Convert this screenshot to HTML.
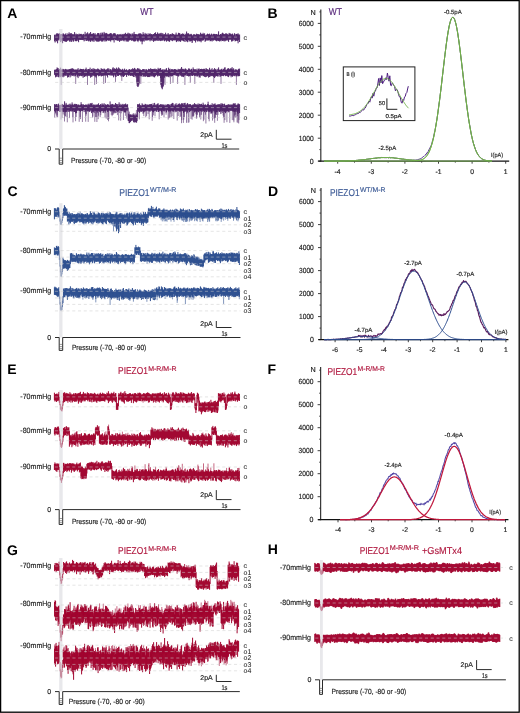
<!DOCTYPE html>
<html><head><meta charset="utf-8"><title>Figure</title>
<style>
html,body{margin:0;padding:0;background:#fff;}
body{width:520px;height:713px;overflow:hidden;}
svg{display:block;font-family:"Liberation Sans", sans-serif;will-change:transform;text-rendering:geometricPrecision;}
</style></head>
<body>
<svg width="520" height="713" viewBox="0 0 520 713">
<rect width="520" height="713" fill="#fff"/>
<rect x="0.6" y="0.6" width="518.6" height="711.6" fill="none" stroke="#000" stroke-width="1.3"/>
<text x="7.3" y="17.8" font-size="14" fill="#000" font-weight="bold">A</text>
<text x="267.6" y="18" font-size="14" fill="#000" font-weight="bold">B</text>
<text x="7.6" y="195.6" font-size="14" fill="#000" font-weight="bold">C</text>
<text x="268" y="195.5" font-size="14" fill="#000" font-weight="bold">D</text>
<text x="7.3" y="374.2" font-size="14" fill="#000" font-weight="bold">E</text>
<text x="267.6" y="374.4" font-size="14" fill="#000" font-weight="bold">F</text>
<text x="7.1" y="554.5" font-size="14" fill="#000" font-weight="bold">G</text>
<text x="267.8" y="554.4" font-size="14" fill="#000" font-weight="bold">H</text>
<text x="140.2" y="15" font-size="10.0" fill="#5a2a7c" stroke="#5a2a7c" stroke-width="0.16" textLength="13.4" lengthAdjust="spacingAndGlyphs">WT</text>
<text x="328.8" y="15.3" font-size="10.0" fill="#5a2a7c" stroke="#5a2a7c" stroke-width="0.16" textLength="13.2" lengthAdjust="spacingAndGlyphs">WT</text>
<text x="119.2" y="195.8" font-size="10.0" fill="#3d5b96" stroke="#3d5b96" stroke-width="0.16" textLength="30.4" lengthAdjust="spacingAndGlyphs">PIEZO1</text>
<text x="150" y="192.2" font-size="6.8" fill="#3d5b96" stroke="#3d5b96" stroke-width="0.16" textLength="26.4" lengthAdjust="spacingAndGlyphs">WT/M-R</text>
<text x="330" y="195.6" font-size="10.0" fill="#3d5b96" stroke="#3d5b96" stroke-width="0.16" textLength="29.5" lengthAdjust="spacingAndGlyphs">PIEZO1</text>
<text x="359.9" y="192" font-size="6.8" fill="#3d5b96" stroke="#3d5b96" stroke-width="0.16" textLength="25.5" lengthAdjust="spacingAndGlyphs">WT/M-R</text>
<text x="118.1" y="374.3" font-size="10.0" fill="#b0183f" stroke="#b0183f" stroke-width="0.16" textLength="29.7" lengthAdjust="spacingAndGlyphs">PIEZO1</text>
<text x="148.2" y="370.7" font-size="6.8" fill="#b0183f" stroke="#b0183f" stroke-width="0.16" textLength="28.4" lengthAdjust="spacingAndGlyphs">M-R/M-R</text>
<text x="327.5" y="375" font-size="10.0" fill="#b0183f" stroke="#b0183f" stroke-width="0.16" textLength="29.7" lengthAdjust="spacingAndGlyphs">PIEZO1</text>
<text x="357.6" y="371.4" font-size="6.8" fill="#b0183f" stroke="#b0183f" stroke-width="0.16" textLength="27.4" lengthAdjust="spacingAndGlyphs">M-R/M-R</text>
<text x="118.1" y="554.2" font-size="10.0" fill="#b0183f" stroke="#b0183f" stroke-width="0.16" textLength="29.7" lengthAdjust="spacingAndGlyphs">PIEZO1</text>
<text x="148.2" y="550.6" font-size="6.8" fill="#b0183f" stroke="#b0183f" stroke-width="0.16" textLength="28.4" lengthAdjust="spacingAndGlyphs">M-R/M-R</text>
<text x="359.7" y="553.9" font-size="10.0" fill="#b0183f" stroke="#b0183f" stroke-width="0.16" textLength="29.6" lengthAdjust="spacingAndGlyphs">PIEZO1</text>
<text x="389.7" y="550.3" font-size="6.8" fill="#b0183f" stroke="#b0183f" stroke-width="0.16" textLength="29.3" lengthAdjust="spacingAndGlyphs">M-R/M-R</text>
<text x="422" y="553.9" font-size="10.0" fill="#b0183f" stroke="#b0183f" stroke-width="0.16" textLength="40.0" lengthAdjust="spacingAndGlyphs">+GsMTx4</text>
<text x="51.3" y="38.8" font-size="7.6" fill="#222" stroke="#222" stroke-width="0.16" text-anchor="end" textLength="31.0" lengthAdjust="spacingAndGlyphs">-70mmHg</text>
<text x="51.3" y="74.6" font-size="7.6" fill="#222" stroke="#222" stroke-width="0.16" text-anchor="end" textLength="31.0" lengthAdjust="spacingAndGlyphs">-80mmHg</text>
<text x="51.3" y="109.6" font-size="7.6" fill="#222" stroke="#222" stroke-width="0.16" text-anchor="end" textLength="31.0" lengthAdjust="spacingAndGlyphs">-90mmHg</text>
<path d="M54.6 35V41.2M55.1 34.3V42.5M55.6 35.5V40.1M56.1 35.3V41.5M56.6 33.4V41M57.1 34.3V40.1M57.6 33.3V43.3M58.1 34.3V40.3M58.6 33.9V39.7M59.1 33.4V40.6M59.6 33.4V39M60.1 34.3V40M60.6 34.4V42.1M61.1 34.3V40.2M61.6 34V40.7M62.1 35.5V39.8M62.6 34.3V43.2M63.1 33.1V39.7M63.6 34.1V41M64.1 34.4V41M64.6 34.6V41.4M65.1 35V41.1M65.6 33.5V41.7M66.1 34.9V41.6M66.6 35V41.8M67.1 33.3V40.3M67.6 34.7V40.8M68.1 35.3V40.2M68.6 33.8V40.4M69.1 32.3V39.5M69.6 34.2V41.5M70.1 33.4V41.8M70.6 33.4V40.5M71.1 34.7V39.9M71.6 33.2V41.9M72.1 34.9V39M72.6 34.2V40.3M73.1 34.2V41.4M73.6 34.5V41.6M74.1 34.9V39.7M74.6 32.1V39.1M75.1 34V41M75.6 35.4V41.2M76.1 33.6V41.1M76.6 34.7V41.2M77.1 34.1V40.7M77.6 34.3V39.6M78.1 35.3V40.9M78.6 34.5V42.2M79.1 33.6V39.7M79.6 34.4V39.6M80.1 34.6V40M80.6 34V39.7M81.1 33.8V40M81.6 34.2V39.8M82.1 35.6V40M82.6 34.4V39.9M83.1 35.2V40.1M83.6 33.9V39.7M84.1 34.3V41.4M84.6 35.3V39.1M85.1 31.8V40.8M85.6 34.3V39.4M86.1 34.7V39M86.6 33.4V41M87.1 34.7V39.7M87.6 32.3V40.5M88.1 33.9V40.6M88.6 34.6V41.4M89.1 33.4V40.1M89.6 33.5V40.6M90.1 34.4V41.5M90.6 32V41.8M91.1 34.4V40.3M91.6 34.1V40.1M92.1 33.7V41M92.6 33.8V40.2M93.1 34.5V41.6M93.6 33.1V39.9M94.1 33.8V41.7M94.6 34.7V39.2M95.1 33.2V40.2M95.6 35V40.4M96.1 34.2V41.2M96.6 35.4V41.5M97.1 35V40.1M97.6 33.2V41.7M98.1 33V40.9M98.6 33.1V41.6M99.1 34.3V41.5M99.6 35.2V40.8M100.1 33.1V41.1M100.6 34.8V40.4M101.1 32.6V39.9M101.6 34.7V41.6M102.1 34.4V40.7M102.6 32.6V41.6M103.1 33.7V40.4M103.6 35.3V40.2M104.1 31.9V40.3M104.6 33.3V39.5M105.1 34.5V41.6M105.6 33.4V39.9M106.1 32.9V41M106.6 33.3V41.3M107.1 33.6V39.8M107.6 34.3V40.2M108.1 34.5V40.4M108.6 34.4V40.7M109.1 33.9V39.7M109.6 33.8V40.7M110.1 33.7V39.3M110.6 33.2V40.9M111.1 33V39.7M111.6 34.2V40.2M112.1 34.2V40.1M112.6 35.3V39.8M113.1 33.8V40.4M113.6 33.5V40M114.1 33.1V42.5M114.6 33.5V39M115.1 33.3V39.8M115.6 34.3V40.2M116.1 34.9V40M116.6 35.5V40.4M117.1 34.5V39.6M117.6 34.2V40.2M118.1 35V40.9M118.6 34.6V40.4M119.1 34.3V38.8M119.6 34.8V41.9M120.1 34.2V40.5M120.6 34.8V40.7M121.1 33.9V39.8M121.6 35.1V40.8M122.1 35.2V38.4M122.6 34.3V40.3M123.1 33.9V40.5M123.6 34.9V40.5M124.1 33.9V41.4M124.6 33.8V39.9M125.1 35V40.3M125.6 32.8V39.6M126.1 34.2V41.5M126.6 34.1V40.5M127.1 34.4V41.6M127.6 33.6V40.8M128.1 32.7V41.9M128.6 34.4V40.6M129.1 33.4V40.5M129.6 33.7V40.1M130.1 33.7V40.2M130.6 34.3V39.9M131.1 34.4V39.3M131.6 35.6V40.7M132.1 33.4V40.7M132.6 34.4V40.1M133.1 33.5V40.3M133.6 34.6V41.1M134.1 31.9V41.7M134.6 34.1V41M135.1 34.4V41.5M135.6 34.1V41M136.1 34.7V39.5M136.6 34.3V39.5M137.1 34.2V41.1M137.6 35.2V41.3M138.1 34.3V40.3M138.6 34V40.5M139.1 33V40.7M139.6 33.9V39.5M140.1 34V40.2M140.6 33.3V41.5M141.1 33.8V39.4M141.6 34.7V41.4M142.1 34.3V44.3M142.6 34.9V41.6M143.1 32.2V39.1M143.6 34.1V40.8M144.1 34.6V41.7M144.6 34.6V39.3M145.1 32.9V40.6M145.6 34.2V39.9M146.1 35.1V40.6M146.6 33.7V39.9M147.1 34.9V40.7M147.6 34.8V40.1M148.1 33.3V38.8M148.6 35V40.1M149.1 34.3V40.4M149.6 33.9V39.5M150.1 33.2V41.3M150.6 34.3V39.7M151.1 34.3V40.3M151.6 34.1V39.9M152.1 35.1V41M152.6 34.5V38.9M153.1 34.2V39.8M153.6 34V41.9M154.1 34.7V40.9M154.6 33.1V40.3M155.1 33.4V41.1M155.6 32.3V40.4M156.1 34.2V40.2M156.6 34V40.3M157.1 34.2V40.8M157.6 32.4V39.8M158.1 33.5V41M158.6 33.9V39.7M159.1 34.4V40.8M159.6 33.4V40.3M160.1 34.8V39.4M160.6 33.3V41.1M161.1 32.8V39.8M161.6 34.5V40.6M162.1 33V40.9M162.6 34.5V40.2M163.1 33.6V39.6M163.6 34.7V39.7M164.1 34.4V41M164.6 34.2V41.3M165.1 35V39.7M165.6 32.7V40.3M166.1 34.6V40.7M166.6 34.5V41.7M167.1 35.5V40M167.6 34.4V40.8M168.1 33V40.4M168.6 34.5V41M169.1 34.6V41.7M169.6 34.8V41.7M170.1 34.2V39.8M170.6 34.2V40.2M171.1 34.2V40.3M171.6 34.8V40.5M172.1 33.5V39.2M172.6 33.4V41.2M173.1 35.9V40.1M173.6 34V40M174.1 34.4V40.7M174.6 34.9V40M175.1 34.9V39.6M175.6 34.5V40.1M176.1 32.6V41.3M176.6 34.6V42.1M177.1 35V40.9M177.6 34.9V40.6M178.1 33.8V41.4M178.6 32.8V40.3M179.1 33V41.5M179.6 33.4V40.9M180.1 33.7V40.9M180.6 35V41.9M181.1 34.6V40.5M181.6 33.9V40.2M182.1 35.2V40.3M182.6 33.4V40.4M183.1 34.1V40.8M183.6 33.8V41.1M184.1 35V41.5M184.6 35V39.1M185.1 33.7V41.9M185.6 34.7V40M186.1 34.2V40.3M186.6 31.5V41.4M187.1 34.7V40.7M187.6 33.4V42.2M188.1 33.6V40.2M188.6 33.3V40M189.1 34.1V41.6M189.6 35V40.5M190.1 34.4V41.1M190.6 34.4V41.4M191.1 33.8V40.9M191.6 34.3V40.8M192.1 35V43M192.6 36.1V40.1M193.1 34.8V40.4M193.6 34.5V40.2M194.1 34V40.4M194.6 34.6V40.8M195.1 35V40.4M195.6 34.9V42.5M196.1 34.4V40.4M196.6 33.7V40.3M197.1 35.8V40M197.6 34.1V41.5M198.1 34.3V40.6M198.6 34.4V40.6M199.1 34.4V41.5M199.6 34.7V41.1M200.1 35.3V40.1M200.6 32.7V41.3M201.1 33.7V42.3M201.6 34.4V40.4M202.1 34V40.7M202.6 34.2V40.4M203.1 32.8V39.7M203.6 34.1V40.4M204.1 34.7V39.4M204.6 33.3V38.8M205.1 35.2V41.9M205.6 35.6V40.9M206.1 34.7V40.8M206.6 35.1V39.7M207.1 34.1V39.8M207.6 33.6V40.4M208.1 34V40.7M208.6 34.4V40M209.1 34.6V40.2M209.6 33.6V39.9M210.1 35.1V41.3M210.6 34.6V41M211.1 35.5V39.8M211.6 33.6V40.6M212.1 34.4V41.5M212.6 35.4V40.3M213.1 34.4V40M213.6 33.8V40.7M214.1 34.2V39.5M214.6 33.9V39.9M215.1 35.6V40.3M215.6 34.2V40.2M216.1 34.1V41M216.6 34.1V41.3M217.1 34.8V40.2M217.6 34.9V40.5M218.1 33.9V41.1M218.6 31.3V40.9M219.1 34.9V40.4M219.6 35.1V41.5M220.1 34.6V40.5M220.6 34V40.6M221.1 34.2V41.3M221.6 34.6V39.8M222.1 33.2V40.1M222.6 32.7V41M223.1 33.8V41M223.6 33.6V40.2M224.1 35.2V41.4M224.6 34V40.4M225.1 35.3V41.3M225.6 33.6V40.6M226.1 33.2V40.2M226.6 33.9V40.5M227.1 33.8V39.5M227.6 34.4V39.9M228.1 34.5V41M228.6 34.9V41.9M229.1 32.9V39.8M229.6 33.5V39.4M230.1 34.5V39.9M230.6 33.5V39.4M231.1 34.2V39.4M231.6 34.7V41.5M232.1 33.9V41.4M232.6 33.6V40.6M233.1 34.9V40.9M233.6 35.5V39.3M234.1 34.5V39.9M234.6 33.2V39.7M235.1 34.2V41.4M235.6 35.7V41M236.1 34.1V40.6M236.6 34V40.6M237.1 33.8V40.4M237.6 34.5V41.1M238.1 33.3V43.3M238.6 34.5V40M239.1 35.7V38.9M239.6 34.5V42" fill="none" stroke="#4f2468" stroke-width="1.0"/>
<path d="M80.1 37.1V40M92.1 37.1V41.4M104 37.1V41.5M110.7 37.1V42.1M117.5 37.1V40.8M138.2 37.1V42.2M192.4 37.1V42.3M61 37.1V42.1" fill="none" stroke="#4f2468" stroke-width="0.75" stroke-opacity="0.8"/>
<path d="M54.6 69.7V74.8M55.1 70.6V75.2M55.6 69.5V77.4M56.1 70.2V76.6M56.6 69.1V76.3M57.1 67.4V77M57.6 68.3V75.4M58.1 68V74.9M58.6 69.7V77.1M59.1 69.6V77.4M59.6 68.9V75.9M60.1 69.9V76.6M60.6 67.6V77.2M61.1 69.8V75.8M61.6 69.7V76.4M62.1 68.9V75.7M62.6 69.6V76.8M63.1 68.9V77.3M63.6 69.4V75.7M64.1 69.3V76.6M64.6 70.3V75.1M65.1 69.3V75.9M65.6 68.9V75.3M66.1 69.6V75.9M66.6 69.5V74.6M67.1 69.6V75.6M67.6 70.1V77.6M68.1 69.1V76.9M68.6 69.9V77.1M69.1 69.5V75M69.6 69.1V75.4M70.1 69V77.4M70.6 69.1V74.6M71.1 68.5V76.3M71.6 68.9V75M72.1 68.4V75.2M72.6 68.4V75.9M73.1 69.9V75.1M73.6 68.8V75.6M74.1 69.8V76.4M74.6 69.8V74.6M75.1 69.4V76.1M75.6 70V75.8M76.1 69.3V74.9M76.6 69.9V74.4M77.1 69.8V76.7M77.6 69.4V76.5M78.1 68.1V78.1M78.6 70.3V75.5M79.1 69.7V75.4M79.6 69.9V76.3M80.1 68.8V76M80.6 68.9V75.2M81.1 69V75.8M81.6 69V76.1M82.1 69.3V76.2M82.6 69.2V75.5M83.1 70.5V77.8M83.6 68.9V75.3M84.1 70.3V76.7M84.6 70.2V76.9M85.1 69V76.1M85.6 69.2V76.2M86.1 67.6V75.7M86.6 69.8V75.5M87.1 69.1V76.6M87.6 70.4V75.5M88.1 69.3V75.2M88.6 69V75.8M89.1 69.2V75.5M89.6 69.4V75.6M90.1 67.6V76.2M90.6 70.3V77.7M91.1 70.1V74.3M91.6 68.9V76.8M92.1 69V76.5M92.6 69.9V75M93.1 68.1V76M93.6 69.7V75.4M94.1 69.2V74.5M94.6 68.7V75.9M95.1 71V76.7M95.6 69.4V76.3M96.1 69V77.7M96.6 69.7V75.9M97.1 70.2V75.4M97.6 68.5V75M98.1 69.9V74.9M98.6 68.8V76.3M99.1 70V75.4M99.6 69.6V75.8M100.1 70V75.4M100.6 70.3V75.3M101.1 68.2V76.3M101.6 68.8V76.3M102.1 69.9V75.8M102.6 69.1V75.7M103.1 68.8V76M103.6 70.1V75.1M104.1 68.7V75.3M104.6 68.8V75.6M105.1 70.1V75M105.6 69.8V75.3M106.1 69.5V75.4M106.6 69.4V75.2M107.1 70.1V75.9M107.6 68.6V77.5M108.1 68.2V75M108.6 69.6V75M109.1 68.7V74.4M109.6 70.7V75M110.1 69.7V75.8M110.6 69.2V74.7M111.1 69.4V74.9M111.6 70.4V75.6M112.1 70.3V75.1M112.6 68.3V75.4M113.1 67.2V75.8M113.6 69.2V77.3M114.1 68.1V75.2M114.6 68.7V74.5M115.1 69.1V76.1M115.6 68.8V76.6M116.1 69.5V76.9M116.6 67.6V74.3M117.1 70V75.3M117.6 68.7V75.9M118.1 69.9V75.3M118.6 67.4V76M119.1 69.5V75M119.6 68.4V74.9M120.1 70.7V74.6M120.6 69.2V75.5M121.1 69.8V76.4M121.6 69.8V74.9M122.1 70.4V76.7M122.6 68.8V75.5M123.1 70V76.2M123.6 70.5V77M124.1 69.3V75.6M124.6 68.6V75.8M125.1 70.8V74.9M125.6 70V74.7M126.1 69.7V74.8M126.6 69.3V76.9M127.1 70.2V74.8M127.6 70.7V74.7M128.1 70.2V75.1M128.6 70.1V75.7M129.1 69V75.6M129.6 69.3V74.9M130.1 69.8V74.9M130.6 69.8V75.9M131.1 69.8V75.8M131.6 69.2V75.5M132.1 70.4V74.8M132.6 68.3V76.2M133.1 69.8V74.8M133.6 68.8V76.9M134.1 69.2V77M134.6 67.9V74.9M135.1 68.7V75.2M135.6 69.6V76.3M136.1 69.7V77.6M136.6 69.9V75.5M137.1 68.9V75.3M137.6 68.1V74.5M138.1 70.5V74.8M138.6 68.6V76.1M139.1 68.6V75.8M139.6 69.7V74.8M140.1 69.5V75.6M140.6 69.7V75.8M141.1 70V76.5M141.6 70.1V76M142.1 70.2V75.3M142.6 69.3V74.8M143.1 69V77M143.6 69.3V76M144.1 69.1V74.9M144.6 70.4V76.4M145.1 69.3V76.8M145.6 70.6V76.5M146.1 69.5V74.1M146.6 69.3V76.2M147.1 70.2V76.3M147.6 70.5V77.1M148.1 69.8V76.6M148.6 68.8V77M149.1 69.4V77.1M149.6 69.2V76.7M150.1 70.3V76.8M150.6 68.3V75.7M151.1 70.2V75.1M151.6 68.9V76.4M152.1 69.5V74.4M152.6 69V76.4M153.1 70V75.1M153.6 69.1V76.5M154.1 68.8V77.2M154.6 69.3V77.3M155.1 68.6V75.7M155.6 69.5V76.2M156.1 69.7V75.1M156.6 69.2V74.9M157.1 70.7V75.4M157.6 69.6V76.4M158.1 67.8V76.2M158.6 69V75.1M159.1 70.2V75.8M159.6 68.8V75.8M160.1 68.3V75.2M160.6 68.1V78M161.1 70V75.2M161.6 69.9V75.4M162.1 69.6V77.9M162.6 69.7V75.8M163.1 69.4V76M163.6 70.6V75.7M164.1 69.4V74.7M164.6 70.1V77.7M165.1 69.5V75.7M165.6 70.1V75.7M166.1 68.7V75.9M166.6 68.2V75.9M167.1 70.1V76.7M167.6 70.7V76.2M168.1 70.2V75M168.6 67.7V76.9M169.1 69.9V77.3M169.6 69.1V75.6M170.1 68.7V75.8M170.6 70.6V75.8M171.1 70V76.3M171.6 69.2V76.3M172.1 69.2V74.7M172.6 69.4V76.1M173.1 70.3V75.3M173.6 69.5V75M174.1 69.7V74.8M174.6 69V75.2M175.1 69.6V75.2M175.6 69.2V74.7M176.1 70V76M176.6 69.7V75.5M177.1 69.9V75.6M177.6 70.5V75.7M178.1 68.8V76.1M178.6 69.5V76.6M179.1 69.6V75.8M179.6 69.3V74.2M180.1 69.2V75.2M180.6 69.3V75.7M181.1 68.3V74.8M181.6 67V76.5M182.1 70.8V76.5M182.6 68.9V76.6M183.1 68.8V76M183.6 69.4V77.1M184.1 69.5V76.1M184.6 69.6V75.1M185.1 68.6V74.7M185.6 68.6V75.2M186.1 69V75.7M186.6 70.4V74.1M187.1 70.1V76M187.6 69.9V75.8M188.1 69.7V75.7M188.6 68.4V76.5M189.1 69.5V75.9M189.6 68.6V76.2M190.1 70.3V76.1M190.6 69.9V74.4M191.1 69.1V75.3M191.6 68.8V75.6M192.1 69.5V75.7M192.6 71.2V76M193.1 67.4V75.5M193.6 68.9V75.1M194.1 69.5V74.8M194.6 69.5V75.9M195.1 69.1V75.8M195.6 69.7V75.5M196.1 69.4V76.2M196.6 70.4V75.3M197.1 68.6V76.6M197.6 70.5V76.2M198.1 70.1V75.2M198.6 68.8V75.6M199.1 68.5V77.4M199.6 70.1V76.8M200.1 69.1V77.7M200.6 69V75.5M201.1 69.3V74.9M201.6 68.8V75.8M202.1 69.9V74.7M202.6 69.1V75.4M203.1 69.5V76.2M203.6 68.8V76.1M204.1 69.5V76.1M204.6 68.8V76.9M205.1 70.5V74.5M205.6 69.6V77.2M206.1 68V75.4M206.6 69.1V76.8M207.1 70.3V76.1M207.6 69.1V75.8M208.1 70.4V76.2M208.6 69.6V77.6M209.1 70V75.4M209.6 67.8V77M210.1 70.2V75.1M210.6 70V76.4M211.1 69V75.1M211.6 70.3V76.1M212.1 68.2V75.2M212.6 70.2V76.2M213.1 69.9V75.1M213.6 69.5V76.9M214.1 69.8V75.9M214.6 68.1V78M215.1 69.5V74.8M215.6 69.2V76.7M216.1 69.9V75.9M216.6 70.7V76M217.1 68.8V76.2M217.6 70.5V76.5M218.1 69.1V76.1M218.6 67.4V74.3M219.1 70.8V76.7M219.6 69.8V75.2M220.1 69.5V74.5M220.6 69.8V76.7M221.1 69.8V75.6M221.6 68.8V75.9M222.1 69.8V75.3M222.6 70.2V75.9M223.1 68.7V75.5M223.6 69.1V76.2M224.1 69.7V75.2M224.6 67.6V75M225.1 67.3V75.5M225.6 69.9V76.2M226.1 70.8V76M226.6 70V75.6M227.1 69V75.4M227.6 68.8V76.4M228.1 68.2V76.4M228.6 68.3V77.1M229.1 69.1V75.5M229.6 69.5V75.3M230.1 68.7V75.3M230.6 68.4V75.5M231.1 69.5V77.3M231.6 68.4V75.9M232.1 67.1V76M232.6 69.3V76.8M233.1 70.1V76M233.6 68.3V75.5M234.1 69.5V74.6M234.6 70.5V76.2M235.1 70.7V75.2M235.6 69.3V75.5M236.1 69.8V76.4M236.6 69.6V75.8M237.1 69.9V76.3M237.6 70.7V75.1M238.1 69.7V76.2M238.6 68.8V76.1M239.1 69.9V76.2M239.6 68.6V75.9M136.8 72.4V83.3M137.2 72.4V85.9M137.8 72.4V86.9M138.2 72.4V86.6M138.8 72.4V85.3M139.2 72.4V83.5M160.8 72.4V84.8M161.3 72.4V86.8M161.8 72.4V88.2M162.3 72.4V89.3M162.8 72.4V87.2M163.3 72.4V86.3M163.8 72.4V83.4" fill="none" stroke="#4f2468" stroke-width="1.0"/>
<path d="M124 72.4V75.3M153.6 72.4V76.4M166.1 72.4V77.1M166.7 72.4V76.1M204.2 72.4V74.9M238.5 72.4V75.2M61.2 72.4V84.9M75.7 72.4V83.9M87.5 72.4V84.9M94.7 72.4V84.9M96.5 72.4V83.9M103.7 72.4V83.9M105.5 72.4V82.9M115.5 72.4V81.9M121.8 72.4V80.9M140.8 72.4V83.9M165 72.4V84.9M170.4 72.4V83.9M173 72.4V82.9M177.6 72.4V83.9M184.9 72.4V84.9M190.3 72.4V82.9M194.8 72.4V83.9M213.8 72.4V82.9M221 72.4V83.9M236.4 72.4V84.9" fill="none" stroke="#4f2468" stroke-width="0.75" stroke-opacity="0.8"/>
<path d="M54.6 104.2V111.3M55.1 104V111M55.6 105.1V112.7M56.1 105.8V110.3M56.6 104V110.4M57.1 104.2V110.3M57.6 106.2V110.9M58.1 105.3V111.1M58.6 103.6V110.8M59.1 105.3V110.2M59.6 105.3V112M60.1 104.9V111.4M60.6 104.9V111.9M61.1 104.7V110.2M61.6 105V110.1M62.1 103.9V111.5M62.6 104.3V110.3M63.1 104.7V112M63.6 105V111.6M64.1 105.2V112.1M64.6 101.3V110.7M65.1 104.3V111.7M65.6 105.4V112.3M66.1 102.9V110.7M66.6 104.5V111.9M67.1 105.1V110.6M67.6 104.9V110.1M68.1 104.8V111.9M68.6 105.1V110.4M69.1 103.9V111.9M69.6 105.5V110.7M70.1 103.6V111.3M70.6 104.7V111.2M71.1 105.8V109.4M71.6 104.5V111.5M72.1 102.4V109.8M72.6 104.3V111.1M73.1 105.3V111.5M73.6 105.1V110.2M74.1 103.9V112M74.6 104.3V111.9M75.1 103.8V111.4M75.6 104.6V113.4M76.1 104V110.2M76.6 104.1V113.1M77.1 104.7V111M77.6 105.3V110.5M78.1 104.5V109.6M78.6 104.7V110.5M79.1 105.6V110.9M79.6 105.3V111M80.1 104.7V110.1M80.6 104.8V111.8M81.1 102.2V110.7M81.6 104.2V110.9M82.1 104.1V109.7M82.6 105.3V111M83.1 104.7V110.2M83.6 104.4V110.1M84.1 105.2V112.1M84.6 105V110M85.1 105V110.2M85.6 104.5V111.5M86.1 105.1V114.2M86.6 104.7V110.3M87.1 104.7V111.1M87.6 105.4V111.4M88.1 103.8V110.8M88.6 104.9V110.9M89.1 103.6V111.9M89.6 104.8V111.6M90.1 105.2V111.5M90.6 103.3V110.5M91.1 103.4V110M91.6 103.7V113.1M92.1 102.9V110.5M92.6 105.2V111.7M93.1 105.5V111.6M93.6 104.5V111.7M94.1 104.8V112.9M94.6 105.1V110.7M95.1 104.4V111.1M95.6 105.3V110.9M96.1 105.3V109.9M96.6 104.7V110.9M97.1 104.5V112M97.6 104.6V110.9M98.1 104.9V110.8M98.6 103.3V110.9M99.1 105.1V110.6M99.6 105.1V111.7M100.1 105.1V112.1M100.6 104.1V112.6M101.1 104.4V111.1M101.6 105.5V111.2M102.1 103.3V111M102.6 104.6V110.9M103.1 104.8V112.9M103.6 104.6V111.6M104.1 103.2V111.1M104.6 105.6V111M105.1 104.2V111.6M105.6 104.7V111.1M106.1 104.6V109.2M106.6 105.1V110.1M107.1 105V111M107.6 104.2V111.9M108.1 104.3V111.7M108.6 104.9V110.4M109.1 105.1V110.7M109.6 105.7V110.1M110.1 101.4V111M110.6 104.6V111.4M111.1 104.7V111.2M111.6 104.5V110.8M112.1 103.9V111.4M112.6 104.1V110.8M113.1 105.6V109.8M113.6 104.5V111.1M114.1 106.5V112.1M114.6 104.7V110.5M115.1 104.7V113.2M115.6 103V110M116.1 105.4V112.8M116.6 104V110.9M117.1 106V110.7M117.6 104.4V111.9M118.1 104V110.6M118.6 106.1V111.4M119.1 102.3V109.9M119.6 104.8V110M120.1 103.8V110.8M120.6 105.5V109.7M121.1 104.8V111M121.6 105.1V110.8M122.1 103.9V110.9M122.6 105.3V110.6M123.1 103.9V111.6M123.6 105.1V110.4M124.1 104.7V110.1M124.6 104.3V112M125.1 104.5V112.5M125.6 103.5V112.2M126.1 105.3V110.1M126.6 104.5V110.3M127.1 105.1V111.2M127.6 104.2V109.6M128.1 107.6V120.7M128.6 113.7V121M129.1 115.8V123.1M129.6 114.5V123.1M130.1 114.7V121.3M130.6 115.1V122.1M131.1 114.8V120.4M131.6 115.4V120.8M132.1 114.3V120.8M132.6 115.6V119.4M133.1 114.6V120.2M133.6 114.7V122.3M134.1 114.7V121.4M134.6 115.5V122.5M135.1 113.5V119.4M135.6 115.5V122.2M136.1 115.6V122.3M136.6 114.5V122.7M137.1 115.8V121.1M137.6 104.3V117.6M138.1 104.1V110.9M138.6 104.8V111.8M139.1 104.3V111.3M139.6 103.5V112.9M140.1 105.6V110.6M140.6 105.2V111.5M141.1 105.4V112M141.6 105.7V111.5M142.1 103.3V110.5M142.6 104.5V111.3M143.1 105.8V113.7M143.6 104.8V111.7M144.1 104.9V111.1M144.6 105V111.7M145.1 103.8V110.5M145.6 104.3V111.3M146.1 104.4V111M146.6 105.4V110M147.1 104.5V110.7M147.6 104.8V110.3M148.1 104.9V111.1M148.6 104.7V110.2M149.1 104.9V111.4M149.6 104.4V110.9M150.1 104V111.8M150.6 104.4V110.5M151.1 104.3V110.8M151.6 103.9V110.2M152.1 105.3V111.1M152.6 105.4V111.6M153.1 103.3V111.3M153.6 105V112.3M154.1 105.5V111.1M154.6 102.9V110.7M155.1 105.4V110.9M155.6 105.2V110.1M156.1 104.2V111.1M156.6 105.3V111.8M157.1 104.6V110M157.6 103.8V110.3M158.1 103.2V111.9M158.6 105.5V112M159.1 104.7V111.2M159.6 105V110.5M160.1 105.2V111.1M160.6 104.1V110.3M161.1 105.2V111.3M161.6 104.3V111.9M162.1 105.5V109.8M162.6 104.4V110.5M163.1 105.1V110.3M163.6 104.5V110.9M164.1 105.5V111.6M164.6 105.4V110.7M165.1 104.4V110.9M165.6 105.9V109.7M166.1 105.1V112.6M166.6 105.3V112.1M167.1 104.2V109.8M167.6 104.5V110.2M168.1 104.1V110.8M168.6 104.4V111.6M169.1 105.5V110.2M169.6 104.7V111M170.1 104.6V111.8M170.6 105.9V111.1M171.1 104V110.9M171.6 103.6V110.1M172.1 104.3V110.7M172.6 102.9V111M173.1 103.3V112M173.6 105.5V111.1M174.1 105.8V110.6M174.6 105.5V110.1M175.1 104V112.3M175.6 104.9V111.3M176.1 103.2V110M176.6 105.4V111.7M177.1 105.1V109.7M177.6 105.1V110.7M178.1 103.7V110.9M178.6 104.2V110.6M179.1 104.7V110.9M179.6 103.4V111.6M180.1 104.7V111.6M180.6 104.4V111.2M181.1 104.9V111.1M181.6 103.3V110.7M182.1 103.4V110M182.6 104.1V111.2M183.1 103V109.5M183.6 104.7V113M184.1 105.7V111.8M184.6 103.1V111.5M185.1 102.8V110.3M185.6 104.8V111.5M186.1 105.7V111.6M186.6 104.6V110.7M187.1 103.7V109.3M187.6 103.1V112.6M188.1 105.3V110.8M188.6 104.3V109.8M189.1 106.1V110M189.6 104.2V112.1M190.1 104.4V110.2M190.6 104.2V111.2M191.1 105.5V110.6M191.6 105.3V109.9M192.1 105.4V110.7M192.6 104.7V110.2M193.1 104.7V110.4M193.6 104.5V109.6M194.1 104.6V111.2M194.6 103.1V112.5M195.1 105.2V111.1M195.6 104.1V111.6M196.1 105V111.2M196.6 104.4V112.4M197.1 104.8V114.8M197.6 104.6V111.3M198.1 103.4V111.4M198.6 104.7V112.3M199.1 105.9V110.8M199.6 103.8V110.8M200.1 104.2V109.9M200.6 104.5V111M201.1 104.5V111.7M201.6 103.8V110.7M202.1 105V111.9M202.6 104.9V110.7M203.1 102.7V110.5M203.6 104.5V111M204.1 105V111.1M204.6 105V112.2M205.1 104.3V111.2M205.6 104.6V110.6M206.1 105.3V110.2M206.6 105.5V112.1M207.1 104.9V111M207.6 104.1V110M208.1 101.7V111.8M208.6 104.3V111.2M209.1 105.1V111.9M209.6 105.1V111.4M210.1 105.6V112.1M210.6 104.7V110.9M211.1 105V110.9M211.6 105.1V113.3M212.1 103.2V111.8M212.6 105.5V110.4M213.1 104.2V109.5M213.6 104.9V110.9M214.1 103.8V112.4M214.6 104.3V110.8M215.1 103.4V109.9M215.6 105V114.5M216.1 104.8V111.5M216.6 104.9V112.2M217.1 104.9V112.1M217.6 104.5V109.9M218.1 104.5V111.7M218.6 104.5V110.4M219.1 104.2V111.1M219.6 104.6V112M220.1 104.1V111M220.6 105.1V110.9M221.1 103.1V112.2M221.6 104.9V110.6M222.1 104V110.5M222.6 103.5V111.2M223.1 104V110.6M223.6 105.8V110.4M224.1 104.3V111.7M224.6 103.7V111.7M225.1 105.3V110.7M225.6 105.5V113.2M226.1 105.1V111.9M226.6 104.9V111.2M227.1 105.5V110.6M227.6 104.6V111M228.1 105.5V111.7M228.6 104.2V111.4M229.1 105.3V111.8M229.6 104.8V110.3M230.1 104.3V110.6M230.6 105.3V110.8M231.1 104.8V110M231.6 104.6V110.8M232.1 104.9V110.8M232.6 104.7V110.9M233.1 103.7V112.1M233.6 103.4V111.1M234.1 104.7V110M234.6 103.7V111.9M235.1 103.1V110.5M235.6 104.7V111.3M236.1 105V112M236.6 105.4V110.2M237.1 104.5V110.7M237.6 104.7V112.7M238.1 103.3V114M238.6 104.2V111.4M239.1 103.9V110.1M239.6 104.4V113" fill="none" stroke="#4f2468" stroke-width="1.0"/>
<path d="M129.4 117.6V111.6M130.6 117.6V114M133.3 117.6V113M136.4 117.6V109.9M54.7 107.6V117.6M55.8 107.6V114.3M56.7 107.6V116.7M57.1 107.6V115.2M57.6 107.6V117.1M62.1 107.6V118M63.1 107.6V114.4M64.3 107.6V115.5M64.5 107.6V121.5M65.5 107.6V116M66 107.6V117.1M67.3 107.6V122.3M69.5 107.6V118.1M72.8 107.6V117.4M73 107.6V122.4M75.6 107.6V121.2M76.2 107.6V117M79.2 107.6V121.8M80.1 107.6V118M80.5 107.6V119.1M82.4 107.6V122M85.7 107.6V121.7M86 107.6V115.8M88.2 107.6V121.9M92.6 107.6V117.6M92.9 107.6V116.5M94.8 107.6V121.8M95.5 107.6V117.1M96.1 107.6V113.6M96.7 107.6V117.3M96.9 107.6V122M97.6 107.6V113M98.2 107.6V119.2M98.6 107.6V115.7M100.2 107.6V117.2M100.8 107.6V115.2M103.9 107.6V113.2M105 107.6V117.5M105.4 107.6V113M106.2 107.6V118.7M107.6 107.6V119.9M108.5 107.6V121.3M108.9 107.6V119M111.3 107.6V114.9M112.1 107.6V116.2M112.6 107.6V114.9M113.3 107.6V114.6M113.8 107.6V113M114.1 107.6V113.4M117.4 107.6V115.1M118.7 107.6V120.4M119.3 107.6V113M120.7 107.6V120.7M121.2 107.6V113.3M123.4 107.6V120M124.7 107.6V112.7M125.4 107.6V115.8M126.7 107.6V118.5M139.3 107.6V119.4M143.8 107.6V116.1M144 107.6V112.6M145.8 107.6V117.3M146.6 107.6V115.9M148.1 107.6V114.1M149.2 107.6V119.3M152.2 107.6V120.8M152.5 107.6V116.9M153.6 107.6V115.3M155 107.6V116.3M159.2 107.6V119.3M161.3 107.6V113.7M161.6 107.6V115.7M162.3 107.6V115.2M162.6 107.6V114.6M164 107.6V117.4M166.1 107.6V114.7M168.2 107.6V119.6M169.1 107.6V118.2M169.8 107.6V117.5M170.2 107.6V113.7M171.1 107.6V117.1M172.1 107.6V116.3M173.8 107.6V119M177.2 107.6V120.6M178.2 107.6V116M180.1 107.6V117M180.9 107.6V116.3M181.5 107.6V123.2M181.8 107.6V120.1M183.4 107.6V122.9M183.8 107.6V119.7M184.5 107.6V116.9M186.5 107.6V122.8M186.8 107.6V113.9M188.2 107.6V122.8M189 107.6V122.4M191 107.6V118.9M192.1 107.6V119.7M192.4 107.6V116.6M193 107.6V116.1M193.6 107.6V116.7M193.8 107.6V115.6M195.9 107.6V114.3M196.4 107.6V118.6M196.8 107.6V118.3M199.5 107.6V117.4M199.9 107.6V115.3M200.8 107.6V119.5M201.5 107.6V114.8M203.4 107.6V121.2M204 107.6V119.7M205.4 107.6V114.7M205.9 107.6V123.5M208.6 107.6V119.1M209.2 107.6V121.3M210.3 107.6V113.4M211.1 107.6V114.1M212.1 107.6V113.1M212.5 107.6V120.6M214 107.6V118.6M214.7 107.6V122.8M215 107.6V118M215.3 107.6V117.5M216.5 107.6V115M217.4 107.6V120.8M218 107.6V114.9M220.7 107.6V114.1M221.1 107.6V113.8M222.5 107.6V113M223.1 107.6V115.5M223.6 107.6V117.6M224.1 107.6V122.8M224.9 107.6V120.1M225.6 107.6V112.7M226.9 107.6V122.2M228.2 107.6V112.6M229.8 107.6V122.9M232.3 107.6V120.1M233.7 107.6V120.4M233.9 107.6V122.3M234.5 107.6V115.6M234.9 107.6V117.9M235.6 107.6V114.7M235.9 107.6V117.6M237.1 107.6V122.4M237.4 107.6V116.1M237.9 107.6V122.8M238.7 107.6V123.5M239 107.6V120.1M61 107.6V119.6" fill="none" stroke="#4f2468" stroke-width="0.75" stroke-opacity="0.8"/>
<rect x="59.2" y="29" width="3.3" height="120" fill="rgba(218,218,222,0.62)"/>
<line x1="55.1" y1="37.1" x2="240.5" y2="37.1" stroke="rgba(205,205,205,0.58)" stroke-width="0.9" stroke-dasharray="3.1 2.67"/>
<text x="243.6" y="39.5" font-size="7.0" fill="#222" stroke="#222" stroke-width="0.05">c</text>
<line x1="55.1" y1="72.4" x2="240.5" y2="72.4" stroke="rgba(205,205,205,0.58)" stroke-width="0.9" stroke-dasharray="3.1 2.67"/>
<text x="243.6" y="74.8" font-size="7.0" fill="#222" stroke="#222" stroke-width="0.05">c</text>
<line x1="55.1" y1="82.4" x2="240.5" y2="82.4" stroke="rgba(205,205,205,0.58)" stroke-width="0.9" stroke-dasharray="3.1 2.67"/>
<text x="243.6" y="84.8" font-size="7.0" fill="#222" stroke="#222" stroke-width="0.05">o</text>
<line x1="55.1" y1="107.6" x2="240.5" y2="107.6" stroke="rgba(205,205,205,0.58)" stroke-width="0.9" stroke-dasharray="3.1 2.67"/>
<text x="243.6" y="110" font-size="7.0" fill="#222" stroke="#222" stroke-width="0.05">c</text>
<line x1="55.1" y1="117.6" x2="240.5" y2="117.6" stroke="rgba(205,205,205,0.58)" stroke-width="0.9" stroke-dasharray="3.1 2.67"/>
<text x="243.6" y="120" font-size="7.0" fill="#222" stroke="#222" stroke-width="0.05">o</text>
<path d="M216.3 129.8V139.2H231.5" fill="none" stroke="#2a2a2a" stroke-width="1"/>
<text x="212.7" y="136.9" font-size="7" fill="#222" stroke="#222" stroke-width="0.16" text-anchor="end" textLength="12.4" lengthAdjust="spacingAndGlyphs">2pA</text>
<text x="221.4" y="147.7" font-size="7" fill="#222" stroke="#222" stroke-width="0.16" textLength="6.0" lengthAdjust="spacingAndGlyphs">1s</text>
<path d="M55 149H59.2V164.2H62.7V149H239.2" fill="none" stroke="#2a2a2a" stroke-width="1"/>
<line x1="59.2" y1="158.2" x2="62.7" y2="158.2" stroke="#555" stroke-width="0.6"/>
<line x1="59.2" y1="160.4" x2="62.7" y2="160.4" stroke="#555" stroke-width="0.6"/>
<line x1="59.2" y1="162.4" x2="62.7" y2="162.4" stroke="#555" stroke-width="0.6"/>
<text x="51.2" y="151.4" font-size="7" fill="#222" stroke="#222" stroke-width="0.16" text-anchor="end">0</text>
<text x="71" y="163.4" font-size="7.4" fill="#222" stroke="#222" stroke-width="0.16" textLength="75.3" lengthAdjust="spacingAndGlyphs">Pressure (-70, -80 or -90)</text>
<text x="51.3" y="213.7" font-size="7.6" fill="#222" stroke="#222" stroke-width="0.16" text-anchor="end" textLength="31.0" lengthAdjust="spacingAndGlyphs">-70mmHg</text>
<text x="51.3" y="252.6" font-size="7.6" fill="#222" stroke="#222" stroke-width="0.16" text-anchor="end" textLength="31.0" lengthAdjust="spacingAndGlyphs">-80mmHg</text>
<text x="51.3" y="292.8" font-size="7.6" fill="#222" stroke="#222" stroke-width="0.16" text-anchor="end" textLength="31.0" lengthAdjust="spacingAndGlyphs">-90mmHg</text>
<path d="M54.4 208.1V219.3M54.9 209.4V216.4M55.4 208.4V216.8M55.9 208.4V215.8M56.4 210.1V216.9M56.9 209.5V213.7M57.4 207.9V215.1M57.9 207.1V217.3M58.4 207.6V215.9M58.9 208.2V217.4M59.4 211.7V216.7M59.9 215.2V221.6M60.4 218.6V224.2M60.9 220.5V225M61.4 221V224.8M61.9 219.5V223M62.4 216.9V220.8M62.9 213V218M63.4 208.9V214.5M63.9 208.1V215.9M64.4 205.2V215.7M64.9 206.7V214.9M65.4 207.1V215.2M65.9 208.2V215.9M66.4 208.8V215.5M66.9 208.6V215.6M67.4 211.7V221.6M67.9 214.1V221.2M68.4 213.9V220.9M68.9 214.5V224.5M69.4 214.8V221.7M69.9 214.5V222.6M70.4 213.5V223.4M70.9 213.6V221.9M71.4 215.3V221.4M71.9 213.1V221.9M72.4 214.8V221.7M72.9 214.3V221.5M73.4 214.5V220.6M73.9 214.2V223.3M74.4 214.1V223.9M74.9 214.2V221.6M75.4 215.1V222.9M75.9 214.3V222.3M76.4 213.9V222.7M76.9 214.5V222.1M77.4 213.9V221.3M77.9 212.7V221.7M78.4 215.8V221M78.9 214.1V221M79.4 214.6V221.7M79.9 214V222.6M80.4 214.9V221.6M80.9 215.9V222M81.4 213.4V222.1M81.9 213.4V221.1M82.4 213.6V222.5M82.9 215.2V223.5M83.4 214.1V223M83.9 215.4V224.4M84.4 214.4V221.3M84.9 214.7V223.1M85.4 213.9V220.7M85.9 214.7V223.8M86.4 215.4V222.7M86.9 213.4V221.6M87.4 213.1V222M87.9 214.4V221.2M88.4 215.1V223.6M88.9 214.6V221.4M89.4 214.9V221.4M89.9 213.8V223M90.4 211V222M90.9 214.1V222.1M91.4 213V223.6M91.9 214.8V220.2M92.4 215.1V221.9M92.9 214.9V224.4M93.4 215.2V222.6M93.9 212.6V222.4M94.4 213.1V221.4M94.9 214.1V222.2M95.4 214.5V220.2M95.9 215.6V220.9M96.4 214.8V223.1M96.9 214.6V222.3M97.4 215.5V222.2M97.9 214.3V223.5M98.4 214.4V221.9M98.9 213V223.4M99.4 213.5V222.7M99.9 213.6V220.7M100.4 215.4V221.6M100.9 215.3V222.6M101.4 212.8V223.2M101.9 213.7V221.9M102.4 215.4V223.9M102.9 212.7V223.6M103.4 214.3V222M103.9 213.1V222.1M104.4 214V221.2M104.9 215.7V222.2M105.4 214.5V223.4M105.9 213.1V221.5M106.4 213.8V224.2M106.9 214.7V220.6M107.4 213.6V220.5M107.9 214.3V220.4M108.4 214.8V222.1M108.9 214.9V222M109.4 215.1V223.3M109.9 213.7V222M110.4 212.4V222.6M110.9 214.7V222.5M111.4 213.8V223.5M111.9 214.1V221.7M112.4 213.9V222M112.9 214.9V221.6M113.4 214.1V221.4M113.9 214.7V221.6M114.4 215.7V222.5M114.9 214V221M115.4 213.6V222.9M115.9 214.7V221M116.4 214.4V220.9M116.9 211.8V220.8M117.4 214.6V222.3M117.9 215.1V221.2M118.4 214.4V220.7M118.9 214.5V222.6M119.4 213.6V222M119.9 215.1V220.7M120.4 213.3V220.8M120.9 215.3V222.7M121.4 214.8V222M121.9 213.2V221.6M122.4 214.6V223.3M122.9 214.7V223.3M123.4 214.7V221.3M123.9 214.9V223.9M124.4 215.6V223.4M124.9 214.9V222.2M125.4 216.2V222.2M125.9 214.9V222.7M126.4 213.8V221.8M126.9 213.2V225.6M127.4 213.7V224.9M127.9 213.2V224.1M128.4 216.4V222.6M128.9 213.9V221.6M129.4 212.4V222.4M129.9 214.1V221.8M130.4 215.5V221.3M130.9 213.5V222M131.4 212.5V222.9M131.9 215V222.7M132.4 215V224.1M132.9 214.4V222.5M133.4 214.7V225.4M133.9 215V220.7M134.4 213.8V221.1M134.9 215.5V222.8M135.4 214.6V224.9M135.9 214.9V220.8M136.4 214.7V222.1M136.9 215.5V222.9M137.4 213.8V223M137.9 213.4V221.6M138.4 214.1V221.4M138.9 215V222.3M139.4 213.8V223.1M139.9 215.2V222.7M140.4 215.3V221M140.9 212.6V223M141.4 214.3V225.1M141.9 215.6V223.5M142.4 214.5V222.8M142.9 214.9V223.3M143.4 211.9V225.9M143.9 214V222.1M144.4 214.2V221.9M144.9 214.2V223M145.4 211.9V221.6M145.9 214.1V223.3M146.4 214.2V223.4M146.9 214.8V221.6M147.4 213.9V222.7M147.9 211.6V222.3M148.4 208.5V218M148.9 207.9V215.7M149.4 209.6V214.6M149.9 208.8V215.1M150.4 208.7V216.1M150.9 208.6V216.6M151.4 205.9V216.8M151.9 209V214.5M152.4 209.2V215.1M152.9 206.9V214.8M153.4 209.1V216.3M153.9 209.5V217.6M154.4 209.6V216.6M154.9 208.9V215.4M155.4 208.4V216.5M155.9 209.2V216.4M156.4 206.7V215.9M156.9 209.1V215.7M157.4 209.9V216.7M157.9 209.8V214.9M158.4 209.3V215.6M158.9 208.1V214.7M159.4 208.8V217.8M159.9 208.7V216M160.4 210.9V217.2M160.9 209.9V215.9M161.4 210.4V216.6M161.9 210.3V217.1M162.4 209.7V218.5M162.9 209.9V218.2M163.4 209.5V217.8M163.9 208.4V217.3M164.4 210.6V218.9M164.9 209.5V218M165.4 211.1V218.1M165.9 210.6V216.2M166.4 210.3V216M166.9 209.5V216.7M167.4 211.1V216.8M167.9 210.3V216.9M168.4 210.6V216.6M168.9 210.9V216.2M169.4 211.1V216.6M169.9 210V216.4M170.4 209.5V217.3M170.9 211V217.4M171.4 211.1V218.4M171.9 210.1V216.9M172.4 209.6V216.9M172.9 210.2V217.8M173.4 211.4V220M173.9 210.2V215.8M174.4 209.5V216.6M174.9 212.3V216M175.4 211.3V217.1M175.9 208.7V215.7M176.4 209.3V217.1M176.9 210.9V218.8M177.4 209.6V217.8M177.9 210.4V217.2M178.4 211.2V216.1M178.9 210.5V217.8M179.4 210.9V218.4M179.9 211.3V217.3M180.4 208.5V216.7M180.9 210.5V217.9M181.4 209.3V218.3M181.9 209.9V216.1M182.4 210.2V216M182.9 209.4V217.6M183.4 208.5V217.8M183.9 210.8V218.5M184.4 211.2V215.1M184.9 210.4V217.6M185.4 210.7V218.4M185.9 209.7V217.7M186.4 210.3V217.2M186.9 210.2V218.5M187.4 210.9V218M187.9 209.4V218.1M188.4 211.1V216.8M188.9 210.9V217.1M189.4 209.1V216.5M189.9 211.1V218.3M190.4 210.4V218.4M190.9 210.6V218.5M191.4 209.9V218.1M191.9 211.6V217.6M192.4 210.2V217.7M192.9 211.2V218.8M193.4 210.8V216.4M193.9 210V218.5M194.4 210.8V218.1M194.9 210.5V217.2M195.4 209V216.4M195.9 211.2V216.8M196.4 210.3V215.1M196.9 209.5V217.8M197.4 209.4V218.1M197.9 210.5V216.7M198.4 210.1V217.8M198.9 210.2V217.5M199.4 210.3V217.7M199.9 210.5V218.3M200.4 211V216.9M200.9 211.2V217.4M201.4 208.7V218.4M201.9 210.7V218.7M202.4 209.7V219M202.9 211.1V217.7M203.4 210.2V218M203.9 210.3V218.6M204.4 210V217.9M204.9 211.2V216.6M205.4 210.6V218M205.9 212V216.5M206.4 210.9V218.4M206.9 209.9V216.9M207.4 210.1V217.2M207.9 208.9V218.1M208.4 210.8V218.1M208.9 210.6V216.4M209.4 208.9V217.3M209.9 210.3V217.7M210.4 210.3V216.7M210.9 210.5V217.6M211.4 211.1V216.8M211.9 208.9V215.6M212.4 209.7V216.9M212.9 211V218M213.4 210.9V216.6M213.9 211.2V216.6M214.4 210.5V216.8M214.9 210.1V217M215.4 210.4V216.1M215.9 210.2V216.2M216.4 210.7V216.5M216.9 210.7V215.6M217.4 210.2V217.7M217.9 210.5V219.3M218.4 210.5V218.9M218.9 210.6V216.7M219.4 209.7V218.2M219.9 209.3V218M220.4 211.1V216.9M220.9 208.5V219M221.4 211.1V218.6M221.9 208.9V219.4M222.4 210.5V216.4M222.9 209.9V216.9M223.4 210.7V217M223.9 210.2V217M224.4 210.3V217M224.9 210V216.7M225.4 210.6V217.5M225.9 209.8V216.8M226.4 209.3V217.2M226.9 210.3V216.8M227.4 210.4V217.6M227.9 211.3V217.3M228.4 208.9V216.3M228.9 209.8V218.1M229.4 210.7V217.3M229.9 211V218M230.4 210.7V219M230.9 209.2V217.5M231.4 211V216.2M231.9 209.4V215.7M232.4 210.4V217.3M232.9 210V216.7M233.4 209.6V216.4M233.9 211.6V218.2M234.4 210.3V216.2M234.9 211.2V216.7M235.4 210.8V216.2M235.9 209.4V216.9M236.4 211.6V219.4M236.9 207V216.4M237.4 209.7V217.8M237.9 210.2V217.3M238.4 210.3V216.3M238.9 211V218.2M239.4 211.2V218.1M114.4 218V225.9M114.9 218V226.7M116.1 218V228.3M116.6 218V231.3M117.1 218V228.9M118 218V228.9M118.5 218V233.2M119 218V232M120.1 218V226.4M120.6 218V228" fill="none" stroke="#2d4e8f" stroke-width="1.0"/>
<path d="M68 218V211.6M69.1 218V213.3M69.5 218V211.9M70.2 218V215.7M71.5 218V215.2M71.5 218V220.2M71.7 218V220.1M72.5 218V213M73.1 218V220.8M73.9 218V215.6M74.5 218V220.8M75.6 218V214.6M76.2 218V221.7M78.6 218V213M79.6 218V213.1M80.2 218V211.6M81.3 218V214.4M81.7 218V215.7M83.1 218V214.3M83.2 218V220.6M84.6 218V215.2M84.8 218V221.6M86 218V214.8M86.3 218V214.9M86.5 218V219.9M86.8 218V219.6M89.7 218V214.5M90.1 218V221.2M90.4 218V213.6M90.8 218V213M91.2 218V213.4M92.4 218V215.2M92.6 218V220.4M92.9 218V211.7M94.2 218V211.6M94.9 218V213.9M95 218V221.6M96.1 218V213.3M97.1 218V214.2M97.5 218V220.1M97.9 218V212.5M98.5 218V212.4M98.8 218V212.7M100.4 218V215.7M100.3 218V221.6M100.9 218V214.3M102.6 218V220.6M102.7 218V220.8M103.2 218V214.4M104.7 218V214M105.2 218V214.7M106.3 218V213.3M107.3 218V212.3M108.6 218V212.8M109.6 218V211.8M110.9 218V213.9M111.7 218V215.4M114.1 218V214.9M114 218V219.5M116.1 218V211.9M116.6 218V213M116.5 218V220.5M118.5 218V215M119.6 218V213.8M120.9 218V213M121.7 218V215.4M122 218V222M124.3 218V213.9M124.9 218V213.4M124.8 218V219.7M125.2 218V214.5M125.9 218V215.7M127.1 218V215.2M127.2 218V212.5M129.5 218V213.2M132.2 218V220.3M133.1 218V212.3M133.3 218V214.4M134 218V213.7M134.2 218V212.3M134.2 218V221.9M134.9 218V211.9M136.1 218V212.9M136.4 218V214.8M137 218V214.2M137.5 218V213.2M138 218V212.3M138.3 218V214.9M138.5 218V221.6M139.8 218V215.6M140.1 218V221.8M141.6 218V221.4M141.7 218V220.9M144.5 218V214.1M145 218V212.6M144.9 218V221.4M145.3 218V213.1M145.3 218V220.9M146.9 218V213.6M148.5 212.2V216M149.5 212.2V216.3M150.6 212.2V215.1M153.1 212.2V216.9M153.4 212.2V216.6M154 212.2V217.9M155.4 212.2V215.1M160.2 213.5V217.8M161.1 213.5V220.2M161.3 213.5V218.8M162.3 213.5V221.4M163.5 213.5V219.5M163.4 213.5V210.2M164.1 213.5V221.4M164.1 213.5V210.1M164.9 213.5V219M165.3 213.5V221.4M165.3 213.5V209.8M166.1 213.5V221M166.1 213.5V210M166.5 213.5V217.9M167 213.5V221.8M167.5 213.5V218M167.2 213.5V209.9M168 213.5V219.8M168.1 213.5V211.8M168.7 213.5V219.8M169.5 213.5V219.5M169.7 213.5V216.8M170.5 213.5V219.5M170.3 213.5V210.4M171 213.5V221.6M171.5 213.5V217.4M172.8 213.5V220M173.4 213.5V216.5M174 213.5V221.8M174.2 213.5V217.6M174.7 213.5V218.2M176.7 213.5V220M177.2 213.5V218.5M177.8 213.5V217.6M178.5 213.5V211.6M179.5 213.5V219.7M179.7 213.5V218.7M180 213.5V211.8M181 213.5V219.6M182 213.5V220.1M182.2 213.5V221M183 213.5V219.8M183.1 213.5V211.9M183.6 213.5V221.8M184 213.5V219.3M184.6 213.5V220.2M184.2 213.5V210M185.1 213.5V217.9M185.3 213.5V222M186.1 213.5V221.7M186.2 213.5V216.7M186.7 213.5V221.9M187.4 213.5V221.3M187.5 213.5V210.6M188.1 213.5V216.8M187.7 213.5V211.3M188.8 213.5V217.4M189 213.5V211.6M189.3 213.5V221.7M190 213.5V220.3M191.1 213.5V220.9M191.9 213.5V220.3M191.8 213.5V210.5M192.2 213.5V220.2M193.5 213.5V217.3M194.6 213.5V221.2M194.6 213.5V211.9M195 213.5V219.3M196.1 213.5V220.1M195.7 213.5V209.9M196.4 213.5V220.9M196.3 213.5V210.8M196.8 213.5V216.6M197.3 213.5V221.5M198.1 213.5V218.7M199.3 213.5V219.6M200.1 213.5V222M201.1 213.5V219.2M201.4 213.5V217.7M201.9 213.5V217.2M202.4 213.5V220.8M203 213.5V221.5M203.5 213.5V217.4M204 213.5V219M204.6 213.5V217.5M205 213.5V217.1M205.8 213.5V219M205.7 213.5V210.8M206.2 213.5V216.8M206.8 213.5V216.8M207.6 213.5V222M208.1 213.5V219.5M208 213.5V210.5M208.2 213.5V219.4M209.1 213.5V221.5M209.6 213.5V221.6M209.6 213.5V210.6M209.9 213.5V218.4M210.3 213.5V216.6M211.1 213.5V218.1M211.9 213.5V216.6M212 213.5V210.9M212.2 213.5V217.4M213 213.5V218.3M213.2 213.5V216.7M214.6 213.5V218.1M215.8 213.5V221.2M216.1 213.5V210.2M216.2 213.5V220.1M217.1 213.5V221.4M217.5 213.5V216.8M217.6 213.5V211.6M217.9 213.5V221M218.6 213.5V220.4M218.8 213.5V218.2M219.1 213.5V211M219.8 213.5V217.9M220 213.5V211.3M220.3 213.5V218.4M221.2 213.5V221.9M221.8 213.5V217.9M222.4 213.5V218.2M223.1 213.5V217.5M223.6 213.5V220.6M223.7 213.5V216.6M224 213.5V210.5M224.2 213.5V209.5M225.3 213.5V219.8M226.8 213.5V219M227.6 213.5V219.1M227.8 213.5V220.8M228.5 213.5V211.6M229.1 213.5V217.4M229.2 213.5V218.9M229.8 213.5V210.5M230.5 213.5V209.7M230.9 213.5V217.5M232.6 213.5V218M232.9 213.5V216.5M233.5 213.5V220.8M233.8 213.5V219.4M234.5 213.5V216.5M234.6 213.5V211.8M234.7 213.5V211M235.6 213.5V218.1M236.1 213.5V218.7M236.5 213.5V219.5M236.8 213.5V220.7M237 213.5V211.8M237.4 213.5V217.6M237.2 213.5V210.3M238 213.5V221.3M238.6 213.5V219.7M238.2 213.5V211.5M239 213.5V210.5M77 218V222.5M85.7 218V222.5M92.2 218V221.1M103.1 218V224.7M104.5 218V222.2M109.6 218V222.9M111.1 218V224.6M117.6 218V221.1M127 218V221.3M131.5 218V221.2M156.6 212.2V216.8M177.5 213.5V220.2M181.7 213.5V216.8M186.4 213.5V219.7M207.3 213.5V216.6M223.6 213.5V216.7M225.2 213.5V217.8M112.4 218V224.2M112.8 218V225.6M113.5 218V231.4M115.5 218V226.5M117.5 218V224.7M118 218V229.9" fill="none" stroke="#2d4e8f" stroke-width="0.75" stroke-opacity="0.8"/>
<path d="M54.4 247.4V255.1M54.9 248.9V254M55.4 247.9V254.5M55.9 248.1V255.2M56.4 246V254.1M56.9 245.8V253.7M57.4 247.3V255.4M57.9 246.8V255.4M58.4 246.2V253.8M58.9 247V255.4M59.4 250.6V259.9M59.9 257.7V266.6M60.4 265V272.4M60.9 270.8V276.5M61.4 272.5V276.8M61.9 269V274.4M62.4 264.9V271.7M62.9 257.6V266.4M63.4 259.2V268.7M63.9 261.1V268.6M64.4 259.9V268.1M64.9 261V268.4M65.4 260.1V268.2M65.9 260.7V266.7M66.4 260.9V269.1M66.9 261.8V268.2M67.4 259.9V271M67.9 260.1V267.7M68.4 261V269.6M68.9 261.2V268.6M69.4 262.3V268M69.9 260.4V268M70.4 253.3V264.1M70.9 254.6V261.4M71.4 253V260.7M71.9 253.7V262.2M72.4 255.1V261.8M72.9 253.6V260.6M73.4 255.3V261.8M73.9 254.9V261.2M74.4 255.2V261.8M74.9 255V261.1M75.4 256.4V262.2M75.9 255.9V260.8M76.4 253.2V260.8M76.9 254.4V262.3M77.4 254.9V262.6M77.9 256.4V262.8M78.4 254V263.6M78.9 254.6V259.8M79.4 255.5V261.3M79.9 254.3V263.3M80.4 254.5V261.7M80.9 253.6V264M81.4 254.7V261.8M81.9 254.2V262.8M82.4 255.1V261.4M82.9 254.5V260.1M83.4 255V261.5M83.9 254V263.5M84.4 254.9V262.3M84.9 255.2V261.6M85.4 255.3V261.7M85.9 254.9V260.8M86.4 254.3V261.5M86.9 252.5V263M87.4 254.9V262.1M87.9 254.6V260.9M88.4 256.1V262.5M88.9 252.7V262.2M89.4 254.6V264.3M89.9 254.6V261.4M90.4 254.8V262.1M90.9 253.9V261.2M91.4 253V261M91.9 253.1V262M92.4 253.3V263.2M92.9 253V262.2M93.4 255.2V260.6M93.9 256.4V260.4M94.4 255.3V263.3M94.9 253.3V262.3M95.4 254.2V261.6M95.9 255.7V261.3M96.4 253.5V261.9M96.9 255.5V261.5M97.4 253.6V261.5M97.9 255V261.5M98.4 253.2V261.6M98.9 255.1V261.3M99.4 253.8V263.6M99.9 254.2V260.2M100.4 253.4V262.9M100.9 253.4V261.4M101.4 254.8V260.9M101.9 254.9V262M102.4 254.6V260.9M102.9 253.8V262.9M103.4 256.2V261.9M103.9 255.9V263.5M104.4 255.6V262.3M104.9 255.5V261.7M105.4 254V261.9M105.9 254.6V262.5M106.4 255.1V261M106.9 253.8V260.9M107.4 254.9V262.1M107.9 253.2V262.2M108.4 254.5V262.3M108.9 254.5V262.7M109.4 255.5V261M109.9 253.2V261M110.4 254.9V263.3M110.9 255V261.9M111.4 254.7V260.5M111.9 253.6V261.4M112.4 254.4V262.6M112.9 255.5V260.5M113.4 255.3V261.4M113.9 255.4V261.6M114.4 254.2V261.2M114.9 254.7V262.8M115.4 255V260.9M115.9 254.4V262M116.4 252V262.6M116.9 253.2V262.3M117.4 254.7V262M117.9 255V263.9M118.4 254.3V264.2M118.9 254.5V262M119.4 255.3V261M119.9 254.9V260M120.4 255.6V262.9M120.9 255.8V260.5M121.4 255.1V261.8M121.9 254.7V262.1M122.4 254.2V261.8M122.9 255.3V261.2M123.4 254.9V261.7M123.9 254.8V261M124.4 255.6V263.2M124.9 254.7V261M125.4 254.2V264.2M125.9 254.2V260.9M126.4 254.4V261.2M126.9 254.7V259.5M127.4 255V261.6M127.9 255.1V260.7M128.4 254.7V260.8M128.9 254.9V261.9M129.4 255.4V259.8M129.9 255.2V261.8M130.4 254.8V262.9M130.9 255V260.8M131.4 253.8V261.7M131.9 254.7V261.9M132.4 254.8V261M132.9 255.2V264.2M133.4 254.4V261.8M133.9 255V261.6M134.4 254.9V262.5M134.9 247.3V257.9M135.4 247.6V253.2M135.9 244.9V254.4M136.4 247.3V254.9M136.9 247.2V254.8M137.4 247.6V253M137.9 247.5V253.7M138.4 246.6V254.8M138.9 247.9V255.1M139.4 247.4V253.1M139.9 247.2V255.3M140.4 250.6V261.4M140.9 254.4V260.8M141.4 253.1V261.9M141.9 252.9V259.7M142.4 255.2V261.2M142.9 255.3V261M143.4 253.1V260.8M143.9 253.9V261.5M144.4 254.1V261.7M144.9 253.3V260M145.4 255V261.1M145.9 253.1V260.5M146.4 255.2V260.3M146.9 254.5V261.6M147.4 252.8V261.1M147.9 254.5V260.4M148.4 253.7V261.6M148.9 253.7V261.1M149.4 254.5V262.7M149.9 254.7V261.2M150.4 255V261.4M150.9 254.1V262.1M151.4 254.2V262.7M151.9 252.8V262.5M152.4 255.4V262.8M152.9 253.2V260.4M153.4 254.4V260.7M153.9 254.1V261.2M154.4 254.1V260.3M154.9 252.9V260.9M155.4 255.4V261.1M155.9 254.1V261.6M156.4 254.1V260.8M156.9 253.8V262.5M157.4 254.5V260.9M157.9 253.5V261.6M158.4 254.1V261.7M158.9 255.4V260.5M159.4 252.5V262.5M159.9 253.9V262.5M160.4 254.4V260.4M160.9 253.5V260.5M161.4 254.1V261.8M161.9 253.3V261.7M162.4 255.4V260.4M162.9 251.7V261.3M163.4 254.2V261M163.9 255.1V261.8M164.4 254.1V260.1M164.9 252.9V262.3M165.4 254.3V262.6M165.9 254.8V260.3M166.4 255.1V261M166.9 253.6V260.1M167.4 254.5V261.6M167.9 254.1V261.4M168.4 254.6V263.4M168.9 255.2V261.1M169.4 253.9V260.6M169.9 252.9V262.6M170.4 253V260.4M170.9 255.4V260.2M171.4 255V261M171.9 253.2V260.1M172.4 253.7V260.1M172.9 253.7V262.6M173.4 252.1V260.3M173.9 254.8V261.2M174.4 253.7V260.6M174.9 251.5V261.7M175.4 252.7V262.1M175.9 254.1V259.8M176.4 255V262.3M176.9 254.2V261.4M177.4 254.7V260.8M177.9 252.1V260.8M178.4 254.6V263.7M178.9 254.3V260.9M179.4 254.6V262.7M179.9 253.8V261.1M180.4 253.6V260.4M180.9 254.9V262M181.4 254.1V261.2M181.9 255.5V261.4M182.4 254.6V262.2M182.9 254V261M183.4 254.5V260.5M183.9 253.9V261.8M184.4 253.4V261.7M184.9 253.2V262.5M185.4 253.2V261.5M185.9 255.1V263.9M186.4 254.6V265.2M186.9 253.6V262.3M187.4 255.5V263.3M187.9 255.9V260.7M188.4 254.7V261.3M188.9 255.3V261.6M189.4 255.7V261.9M189.9 255.8V263.3M190.4 257.3V265.3M190.9 256.7V264.7M191.4 256.8V262.5M191.9 255.1V265M192.4 256.1V262.7M192.9 256.5V262.3M193.4 257V263.5M193.9 254.2V263.7M194.4 255.3V264M194.9 256.3V264.7M195.4 258.8V264.7M195.9 256.7V265.2M196.4 257.1V265.5M196.9 256.6V264.6M197.4 257.9V263.7M197.9 256.7V265.9M198.4 259.6V265.8M198.9 257.6V264.5M199.4 259.8V265.2M199.9 258.7V266.3M200.4 259.3V266.3M200.9 259.7V267M201.4 259.7V266.2M201.9 258.8V266.8M202.4 260.3V266.5M202.9 260.6V267.4M203.4 260.3V266.3M203.9 254.7V263.1M204.4 253.9V262.1M204.9 253.2V259.6M205.4 253.8V260.4M205.9 252.6V259.6M206.4 254.3V259.2M206.9 252V260.2M207.4 253.9V259M207.9 254.2V259.2M208.4 251.8V262.8M208.9 253.7V262.4M209.4 255.1V261.8M209.9 252.3V259.9M210.4 253.5V261.3M210.9 254.1V259.3M211.4 254.1V261M211.9 254V261.3M212.4 254.1V261.8M212.9 251.3V260.6M213.4 251.3V260.4M213.9 253.4V261.4M214.4 253.8V261M214.9 253.6V262.9M215.4 253.4V262.9M215.9 253V259.8M216.4 252.3V260.1M216.9 253.6V259.8M217.4 254.2V261.1M217.9 254V260.9M218.4 252.4V260M218.9 254.8V260.7M219.4 253.8V261.4M219.9 254.3V260.1M220.4 253V263.2M220.9 254.3V261.6M221.4 254V259.3M221.9 252.3V261.1M222.4 253.5V261.3M222.9 253.6V260.1M223.4 253.3V260.8M223.9 254.3V259.3M224.4 253.6V260.1M224.9 253.2V260.2M225.4 254.5V261.1M225.9 254V259.9M226.4 253.1V260.8M226.9 253.6V259.9M227.4 253.8V262.3M227.9 253.5V262.1M228.4 253.5V261.1M228.9 255.3V259.5M229.4 252.9V259.5M229.9 253.9V259.8M230.4 253.9V261.1M230.9 252.5V261.4M231.4 252.7V261.4M231.9 253V261.2M232.4 252.7V261.8M232.9 252.9V262M233.4 254.1V261.3M233.9 252.8V262M234.4 253.1V260.4M234.9 253.7V262.2M235.4 253.5V261.9M235.9 254.6V260.6M236.4 253.4V260.8M236.9 252.8V261.8M237.4 253.2V260.6M237.9 254.4V261.1M238.4 254.2V263M238.9 251.3V260.6M239.4 253.6V265" fill="none" stroke="#2d4e8f" stroke-width="1.0"/>
<path d="M68.2 264.1V270M90.4 257.9V262.6M106.7 257.9V262.5M110.3 257.9V263.7M126.2 257.9V262.9M131.2 257.9V261.8M145.4 257.4V262M147.1 257.4V263.9M204.9 256.9V262.9M205.5 256.9V260.1M213.8 256.9V262.7M235 256.9V261.1" fill="none" stroke="#2d4e8f" stroke-width="0.75" stroke-opacity="0.8"/>
<path d="M54.4 287.4V294.8M54.9 286.6V294.9M55.4 287.5V295.1M55.9 287.3V294.8M56.4 287.8V295.2M56.9 288.9V295.9M57.4 289.1V296.8M57.9 288.1V294.8M58.4 288.5V296.6M58.9 287.1V295.3M59.4 291.3V298.8M59.9 296.6V304.6M60.4 302.1V309.7M60.9 306.4V310.7M61.4 307.3V310.3M61.9 305.4V310M62.4 300.8V307.1M62.9 296.4V303.1M63.4 288.5V297.8M63.9 289.6V295.5M64.4 289.4V297M64.9 288V297.3M65.4 288.4V295.5M65.9 288.3V294.9M66.4 288V295M66.9 289.8V296.3M67.4 288.7V299.8M67.9 288.1V296.2M68.4 289V296.8M68.9 289.8V296.3M69.4 288.4V296.4M69.9 288.4V296M70.4 286.3V294.6M70.9 290.3V296.6M71.4 290.2V296.7M71.9 287.9V295.1M72.4 290.1V295.6M72.9 288.2V296.3M73.4 289.7V297.8M73.9 288.9V298.4M74.4 290.7V295.8M74.9 289.3V295M75.4 288.8V296.6M75.9 289.1V297.4M76.4 288.1V295.7M76.9 287.9V298M77.4 289.5V296.9M77.9 289.5V297.9M78.4 288.6V298.1M78.9 288.3V297.9M79.4 289.2V297.1M79.9 289.9V297.8M80.4 290.2V295.4M80.9 288.5V294.3M81.4 288.3V294.4M81.9 290.1V296.3M82.4 288.9V297M82.9 289.6V296.9M83.4 287.4V296.4M83.9 288.3V295.5M84.4 288.9V296M84.9 289.3V298M85.4 289.4V295.5M85.9 288.5V295.2M86.4 288.2V297.4M86.9 289.4V297.9M87.4 288.5V296.2M87.9 290.7V296.1M88.4 289V295.9M88.9 289.3V298.9M89.4 289.4V296M89.9 288.4V296.7M90.4 289.2V295.7M90.9 289.9V296.4M91.4 287.2V296.4M91.9 287.9V297.8M92.4 287V297.5M92.9 287V299.6M93.4 289.2V297.4M93.9 289V296.3M94.4 288.3V296M94.9 290.1V295.2M95.4 288.8V295.8M95.9 288.6V298.7M96.4 288.6V295.8M96.9 288.5V295.7M97.4 287.6V296.4M97.9 289.7V297.9M98.4 287.9V296.1M98.9 288.6V296.6M99.4 287.5V295.5M99.9 288.8V295.7M100.4 288.4V297.9M100.9 289.3V296.2M101.4 290.8V299.2M101.9 289.5V296.4M102.4 287V298.2M102.9 288.9V295.5M103.4 288.2V296.3M103.9 289.1V297.9M104.4 289V297.9M104.9 288.7V299.2M105.4 289V296.6M105.9 289.6V296.4M106.4 289V296.7M106.9 289.4V297M107.4 289.7V295M107.9 288V296.2M108.4 289.6V297.7M108.9 290.1V297.8M109.4 291.2V297.3M109.9 291V296.9M110.4 288.8V297.7M110.9 291.9V297.8M111.4 288.5V299.5M111.9 291.4V297.1M112.4 290V298.2M112.9 291.1V297.4M113.4 291.1V298M113.9 291.4V298.5M114.4 290.3V297.9M114.9 290.1V298.4M115.4 291.4V297.7M115.9 288.6V298.1M116.4 289.8V297.3M116.9 291.3V296.5M117.4 290V298M117.9 290.5V300M118.4 289.5V297.8M118.9 290V296.5M119.4 290.8V300.7M119.9 289.4V297.3M120.4 290V295.8M120.9 289.5V296.6M121.4 291.4V298.8M121.9 290.9V299.3M122.4 291V297.8M122.9 288.8V297.9M123.4 288V299.6M123.9 290.8V298.7M124.4 290.4V298.7M124.9 292.2V298.2M125.4 290.8V298.1M125.9 289.1V297.9M126.4 289V298.4M126.9 291.7V298.1M127.4 289.6V298.6M127.9 290.1V297.6M128.4 289.7V298.2M128.9 288.4V300M129.4 292.3V299M129.9 291.1V300.6M130.4 289.6V299M130.9 290.7V298M131.4 289.8V296.4M131.9 289.9V298.1M132.4 288V296.8M132.9 289.6V298.2M133.4 290.1V299.2M133.9 290.5V297M134.4 290.3V298.6M134.9 289.7V298.6M135.4 289.2V296.7M135.9 291.5V297.3M136.4 291.7V297.5M136.9 291.2V299.3M137.4 289.4V298.1M137.9 291.2V299.4M138.4 290.9V297.8M138.9 290.6V298.3M139.4 290.6V296.8M139.9 289.4V297.1M140.4 290.5V297.9M140.9 290.4V298.1M141.4 291.3V299.9M141.9 290.9V297.1M142.4 291.5V299M142.9 291.2V298.2M143.4 290.8V299.2M143.9 290.8V296.8M144.4 289.6V297.4M144.9 290.9V297.7M145.4 290.2V299M145.9 290.6V297.7M146.4 290.7V297.1M146.9 291.5V298.6M147.4 291.3V296.8M147.9 291.8V298.8M148.4 289.9V298.5M148.9 290.4V298.1M149.4 291.4V297.3M149.9 291.5V297.2M150.4 290.6V301.1M150.9 291.3V298.3M151.4 290.9V298.1M151.9 289.6V297.8M152.4 291.3V297M152.9 289V297.3M153.4 290.1V299.9M153.9 290.5V297.6M154.4 291.7V300.2M154.9 288.5V299.4M155.4 292.4V299.4M155.9 289V297M156.4 288V294.4M156.9 287.2V295.6M157.4 289.3V294.9M157.9 288.9V296.8M158.4 288.7V294.8M158.9 286.4V295.9M159.4 286.8V298.1M159.9 288.8V295.8M160.4 289.7V294.5M160.9 289.2V295.7M161.4 286.4V297.9M161.9 288.5V295.7M162.4 287.3V297.2M162.9 289.2V296.7M163.4 289.9V296.2M163.9 289.9V294.8M164.4 287V296M164.9 287.8V295.9M165.4 288.4V295.1M165.9 287.9V295M166.4 289.3V295.2M166.9 289.7V296.7M167.4 288.8V296.5M167.9 288.5V295.8M168.4 288.4V295.4M168.9 289.7V295.1M169.4 288.4V296.7M169.9 288.3V297.5M170.4 288.7V295.6M170.9 288.7V295.3M171.4 289.5V297.3M171.9 288.8V294.9M172.4 289.7V296.9M172.9 289.5V297M173.4 288.5V294.1M173.9 287.4V296.8M174.4 286.8V296.9M174.9 286.5V293.8M175.4 288.6V295.8M175.9 288.8V294.7M176.4 287.9V296.4M176.9 288.4V297.9M177.4 289.3V296.4M177.9 289.1V293.7M178.4 286.9V296.5M178.9 288.2V294.4M179.4 288.7V296.9M179.9 289.3V296.2M180.4 287.8V295.8M180.9 288.9V295.6M181.4 288.5V295.3M181.9 289.6V293.8M182.4 288.7V295.9M182.9 290.5V296.8M183.4 288.4V296.4M183.9 287.4V296.1M184.4 288.7V295.7M184.9 287.8V296.2M185.4 288.7V296.6M185.9 289.1V295.6M186.4 288.6V295.4M186.9 288.4V297.6M187.4 287.8V295.1M187.9 287.7V296.6M188.4 289.2V295.3M188.9 289.7V295.7M189.4 288.2V297.5M189.9 289.2V295.9M190.4 289.4V297.5M190.9 288.4V293.9M191.4 287.9V295.1M191.9 288.6V296.6M192.4 288.4V296.7M192.9 289.1V297.4M193.4 288V294.1M193.9 287.1V298.4M194.4 288.5V295.5M194.9 287.8V294.6M195.4 289.2V296.2M195.9 288.3V295.9M196.4 288.5V296.5M196.9 290.1V295.6M197.4 287.8V295.8M197.9 289.8V294.9M198.4 288V295.5M198.9 288.9V295M199.4 289.2V295.2M199.9 288.6V295.4M200.4 286.4V296M200.9 287.4V296.3M201.4 288.2V297.2M201.9 288.6V296.8M202.4 289.2V294.7M202.9 289V295.6M203.4 289.2V294.7M203.9 286.9V296.3M204.4 287.4V298.1M204.9 288V296.6M205.4 288.8V294.5M205.9 287.4V295.9M206.4 288V294.9M206.9 289V295.9M207.4 288.2V295.5M207.9 288.2V297.7M208.4 288.2V297.1M208.9 288.4V295.8M209.4 288.8V297.4M209.9 288.8V295.2M210.4 288.2V295M210.9 288.8V295.4M211.4 288.1V297.1M211.9 289.1V298.1M212.4 289.7V296.5M212.9 287.1V296.1M213.4 289.1V296.1M213.9 289V296.6M214.4 288.6V293.8M214.9 290V295.6M215.4 289.6V297M215.9 288.6V295.4M216.4 288.4V296.7M216.9 289.2V296.8M217.4 288.4V295.4M217.9 287.2V294.4M218.4 289V296M218.9 290.2V296.4M219.4 288.6V294.8M219.9 288.3V294.1M220.4 288.6V294.2M220.9 287V296.2M221.4 288.7V296.5M221.9 288.9V295.5M222.4 288V294.7M222.9 287.6V296M223.4 287.2V294.7M223.9 289.1V296M224.4 288V295.7M224.9 289.1V295.7M225.4 288.8V297M225.9 288.1V294.7M226.4 288.2V295.3M226.9 288.1V296.1M227.4 288.3V295.5M227.9 287.2V296.9M228.4 289.7V295.5M228.9 288.1V299.8M229.4 289V296.5M229.9 288.5V295.1M230.4 286.9V295.8M230.9 288.6V295.3M231.4 288.1V295.1M231.9 288.7V296.7M232.4 289.8V296.3M232.9 288.9V295.2M233.4 289.7V296.7M233.9 289.2V297.2M234.4 288.3V296.8M234.9 288.9V296.8M235.4 288.6V296.9M235.9 287.3V296.2M236.4 289.1V295.6M236.9 289.3V296.3M237.4 288.3V296.1M237.9 289.3V295.6M238.4 288.7V295.1M238.9 287.4V296.7M239.4 289.8V296.7" fill="none" stroke="#2d4e8f" stroke-width="1.0"/>
<path d="M69.5 292.3V290.1M72.2 292.3V288.4M73.2 292.3V290.8M74.5 292.3V289.8M85.4 292.3V289.8M88.9 292.3V289M91.7 292.3V289.5M92.7 292.3V290.2M95.1 292.3V290.1M97.1 292.3V289M97.4 292.3V289M98.1 292.3V288.7M101.7 292.3V290.4M105.8 292.3V290.3M106.4 292.3V289.3M111.8 293.8V291.1M112.9 293.8V292.1M118.8 293.8V291.3M120.2 293.8V291.4M123.1 293.8V290.9M123.6 293.8V292.2M134 293.8V290.5M144.7 293.8V290.8M149.2 293.8V291.1M150.4 293.8V291M156.5 291.8V290.2M157.6 291.8V289M162.3 291.8V290.2M163.8 291.8V289.2M169.9 291.8V288.1M170.7 291.8V288.5M172.6 291.8V289M173.3 291.8V289.7M174.6 291.8V288.3M175 291.8V289.3M176.5 291.8V288.5M181.5 291.8V290M183.1 291.8V288.3M183.3 291.8V288M183.7 291.8V289.5M187.2 291.8V288.5M190.3 291.8V289M193.3 291.8V289.5M193.8 291.8V289.8M197.4 291.8V288.1M199.4 291.8V290.1M200.4 291.8V287.8M201.6 291.8V290.4M202.4 291.8V289.9M203.6 291.8V288M205.9 291.8V288.3M208.6 291.8V287.8M209 291.8V290.2M209.3 291.8V290.1M211.4 291.8V290.3M213.3 291.8V288.1M215 291.8V290.3M216 291.8V289M216.2 291.8V289.7M217.2 291.8V288M217.8 291.8V288.8M229.7 291.8V287.9M233.8 291.8V290.1M235.4 291.8V288.5M236.1 291.8V288.5M62.8 296.6V303.3M82.9 292.3V299.6M89.7 292.3V295.6M95.5 292.3V298.8M107.5 292.3V298.7M112.8 293.8V296.8M116.9 293.8V299.6M122 293.8V299.9M122.7 293.8V297.7M131.6 293.8V296.9M133.1 293.8V299M133.4 293.8V301.7M146.1 293.8V297.8M146.9 293.8V301.8M147.9 293.8V297.4M152.9 293.8V299.4M157.1 291.8V300.2M165.1 291.8V299M170.1 291.8V297.7M170.8 291.8V296.5M172.5 291.8V299.3M177.4 291.8V300.5M181.6 291.8V297M183.5 291.8V296.7M186.1 291.8V298.1M189.1 291.8V299.9M191.1 291.8V299.5M193 291.8V299.9M195.7 291.8V295.9M202.1 291.8V297M204 291.8V296.2M206.9 291.8V297.9M210.7 291.8V297.4M239.3 291.8V299.2M79.2 292.3V298.5M85.8 292.3V298.6M95.8 292.3V302.4M110.1 293.8V305M177.2 291.8V302.9M185.4 291.8V304.2M223.6 291.8V303.9" fill="none" stroke="#2d4e8f" stroke-width="0.75" stroke-opacity="0.8"/>
<rect x="59.2" y="203.2" width="3.3" height="134.3" fill="rgba(218,218,222,0.62)"/>
<line x1="54.9" y1="211.7" x2="240.5" y2="211.7" stroke="rgba(205,205,205,0.58)" stroke-width="0.9" stroke-dasharray="3.1 2.67"/>
<text x="243.6" y="214.1" font-size="7.0" fill="#222" stroke="#222" stroke-width="0.05">c</text>
<line x1="54.9" y1="218.2" x2="240.5" y2="218.2" stroke="rgba(205,205,205,0.58)" stroke-width="0.9" stroke-dasharray="3.1 2.67"/>
<text x="243.6" y="220.7" font-size="7.0" fill="#222" stroke="#222" stroke-width="0.05">o1</text>
<line x1="54.9" y1="224.8" x2="240.5" y2="224.8" stroke="rgba(205,205,205,0.58)" stroke-width="0.9" stroke-dasharray="3.1 2.67"/>
<text x="243.6" y="227.2" font-size="7.0" fill="#222" stroke="#222" stroke-width="0.05">o2</text>
<line x1="54.9" y1="231.3" x2="240.5" y2="231.3" stroke="rgba(205,205,205,0.58)" stroke-width="0.9" stroke-dasharray="3.1 2.67"/>
<text x="243.6" y="233.8" font-size="7.0" fill="#222" stroke="#222" stroke-width="0.05">o3</text>
<line x1="54.9" y1="250.6" x2="240.5" y2="250.6" stroke="rgba(205,205,205,0.58)" stroke-width="0.9" stroke-dasharray="3.1 2.67"/>
<text x="243.6" y="253" font-size="7.0" fill="#222" stroke="#222" stroke-width="0.05">c</text>
<line x1="54.9" y1="257.1" x2="240.5" y2="257.1" stroke="rgba(205,205,205,0.58)" stroke-width="0.9" stroke-dasharray="3.1 2.67"/>
<text x="243.6" y="259.6" font-size="7.0" fill="#222" stroke="#222" stroke-width="0.05">o1</text>
<line x1="54.9" y1="263.7" x2="240.5" y2="263.7" stroke="rgba(205,205,205,0.58)" stroke-width="0.9" stroke-dasharray="3.1 2.67"/>
<text x="243.6" y="266.1" font-size="7.0" fill="#222" stroke="#222" stroke-width="0.05">o2</text>
<line x1="54.9" y1="270.2" x2="240.5" y2="270.2" stroke="rgba(205,205,205,0.58)" stroke-width="0.9" stroke-dasharray="3.1 2.67"/>
<text x="243.6" y="272.7" font-size="7.0" fill="#222" stroke="#222" stroke-width="0.05">o3</text>
<line x1="54.9" y1="276.8" x2="240.5" y2="276.8" stroke="rgba(205,205,205,0.58)" stroke-width="0.9" stroke-dasharray="3.1 2.67"/>
<text x="243.6" y="279.2" font-size="7.0" fill="#222" stroke="#222" stroke-width="0.05">o4</text>
<line x1="54.9" y1="291.3" x2="240.5" y2="291.3" stroke="rgba(205,205,205,0.58)" stroke-width="0.9" stroke-dasharray="3.1 2.67"/>
<text x="243.6" y="293.7" font-size="7.0" fill="#222" stroke="#222" stroke-width="0.05">c</text>
<line x1="54.9" y1="297.9" x2="240.5" y2="297.9" stroke="rgba(205,205,205,0.58)" stroke-width="0.9" stroke-dasharray="3.1 2.67"/>
<text x="243.6" y="300.3" font-size="7.0" fill="#222" stroke="#222" stroke-width="0.05">o1</text>
<line x1="54.9" y1="304.4" x2="240.5" y2="304.4" stroke="rgba(205,205,205,0.58)" stroke-width="0.9" stroke-dasharray="3.1 2.67"/>
<text x="243.6" y="306.8" font-size="7.0" fill="#222" stroke="#222" stroke-width="0.05">o2</text>
<line x1="54.9" y1="310.9" x2="240.5" y2="310.9" stroke="rgba(205,205,205,0.58)" stroke-width="0.9" stroke-dasharray="3.1 2.67"/>
<text x="243.6" y="313.4" font-size="7.0" fill="#222" stroke="#222" stroke-width="0.05">o3</text>
<path d="M216.3 321V327.5H231.5" fill="none" stroke="#2a2a2a" stroke-width="1"/>
<text x="212.7" y="326.2" font-size="7" fill="#222" stroke="#222" stroke-width="0.16" text-anchor="end" textLength="12.4" lengthAdjust="spacingAndGlyphs">2pA</text>
<text x="221.4" y="336" font-size="7" fill="#222" stroke="#222" stroke-width="0.16" textLength="6.0" lengthAdjust="spacingAndGlyphs">1s</text>
<path d="M55 337.5H59.2V350.4H62.7V337.5H240.5" fill="none" stroke="#2a2a2a" stroke-width="1"/>
<line x1="59.2" y1="344.4" x2="62.7" y2="344.4" stroke="#555" stroke-width="0.6"/>
<line x1="59.2" y1="346.6" x2="62.7" y2="346.6" stroke="#555" stroke-width="0.6"/>
<line x1="59.2" y1="348.6" x2="62.7" y2="348.6" stroke="#555" stroke-width="0.6"/>
<text x="51.2" y="339.9" font-size="7" fill="#222" stroke="#222" stroke-width="0.16" text-anchor="end">0</text>
<text x="71.9" y="349.5" font-size="7.4" fill="#222" stroke="#222" stroke-width="0.16" textLength="74.4" lengthAdjust="spacingAndGlyphs">Pressure (-70, -80 or -90)</text>
<text x="51.3" y="398.8" font-size="7.6" fill="#222" stroke="#222" stroke-width="0.16" text-anchor="end" textLength="31.0" lengthAdjust="spacingAndGlyphs">-70mmHg</text>
<text x="51.3" y="433.2" font-size="7.6" fill="#222" stroke="#222" stroke-width="0.16" text-anchor="end" textLength="31.0" lengthAdjust="spacingAndGlyphs">-80mmHg</text>
<text x="51.3" y="468.8" font-size="7.6" fill="#222" stroke="#222" stroke-width="0.16" text-anchor="end" textLength="31.0" lengthAdjust="spacingAndGlyphs">-90mmHg</text>
<path d="M54.4 392.7V400.2M54.9 394.9V401.5M55.4 394.2V400.2M55.9 394V401M56.4 393.8V402M56.9 393.7V401.3M57.4 394.7V400.8M57.9 393.7V400.5M58.4 394.3V400.1M58.9 391.9V401.2M59.4 396.9V402.9M59.9 400.6V405.2M60.4 404V409.4M60.9 406.7V410.1M61.4 406.8V411M61.9 406.3V411.4M62.4 404.4V409.4M62.9 401.1V405.7M63.4 393.2V402.7M63.9 392.8V400.6M64.4 392.2V402.1M64.9 393.7V401.6M65.4 394V400.5M65.9 392.8V400.8M66.4 393.2V401.2M66.9 394.5V400.6M67.4 393.6V400.8M67.9 393.3V402.7M68.4 393.9V400.4M68.9 394V400.6M69.4 394.5V401.8M69.9 392.2V399.3M70.4 394.3V400.6M70.9 393.4V402.6M71.4 394.6V400.2M71.9 394.6V400.8M72.4 394.7V402.4M72.9 394.3V400M73.4 394.1V401.1M73.9 393V398.7M74.4 394.6V401.7M74.9 394.4V401.7M75.4 393.1V401M75.9 393.2V401.8M76.4 394.4V401.4M76.9 393.7V399.7M77.4 393.5V399.6M77.9 394V401.2M78.4 393.3V403.7M78.9 393.2V402.3M79.4 392.8V400.6M79.9 394V401.6M80.4 391.8V400.1M80.9 394.4V402.6M81.4 394.2V402.7M81.9 395.1V400.6M82.4 394V400.6M82.9 393.6V401.5M83.4 391.9V399.8M83.9 394.8V400.6M84.4 393.4V400.6M84.9 394.2V401.5M85.4 393.6V400.5M85.9 393.4V399.4M86.4 394.6V399.9M86.9 394.5V399.8M87.4 392.3V400.4M87.9 394.1V401.3M88.4 393.1V399.5M88.9 393.4V399.9M89.4 394.7V401.8M89.9 394.1V401M90.4 393.2V398.9M90.9 393.9V401.9M91.4 393.3V400.3M91.9 394.6V402.4M92.4 393.6V399.4M92.9 394.3V399.9M93.4 393.8V401.9M93.9 394V400.6M94.4 392.8V400.8M94.9 395.2V401.9M95.4 393.6V400.3M95.9 394.7V401M96.4 394.6V402.2M96.9 394.6V402.8M97.4 394.1V400.9M97.9 393.5V400.5M98.4 394.7V400.8M98.9 394.9V401.3M99.4 394.4V401.5M99.9 393.4V401.2M100.4 392.7V401.3M100.9 393.9V401.3M101.4 394V401M101.9 394V400.4M102.4 392.7V400.9M102.9 394.1V401.1M103.4 394.1V400.9M103.9 393.1V401M104.4 394V401.3M104.9 394.7V401.6M105.4 394V399.3M105.9 395V400.2M106.4 394.7V399.2M106.9 392.7V399.5M107.4 393.6V400.5M107.9 393.4V399.9M108.4 391.2V403.1M108.9 394V400.9M109.4 394.4V401.5M109.9 393.4V399.7M110.4 394.3V400.6M110.9 394.2V400.9M111.4 392.7V400.3M111.9 394V401.8M112.4 393.8V402.8M112.9 393.1V399.8M113.4 393.2V400.1M113.9 391.8V401.5M114.4 394.8V400.3M114.9 394V400.9M115.4 393.1V402.2M115.9 393.2V399.9M116.4 396.9V409.9M116.9 403.3V408.7M117.4 403.2V409.9M117.9 403.7V409.8M118.4 394.6V406.4M118.9 393V400M119.4 394.4V399.6M119.9 394.1V400.5M120.4 392.8V399.5M120.9 391.8V398.8M121.4 394.9V400.7M121.9 393.2V401.6M122.4 393.5V401.5M122.9 393.2V400.7M123.4 393.8V402.4M123.9 392.4V399.4M124.4 394.7V403.6M124.9 391.1V399.6M125.4 393.4V400M125.9 393.1V399.7M126.4 394.6V401.1M126.9 394.5V401.6M127.4 394.1V400.5M127.9 394.1V401.8M128.4 393.9V401.5M128.9 394.3V401.2M129.4 393.2V401M129.9 394.2V400.2M130.4 393.1V400.6M130.9 394V399.6M131.4 394.9V402.9M131.9 394.2V400.3M132.4 394V399.4M132.9 393.5V398.4M133.4 394.6V403.2M133.9 394.4V401.1M134.4 393.4V401.2M134.9 393.2V399.6M135.4 393.2V401.8M135.9 393.7V401M136.4 394.4V402.5M136.9 394.1V401.9M137.4 394.8V400.5M137.9 392.8V400.4M138.4 393.3V399.8M138.9 394.4V401.1M139.4 392.7V400.8M139.9 392.8V401M140.4 393.4V401.1M140.9 393.6V399.3M141.4 394.6V399.1M141.9 395.1V401.4M142.4 394.1V400.9M142.9 395.1V400.1M143.4 393.1V400.3M143.9 394.1V400.6M144.4 393.3V399.9M144.9 394.2V400.7M145.4 393.7V400.1M145.9 394.9V401.3M146.4 393V400.9M146.9 393.8V400.8M147.4 392.5V400.1M147.9 392.5V400.9M148.4 393V402.6M148.9 394.7V400M149.4 393.4V402.3M149.9 393.9V400.4M150.4 394.4V399.6M150.9 394.5V400.5M151.4 395.1V401.1M151.9 393.8V400.6M152.4 393.9V400.3M152.9 393V400.3M153.4 393.7V402.6M153.9 395V400M154.4 394V400.2M154.9 393.3V401.8M155.4 393.6V400.7M155.9 394.2V402.7M156.4 394.4V401.1M156.9 393.2V400.2M157.4 394V400.6M157.9 392.9V401.7M158.4 393.4V401.6M158.9 393.4V401M159.4 393.5V402.6M159.9 392.7V399.4M160.4 392.5V400.9M160.9 394.1V399.6M161.4 394V400M161.9 394.1V401.4M162.4 393.4V400.8M162.9 393.5V400M163.4 394.9V401.7M163.9 394.8V400.2M164.4 392.2V399.7M164.9 394.3V399.6M165.4 393.8V400.8M165.9 393.8V400.5M166.4 393.1V401.6M166.9 395.3V402.2M167.4 395.3V403M167.9 394.6V399.5M168.4 392.7V403.5M168.9 394.6V400.8M169.4 395.2V402.4M169.9 393.7V398.9M170.4 396.9V409.8M170.9 403.5V409.9M171.4 402.7V408.8M171.9 394.2V405.4M172.4 392.5V402.3M172.9 393.6V399.6M173.4 392.4V401.2M173.9 395V401.2M174.4 395V400.1M174.9 393.7V401.4M175.4 394.4V399.9M175.9 391.9V401.9M176.4 392.9V401.6M176.9 393.8V400M177.4 393.6V402.1M177.9 394.3V399.6M178.4 393.2V402.8M178.9 394.3V400.7M179.4 393.6V401.4M179.9 393.9V402.5M180.4 392.2V399.5M180.9 393.6V401.7M181.4 393.5V400.7M181.9 392.3V399.7M182.4 394.5V401.9M182.9 393.7V402.8M183.4 392.7V400.4M183.9 393.1V400.1M184.4 393.8V399.5M184.9 393.4V401.4M185.4 394V401M185.9 394.2V401.2M186.4 394V402.9M186.9 393.8V403.1M187.4 394.3V402.3M187.9 394.5V402.1M188.4 392.7V399.6M188.9 393.9V402.5M189.4 393.7V400.4M189.9 393.7V402M190.4 393.4V400.7M190.9 394.2V399.7M191.4 392V402.6M191.9 393.9V400.1M192.4 394.2V400.6M192.9 393.5V399.4M193.4 393.5V399.3M193.9 393V400.4M194.4 394.1V400.2M194.9 396.9V408.4M195.4 403.3V409.9M195.9 403.2V413M196.4 403.3V410.2M196.9 394.9V405.9M197.4 392.7V399.1M197.9 393.3V402.6M198.4 394.1V400.4M198.9 396.9V411.4M199.4 400.6V410.7M199.9 402.6V410.1M200.4 402.7V411.8M200.9 404.4V410.1M201.4 403.5V414.3M201.9 402.4V412.6M202.4 402.7V411.5M202.9 402.6V411.2M203.4 403.1V411.1M203.9 402.5V409.3M204.4 402.1V412M204.9 401.4V411.6M205.4 402.5V412.2M205.9 403.8V411.7M206.4 403.4V410.2M206.9 402.2V409.8M207.4 403.4V409.3M207.9 402.2V411.9M208.4 402V409.9M208.9 402.5V411.5M209.4 401.4V410.2M209.9 403.7V410.6M210.4 403.1V410.2M210.9 399.8V411.1M211.4 402.6V413M211.9 401.9V412.4M212.4 402.5V412.3M212.9 403.5V410.9M213.4 401.6V409.5M213.9 402.9V412.1M214.4 401V411.9M214.9 403.8V412.4M215.4 400.7V409.4M215.9 402.9V412.4M216.4 402V410.2M216.9 402.8V412.7M217.4 400.7V413M217.9 401.6V410.3M218.4 393.1V406.4M218.9 394V401.8M219.4 393.7V400.2M219.9 393.7V401.3M220.4 393.7V401.3M220.9 395.8V402.4M221.4 394.9V401M221.9 393.5V399.4M222.4 392.9V399.9M222.9 394.8V400.6M223.4 394.4V399.3M223.9 392.5V400.4M224.4 395.1V402.9M224.9 393.8V402.5M225.4 396.9V409.8M225.9 403.6V410M226.4 403.6V408.7M226.9 395.2V405.9M227.4 394.4V402.8M227.9 394.8V400.3M228.4 393.6V401.7M228.9 394.4V401.1M229.4 394.5V400.8M229.9 394.3V401.4M230.4 394.5V400.1M230.9 392.6V401.2M231.4 393.6V400M231.9 394.8V401.3M232.4 392.2V399.8M232.9 394.2V399.5M233.4 394.5V400.9M233.9 394.4V400.8M234.4 393.2V398.7M234.9 391.6V400.5M235.4 393.6V401.4M235.9 394.4V399.1M236.4 394.5V399.8M236.9 394.5V400.3M237.4 394.5V401.8M237.9 394.9V400.5M238.4 393.3V400.4M238.9 393.7V399.6M239.4 394V401" fill="none" stroke="#a2042e" stroke-width="1.0"/>
<path d="M101.8 396.9V400.8M126.8 396.9V400.9M143.1 396.9V402.7M144.5 396.9V401.5M152.3 396.9V401M163.2 396.9V402.7M192.5 396.9V402.9M217.9 406.4V411.6M228.2 396.9V400.2M239.4 396.9V400.1" fill="none" stroke="#a2042e" stroke-width="0.75" stroke-opacity="0.8"/>
<path d="M54.4 429.2V434.1M54.9 427.5V435.5M55.4 427.1V433.1M55.9 428.9V434.5M56.4 427.7V433.2M56.9 428.6V433.9M57.4 426.7V434.7M57.9 427.3V433.7M58.4 426.5V434.5M58.9 428.1V433.3M59.4 430.8V437.2M59.9 434.7V440.8M60.4 439.2V444.7M60.9 442.9V446.9M61.4 444.3V448M61.9 442.9V446.7M62.4 439.8V444.5M62.9 435.7V441.6M63.4 428.1V437.5M63.9 428.3V433.8M64.4 427.1V435.6M64.9 429V435.1M65.4 429.1V435.2M65.9 426.8V434.6M66.4 426.2V433M66.9 427.6V436.1M67.4 428.8V434M67.9 427V435.6M68.4 428.1V433.6M68.9 427.3V435.3M69.4 430.8V446.7M69.9 435.1V444.9M70.4 436.2V443.3M70.9 435.3V444.5M71.4 436.5V443.8M71.9 434.6V447.2M72.4 436V444M72.9 433.8V445.4M73.4 435.2V444.1M73.9 435.9V443M74.4 434.5V445M74.9 433.3V444.3M75.4 437.3V444.9M75.9 435.3V446.3M76.4 432.2V441.8M76.9 431.2V443.5M77.4 434.2V443.5M77.9 435.3V446.8M78.4 437.7V442.3M78.9 434.1V442.2M79.4 434.2V442.4M79.9 435.8V443.9M80.4 436.6V445.4M80.9 434.2V443.1M81.4 433.2V445.4M81.9 436.2V443.7M82.4 435.7V443M82.9 436.3V444.9M83.4 435.5V443.9M83.9 435.6V444.8M84.4 433.1V444.3M84.9 434.3V444.5M85.4 433.4V444.2M85.9 434.6V443.6M86.4 436V443.3M86.9 435.1V444.5M87.4 436V444.5M87.9 434.7V443.7M88.4 434.2V441.4M88.9 434.6V445.1M89.4 433.9V444M89.9 435V443.1M90.4 436V442.8M90.9 435V444.2M91.4 434.4V444M91.9 435.1V445M92.4 435.2V442M92.9 434.6V442.2M93.4 433.9V445.6M93.9 433.1V442.5M94.4 434.9V443.2M94.9 434.1V444.9M95.4 428.4V439.3M95.9 426.9V433.6M96.4 427.9V433.8M96.9 426.9V434.8M97.4 425.2V435.7M97.9 428V435.2M98.4 427.2V435.5M98.9 426.2V434.4M99.4 430.8V443.5M99.9 434.4V443.6M100.4 435.6V444M100.9 434.7V444.7M101.4 434.6V443.4M101.9 434.5V444.7M102.4 433.3V444.3M102.9 436.7V445M103.4 436.5V444M103.9 435.2V444.6M104.4 434.2V443.9M104.9 436V444.3M105.4 435.8V442.4M105.9 435.2V444.7M106.4 434.4V444.4M106.9 435V445M107.4 435.5V443.6M107.9 426.2V439.3M108.4 426.7V434.5M108.9 428.8V435.3M109.4 430.8V444.1M109.9 436.7V444.9M110.4 435.3V444.5M110.9 435.8V443.1M111.4 435.8V443.5M111.9 433.9V443.9M112.4 434.3V443.7M112.9 434.5V443.8M113.4 435.4V446.2M113.9 436.5V444.2M114.4 435.4V444.3M114.9 435V444.4M115.4 434.5V445M115.9 433.1V444.6M116.4 436.3V444.2M116.9 436.2V442.8M117.4 433.2V443.9M117.9 436.3V445.9M118.4 434.8V443.9M118.9 434.3V442M119.4 434.3V443.3M119.9 434.2V444.2M120.4 435.3V444M120.9 436.8V444.9M121.4 435.6V446.6M121.9 434.6V443.3M122.4 435V442.6M122.9 437.1V446.2M123.4 434.2V444.6M123.9 436.4V445M124.4 434.3V442.5M124.9 436V443.3M125.4 435.4V444.2M125.9 433.5V443.8M126.4 435.8V442.5M126.9 436.4V443.5M127.4 434.7V446.8M127.9 436.1V443.5M128.4 435.2V443M128.9 435.8V444.8M129.4 434.7V444.9M129.9 435.2V442.8M130.4 435.3V443.1M130.9 436.7V444M131.4 436.1V444.2M131.9 433.6V446.7M132.4 435.1V443.9M132.9 436.1V445.1M133.4 436.1V442.7M133.9 433.7V446M134.4 434.2V445.9M134.9 436.8V443.4M135.4 435.5V444.6M135.9 434.6V444.8M136.4 436.6V445.7M136.9 434.8V445M137.4 434.1V444.4M137.9 435.4V444.5M138.4 436.2V442.8M138.9 437.4V442.9M139.4 433.1V443.4M139.9 435.3V444.4M140.4 432.1V445.8M140.9 434.4V443.7M141.4 435.1V445.6M141.9 434.8V442.3M142.4 435.9V443.3M142.9 435.4V444.3M143.4 436.6V443.7M143.9 436.1V443.2M144.4 435.4V443.3M144.9 434.6V443.6M145.4 436.4V443.6M145.9 435.2V446.6M146.4 434.4V441.6M146.9 435.1V444.5M147.4 435.3V445.1M147.9 435.5V443.1M148.4 433.9V444.2M148.9 434.5V443.3M149.4 435.4V448.2M149.9 434.9V444.1M150.4 436V445.1M150.9 429.6V439.3M151.4 430.1V439.2M151.9 427.3V437.4M152.4 429.7V438M152.9 428.3V438.3M153.4 429.7V440M153.9 430.5V439.4M154.4 429.8V437.7M154.9 428.8V437.3M155.4 429.5V440M155.9 429.6V437.3M156.4 430.7V438.5M156.9 430.5V437.5M157.4 430.2V439.3M157.9 428.9V438.6M158.4 429.9V439.5M158.9 429.8V439.3M159.4 430.1V438.1M159.9 428.9V437.2M160.4 430.6V437.6M160.9 430.1V438.2M161.4 428.8V439.9M161.9 431V437.8M162.4 429.9V439.3M162.9 431.2V440.7M163.4 430.4V438.7M163.9 428.7V438.4M164.4 428.3V439.9M164.9 428.4V439.5M165.4 430.1V438.3M165.9 429.5V439M166.4 429.9V437.8M166.9 430.4V437.5M167.4 429.9V438.2M167.9 428.3V437.9M168.4 429.7V439.2M168.9 430.3V439.2M169.4 429.5V439.1M169.9 430.7V438.2M170.4 430.6V438.2M170.9 427.4V440.5M171.4 428.6V439.1M171.9 429.6V438.8M172.4 427.2V438.7M172.9 431.5V440M173.4 428.9V439M173.9 430.6V439.4M174.4 430.3V437.8M174.9 429.6V441M175.4 430.6V437M175.9 429.9V439.2M176.4 430.6V440.7M176.9 429.6V437.1M177.4 429.4V437.8M177.9 429.9V436.6M178.4 427.7V440.3M178.9 429.3V437.9M179.4 430.5V437.4M179.9 430.1V437.4M180.4 429.8V440M180.9 430.7V438.7M181.4 428.5V440.4M181.9 430.4V440.2M182.4 430.6V437.3M182.9 427.6V437.5M183.4 428.7V438.9M183.9 429.7V441.4M184.4 429.2V439.3M184.9 430.7V442M185.4 429.8V439.3M185.9 429V437.5M186.4 428.6V439.4M186.9 430.8V439.3M187.4 430.8V439.7M187.9 431.4V438.4M188.4 429.8V439M188.9 433.8V444.1M189.4 436.5V444.2M189.9 435.1V444.3M190.4 436.1V445.5M190.9 435.4V444.6M191.4 436.3V444M191.9 436.3V444M192.4 436.4V444.4M192.9 432.9V444.9M193.4 434.3V444.7M193.9 435.9V444.6M194.4 436.4V444.9M194.9 435.6V444.1M195.4 436.2V443.3M195.9 436V443M196.4 437.4V445.8M196.9 434.8V442.3M197.4 435.1V444.1M197.9 435.7V443.8M198.4 434.5V443.9M198.9 436.1V445M199.4 436.3V443.6M199.9 435.7V445.5M200.4 437.1V442.3M200.9 435.4V447.1M201.4 435V446M201.9 433.3V442.6M202.4 433.8V447.6M202.9 437.5V444.1M203.4 435.2V443.9M203.9 434.4V444.6M204.4 435.5V445.4M204.9 437.2V443.4M205.4 436.4V443.7M205.9 433.4V445.8M206.4 435.5V443.1M206.9 437.3V444.3M207.4 436.8V446.1M207.9 436.1V443.7M208.4 433.4V444.7M208.9 436.2V444.9M209.4 434.1V444.3M209.9 435.5V444.9M210.4 435.6V444.9M210.9 436V443.5M211.4 437.9V445.4M211.9 427.3V439.6M212.4 427.3V434.3M212.9 425.9V434M213.4 428.3V435M213.9 428V435M214.4 427.7V433M214.9 426.7V434.4M215.4 426.4V435.2M215.9 427.8V434.2M216.4 430.8V443.4M216.9 434.7V444.1M217.4 435.6V445.7M217.9 436V442.6M218.4 435.6V444M218.9 435.9V445.6M219.4 436.4V444.2M219.9 436.4V445.4M220.4 435V444.8M220.9 436.1V444M221.4 435V442.9M221.9 436.2V445.5M222.4 434.4V443.5M222.9 435.7V445.5M223.4 436.5V445.7M223.9 436.5V443.8M224.4 434.8V442.6M224.9 435.6V444M225.4 434.9V447.3M225.9 434.3V445.6M226.4 435.3V444.5M226.9 435.6V445.4M227.4 436.2V442.3M227.9 435.3V447.5M228.4 436.9V442.9M228.9 433.3V444.7M229.4 434.8V443.6M229.9 434.8V442.4M230.4 436.6V444.6M230.9 434.1V444.8M231.4 436V445.1M231.9 436.8V446M232.4 434.4V444.5M232.9 434.9V443.2M233.4 436.4V444.7M233.9 435.5V444.2M234.4 435.9V445.3M234.9 435.5V443.2M235.4 436.9V444.4M235.9 435.7V444.5M236.4 435.2V446.1M236.9 436V445.2M237.4 435.3V444.1M237.9 435.5V444.4M238.4 435.2V443.6M238.9 437.8V445.5M239.4 434.9V444.3" fill="none" stroke="#a2042e" stroke-width="1.0"/>
<path d="M69.7 439.3V435.5M69.9 439.3V434.7M75.2 439.3V432.3M80.8 439.3V434.4M83.5 439.3V435.6M89.3 439.3V433.5M94.9 439.3V435.8M100.4 439.3V435.3M104.7 439.3V432.3M105.9 439.3V431.3M108.6 430.8V424.6M119.9 439.3V432.7M122.4 439.3V431.7M127.9 439.3V432.8M199.4 439.6V436.4M202.9 439.6V432.5M230.9 439.8V433.1M231.3 439.8V432M233.1 439.8V432.9" fill="none" stroke="#a2042e" stroke-width="0.75" stroke-opacity="0.8"/>
<path d="M54.4 464V470M54.9 462.4V469.4M55.4 463.6V469.9M55.9 464.1V471.1M56.4 464.4V470.6M56.9 463.3V472M57.4 463.6V470.2M57.9 464.4V469.3M58.4 464.1V469.8M58.9 463.4V470.1M59.4 467V472.3M59.9 470.8V476.8M60.4 474.5V480.1M60.9 477.6V480.5M61.4 477.9V482.9M61.9 477.6V480.5M62.4 474.7V479.2M62.9 471.2V476.5M63.4 462.9V473.1M63.9 462.9V469.5M64.4 465.5V471.9M64.9 464.1V470.1M65.4 463.8V470.9M65.9 464.3V470.8M66.4 463.9V469.8M66.9 464.6V472.1M67.4 463.3V470.9M67.9 463.9V470.4M68.4 464.2V470.3M68.9 463.6V469.6M69.4 463.1V471.5M69.9 464.3V469.7M70.4 463.2V469.9M70.9 463.6V468.1M71.4 463.5V472.7M71.9 464.2V470.6M72.4 463.5V469.3M72.9 463.2V470.5M73.4 464.1V470M73.9 463.5V471.5M74.4 464.4V471.8M74.9 464.5V469.6M75.4 465.3V470.6M75.9 464.1V469.5M76.4 463.7V469.4M76.9 462.6V470.2M77.4 464.2V471.4M77.9 465.1V469.8M78.4 464.3V469.9M78.9 463.6V469.1M79.4 463.3V472.4M79.9 463.8V471M80.4 462.5V471.9M80.9 467V478.4M81.4 467V476.7M81.9 465.8V479.2M82.4 467V479M82.9 467.8V477.9M83.4 468.2V478.4M83.9 470.1V479.2M84.4 468.4V478.1M84.9 468.7V478.2M85.4 466.6V478M85.9 468.7V479M86.4 468.3V477.8M86.9 464.1V473.5M87.4 463.3V469.7M87.9 463.2V468.7M88.4 463.1V468.8M88.9 462.8V469.8M89.4 463.2V469.1M89.9 462.3V469.9M90.4 462.9V468.6M90.9 462.5V470.8M91.4 461.8V470.3M91.9 463.4V468.2M92.4 462.6V468.8M92.9 462.1V469.8M93.4 463.6V469.3M93.9 462.5V469.9M94.4 463.5V470.2M94.9 462.9V469.5M95.4 463.1V469.1M95.9 461.9V468.4M96.4 464.3V470.1M96.9 460.8V469.5M97.4 464.1V469M97.9 463.3V469.4M98.4 462.3V469M98.9 462.4V468.5M99.4 464.2V468.1M99.9 462.8V467.2M100.4 463.5V469M100.9 462.9V469.8M101.4 461.6V470.8M101.9 463.2V468.6M102.4 461.4V468M102.9 463.5V468.8M103.4 463.7V469.8M103.9 462.7V469.6M104.4 463V468.9M104.9 463.7V472M105.4 462.7V470.1M105.9 462.1V468.3M106.4 462.6V471.1M106.9 463.2V470.2M107.4 462.8V470M107.9 462.5V471.8M108.4 460.7V470.6M108.9 462.4V469.2M109.4 463.2V469.1M109.9 461V470.1M110.4 460.8V468.8M110.9 462.8V468.5M111.4 463.1V468.9M111.9 466V478.7M112.4 470.2V479.1M112.9 470.9V478.2M113.4 470.8V479.9M113.9 471.2V478.7M114.4 471.7V477.9M114.9 471.6V478.1M115.4 470.5V478.1M115.9 471.3V480.3M116.4 469.2V479.1M116.9 471.3V479.7M117.4 472.7V478.6M117.9 472.4V479.7M118.4 471.9V481.2M118.9 470V479.4M119.4 471.6V479.8M119.9 471.9V479.1M120.4 471.3V478.8M120.9 472.8V479.4M121.4 471.7V480.3M121.9 469.6V479.1M122.4 471.5V479.4M122.9 470.9V478.4M123.4 467.8V478.8M123.9 470.9V480.2M124.4 469.1V478.3M124.9 469.5V478.7M125.4 471.3V477.2M125.9 471V480.1M126.4 470.6V479.2M126.9 472.4V478.5M127.4 471.3V480.7M127.9 468.9V480.8M128.4 470.4V477.3M128.9 471V478.4M129.4 471V478.9M129.9 472.6V480.1M130.4 471.4V478.4M130.9 470.8V477.9M131.4 471.6V479.4M131.9 468.2V479.8M132.4 469.5V478.3M132.9 472.2V476.4M133.4 472V482.2M133.9 471.7V478.9M134.4 471.9V479.6M134.9 470.1V479.2M135.4 470.8V478.5M135.9 469.8V478.9M136.4 470.6V479M136.9 468.8V478.6M137.4 469.2V478.5M137.9 472.1V478.2M138.4 471.2V479.2M138.9 471.2V479.6M139.4 470.9V480.3M139.9 469.1V479.6M140.4 471.7V480.2M140.9 471.2V479.3M141.4 469.7V477.7M141.9 470.1V478.5M142.4 469.4V478.7M142.9 469.6V478.3M143.4 471.2V480M143.9 469.3V477.9M144.4 471.3V479.6M144.9 470.1V480.6M145.4 469.5V479.3M145.9 469.1V480.5M146.4 469.6V480.8M146.9 471.2V480.2M147.4 471.4V479.6M147.9 471.3V478.9M148.4 469.7V477.5M148.9 469.8V480.3M149.4 471.6V479.5M149.9 471.2V478.4M150.4 470.6V478.5M150.9 470.7V478.8M151.4 471.4V479.7M151.9 471.7V479.1M152.4 471.7V478.3M152.9 471.7V480.6M153.4 469.2V479M153.9 470.4V478.9M154.4 469.6V477.7M154.9 470.3V480.3M155.4 469.9V479.1M155.9 470.9V477.5M156.4 472.2V479.6M156.9 471.5V478.6M157.4 470.1V478.2M157.9 470.1V478.7M158.4 469V480.8M158.9 471.6V477.8M159.4 471.5V477.6M159.9 473.3V478.4M160.4 469.8V478M160.9 471V479.6M161.4 470.3V479.2M161.9 470.6V479.1M162.4 470.6V479.1M162.9 470.9V478.6M163.4 469.9V478.5M163.9 469.4V478.3M164.4 470.6V480.1M164.9 470.9V479.4M165.4 470.8V477.2M165.9 469.3V479.2M166.4 468.6V480.7M166.9 471.7V479M167.4 470.8V480.1M167.9 470.9V478.2M168.4 470.6V477.7M168.9 471.5V478.6M169.4 471.3V481.1M169.9 470.3V480.4M170.4 471V480.5M170.9 470.6V481.4M171.4 470.4V478.7M171.9 469.8V478.1M172.4 469.4V478.7M172.9 470.4V478.7M173.4 470.9V480M173.9 469.7V479.5M174.4 472.1V478.6M174.9 471.7V480.1M175.4 469.2V480M175.9 470V481.4M176.4 471V478.6M176.9 472V480.5M177.4 467.6V478.3M177.9 470.7V481.3M178.4 469.7V477.9M178.9 471.7V478.4M179.4 470.9V480.4M179.9 470.9V478M180.4 471.3V479.4M180.9 470.2V481.5M181.4 469.5V477.5M181.9 470.5V482.4M182.4 472.7V479.4M182.9 470.1V479.5M183.4 470.7V480.7M183.9 471.8V480M184.4 471.5V482.7M184.9 469.2V477.2M185.4 471.9V478.4M185.9 472V482.4M186.4 471.9V478.6M186.9 470.6V480.1M187.4 469.6V478.9M187.9 471V478.6M188.4 472.1V479M188.9 471.2V483.2M189.4 469.4V477.8M189.9 469.2V478.1M190.4 468.5V480.1M190.9 469.3V481.5M191.4 469.6V480.8M191.9 470.4V477.8M192.4 471.2V479.4M192.9 469.2V478.5M193.4 468.1V478.4M193.9 471V480M194.4 469.6V479.5M194.9 471.9V480M195.4 470.9V478.4M195.9 471.4V478M196.4 470.5V478.4M196.9 470.1V477.5M197.4 472.4V479.4M197.9 470.5V479.6M198.4 471.9V481.2M198.9 471.5V480.8M199.4 472.2V477.5M199.9 471.9V478.8M200.4 471.8V479.6M200.9 470.4V479.5M201.4 471.3V479.7M201.9 469.5V480.3M202.4 470.1V479.2M202.9 472.2V480.6M203.4 471.8V478.8M203.9 470.7V479.2M204.4 471.9V479.3M204.9 471.8V480.1M205.4 471.8V481M205.9 470.2V480.1M206.4 471V478.7M206.9 471.5V479.2M207.4 471.3V480.6M207.9 471.5V480.1M208.4 469.3V479.7M208.9 471.7V478.5M209.4 472V478.7M209.9 471.3V478.3M210.4 470.5V478.8M210.9 471.2V480.7M211.4 471.2V477.8M211.9 471.1V478.4M212.4 472.7V480.6M212.9 471.6V478M213.4 471.4V480.6M213.9 471.7V477.2M214.4 470.1V477.8M214.9 470.8V477.9M215.4 471.4V480.8M215.9 470.2V478.8M216.4 470V481.4M216.9 471.5V478.5M217.4 472.3V478.6M217.9 470.8V476.9M218.4 469.6V479.2M218.9 471.1V479.8M219.4 469.9V480.3M219.9 469.9V479.5M220.4 471.8V481M220.9 470.9V477M221.4 470.9V482.1M221.9 471.6V480.9M222.4 471.7V478.1M222.9 470.4V478.6M223.4 472.5V479.3M223.9 471.7V477.8M224.4 470.7V479.8M224.9 470.7V478.4M225.4 471.4V479.9M225.9 470.5V478M226.4 470.8V478.6M226.9 471.7V479.8M227.4 472.8V478.8M227.9 471V477.7M228.4 471.8V479.3M228.9 471.4V478.5M229.4 467.4V477.6M229.9 470.3V478.5M230.4 470.8V480.6M230.9 469.3V477M231.4 472V479.2M231.9 469.4V479.8M232.4 470.7V477.9M232.9 472.1V479.2M233.4 470.4V479.9M233.9 472.1V479.5M234.4 471.8V478.9M234.9 471.6V480.8M235.4 471.2V478.6M235.9 470V481.3M236.4 470.9V479.2M236.9 471.7V478.2M237.4 470.1V480.8M237.9 470.1V479.8M238.4 471.8V479M238.9 467.9V481.5M239.4 471.1V480.9" fill="none" stroke="#a2042e" stroke-width="1.0"/>
<path d="M116.4 474.8V470.1M119.6 474.8V469.6M129.6 474.8V468.6M132 474.8V466.1M132.6 474.8V467M134.9 474.8V465.5M145.1 474.8V464.2M148.7 474.8V464.6M148.9 474.8V463.1M150.1 474.8V468.6M150.5 474.8V467.1M155.6 474.8V466.8M166.1 474.8V466.9M172.9 474.8V469.5M175.6 474.8V468.7M178.6 474.8V465.4M178.9 474.8V465.6M180.4 474.8V467.4M182.3 474.8V463.8M185.2 474.8V468.3M194.7 474.8V470.6M197.9 474.8V464.6M198.4 474.8V466.2M199.7 474.8V469.3M203.5 474.8V463.4M205.5 474.8V469.3M207.2 474.8V467.1M208 474.8V463.6M210.8 474.8V467.6M213.9 474.8V463.3M217.1 474.8V470.8M226.6 474.8V467.9M229.1 474.8V468M237.6 474.8V468" fill="none" stroke="#a2042e" stroke-width="0.75" stroke-opacity="0.8"/>
<rect x="59.3" y="390.1" width="3.4" height="119.5" fill="rgba(218,218,222,0.62)"/>
<line x1="54.9" y1="396.9" x2="240.5" y2="396.9" stroke="rgba(205,205,205,0.58)" stroke-width="0.9" stroke-dasharray="3.1 2.67"/>
<text x="243.6" y="399.3" font-size="7.0" fill="#222" stroke="#222" stroke-width="0.05">c</text>
<line x1="54.9" y1="406.8" x2="240.5" y2="406.8" stroke="rgba(205,205,205,0.58)" stroke-width="0.9" stroke-dasharray="3.1 2.67"/>
<text x="243.6" y="409.2" font-size="7.0" fill="#222" stroke="#222" stroke-width="0.05">o</text>
<line x1="54.9" y1="430.8" x2="240.5" y2="430.8" stroke="rgba(205,205,205,0.58)" stroke-width="0.9" stroke-dasharray="3.1 2.67"/>
<text x="243.6" y="433.2" font-size="7.0" fill="#222" stroke="#222" stroke-width="0.05">c</text>
<line x1="54.9" y1="440.7" x2="240.5" y2="440.7" stroke="rgba(205,205,205,0.58)" stroke-width="0.9" stroke-dasharray="3.1 2.67"/>
<text x="243.6" y="443.1" font-size="7.0" fill="#222" stroke="#222" stroke-width="0.05">o</text>
<line x1="54.9" y1="467" x2="240.5" y2="467" stroke="rgba(205,205,205,0.58)" stroke-width="0.9" stroke-dasharray="3.1 2.67"/>
<text x="243.6" y="469.4" font-size="7.0" fill="#222" stroke="#222" stroke-width="0.05">c</text>
<line x1="54.9" y1="476.9" x2="240.5" y2="476.9" stroke="rgba(205,205,205,0.58)" stroke-width="0.9" stroke-dasharray="3.1 2.67"/>
<text x="243.6" y="479.3" font-size="7.0" fill="#222" stroke="#222" stroke-width="0.05">o</text>
<path d="M216.3 490.1V499.6H231.5" fill="none" stroke="#2a2a2a" stroke-width="1"/>
<text x="212.7" y="497.2" font-size="7" fill="#222" stroke="#222" stroke-width="0.16" text-anchor="end" textLength="12.4" lengthAdjust="spacingAndGlyphs">2pA</text>
<text x="221.4" y="508" font-size="7" fill="#222" stroke="#222" stroke-width="0.16" textLength="6.0" lengthAdjust="spacingAndGlyphs">1s</text>
<path d="M55 509.6H59.2V524.5H62.7V509.6H240.5" fill="none" stroke="#2a2a2a" stroke-width="1"/>
<line x1="59.2" y1="518.5" x2="62.7" y2="518.5" stroke="#555" stroke-width="0.6"/>
<line x1="59.2" y1="520.7" x2="62.7" y2="520.7" stroke="#555" stroke-width="0.6"/>
<line x1="59.2" y1="522.7" x2="62.7" y2="522.7" stroke="#555" stroke-width="0.6"/>
<text x="51.2" y="512" font-size="7" fill="#222" stroke="#222" stroke-width="0.16" text-anchor="end">0</text>
<text x="71.9" y="523.8" font-size="7.4" fill="#222" stroke="#222" stroke-width="0.16" textLength="74.4" lengthAdjust="spacingAndGlyphs">Pressure (-70, -80 or -90)</text>
<text x="51.3" y="567.8" font-size="7.6" fill="#222" stroke="#222" stroke-width="0.16" text-anchor="end" textLength="31.0" lengthAdjust="spacingAndGlyphs">-70mmHg</text>
<text x="51.3" y="606.3" font-size="7.6" fill="#222" stroke="#222" stroke-width="0.16" text-anchor="end" textLength="31.0" lengthAdjust="spacingAndGlyphs">-80mmHg</text>
<text x="51.3" y="648.2" font-size="7.6" fill="#222" stroke="#222" stroke-width="0.16" text-anchor="end" textLength="31.0" lengthAdjust="spacingAndGlyphs">-90mmHg</text>
<path d="M54.6 565.1V571.2M55.1 563V569.8M55.6 565.1V570.4M56.1 562.9V571.9M56.6 563.7V571M57.1 563.1V570.6M57.6 563.7V570.7M58.1 564.3V570.6M58.6 564.4V570.8M59.1 561.7V570.2M59.6 566V575.4M60.1 572.7V578.2M60.6 576.8V581.3M61.1 579.5V584.1M61.6 578.9V583.3M62.1 575.8V580.5M62.6 574V578.1M63.1 568.2V574.4M63.6 562V570M64.1 565.4V571.6M64.6 563.1V570.5M65.1 563.3V570.2M65.6 563.7V573M66.1 561.9V570.7M66.6 561.4V573.8M67.1 563.5V572.5M67.6 563.5V570.7M68.1 563.3V571.1M68.6 564.9V570.1M69.1 564.1V573.1M69.6 562.4V569.9M70.1 563.5V569.8M70.6 564.2V571.3M71.1 563.9V571M71.6 563.6V571M72.1 563V571.4M72.6 559.9V571.4M73.1 563.8V570.3M73.6 561V570M74.1 564.1V570.4M74.6 563.6V572.3M75.1 564.4V570.4M75.6 563.8V569.8M76.1 562.9V571.3M76.6 562V574.2M77.1 563.1V571.4M77.6 562.8V571.1M78.1 564.3V571.6M78.6 564.2V571.6M79.1 562.9V570.2M79.6 563.7V571.4M80.1 562.6V574.6M80.6 562.2V570.8M81.1 563.1V571.2M81.6 564.3V572.3M82.1 562.2V570.7M82.6 563.4V571M83.1 564V571.3M83.6 562.9V571.2M84.1 562.5V572.2M84.6 562.8V570.1M85.1 561.9V569.8M85.6 564.9V572.8M86.1 563.8V569.5M86.6 564V571.6M87.1 563.2V571M87.6 562.9V570.1M88.1 564.1V571.4M88.6 565V573.9M89.1 563.8V571.7M89.6 562.6V570.4M90.1 562.1V570.4M90.6 564V570.6M91.1 564.5V571.1M91.6 564.6V571.6M92.1 562.3V570.8M92.6 563V571.8M93.1 562V574.2M93.6 562.4V570.7M94.1 564.5V569.8M94.6 564.9V569.3M95.1 564.8V572.7M95.6 563.5V572.7M96.1 566.2V574.5M96.6 567.1V574.5M97.1 567.8V576.5M97.6 568.1V576.4M98.1 568.1V579.3M98.6 570V577.7M99.1 570.9V578M99.6 570V578.2M100.1 571.3V577.6M100.6 569.8V575.9M101.1 569.7V576.8M101.6 570.1V577.3M102.1 567.5V575M102.6 567.4V575.5M103.1 565.8V572.5M103.6 565.3V571.8M104.1 563V571M104.6 563.8V569.3M105.1 562.1V570.4M105.6 563.2V570.7M106.1 563.7V570.1M106.6 564V570.5M107.1 563.4V571.3M107.6 564V569.2M108.1 563.6V570.4M108.6 563.4V570.4M109.1 563.8V569.4M109.6 564.2V574.1M110.1 563.6V569.6M110.6 562.9V569.9M111.1 565.1V572.1M111.6 560.7V571.6M112.1 563.7V570.7M112.6 565V571.9M113.1 565.7V572.3M113.6 564.5V570.9M114.1 563.6V570.8M114.6 562.9V569.3M115.1 562.8V571.1M115.6 564V570.6M116.1 563.2V569.2M116.6 564.1V570.1M117.1 563.2V569.8M117.6 563.1V570.7M118.1 560V569.7M118.6 563.4V571.1M119.1 564.6V570.2M119.6 564.2V569.8M120.1 560.9V570.5M120.6 563.3V571M121.1 564.3V570.5M121.6 563.9V572.3M122.1 564.4V571.7M122.6 563V569.6M123.1 564.1V571.5M123.6 562.8V571.8M124.1 563.9V570.5M124.6 561.3V570.4M125.1 563.8V569.3M125.6 562.9V570.4M126.1 563V570.6M126.6 563.2V571.6M127.1 564.9V571M127.6 563.8V569.4M128.1 562.5V572.4M128.6 561.9V570.2M129.1 562V569.7M129.6 560.6V570.3M130.1 561.2V571.3M130.6 564.5V569.8M131.1 564.3V570.9M131.6 563.1V571.4M132.1 562.3V571.8M132.6 562.5V571.2M133.1 562.8V569.3M133.6 563.5V571.6M134.1 561.5V570.4M134.6 563.4V570.1M135.1 564.3V572.2M135.6 561.6V571.9M136.1 563.2V570.9M136.6 563.4V571.4M137.1 562.8V572M137.6 564.1V572.9M138.1 564.3V571.3M138.6 564.2V571.7M139.1 563.7V572.1M139.6 564.1V569.9M140.1 561.8V571.6M140.6 563.1V568.7M141.1 564V570.8M141.6 561.9V569.4M142.1 563.3V570.2M142.6 564.6V571.1M143.1 564.4V572.1M143.6 563.9V569.1M144.1 564.2V570.8M144.6 566.7V576.1M145.1 568.5V575.7M145.6 567.1V578.2M146.1 567V576.7M146.6 569.6V576.1M147.1 567.5V577.5M147.6 566.3V575.8M148.1 568.9V575.8M148.6 569.1V575.7M149.1 567.5V575.8M149.6 569.2V574.7M150.1 566.5V574.8M150.6 567.8V575.3M151.1 568.7V575.1M151.6 569V574.2M152.1 567.8V574.2M152.6 566.8V575M153.1 567.9V575.1M153.6 566.5V574.5M154.1 568.6V575.1M154.6 569.3V577.3M155.1 568.8V575.2M155.6 567.8V575.4M156.1 569V575.9M156.6 567.3V577.3M157.1 567.4V575.6M157.6 568.4V576.9M158.1 566.5V576.2M158.6 567.3V575.3M159.1 568.1V575.7M159.6 567.9V575.4M160.1 568.6V576.5M160.6 566V574.1M161.1 567.7V574.6M161.6 568.3V574.9M162.1 569.2V575.8M162.6 565.8V575.7M163.1 568.1V575.4M163.6 567.6V575.8M164.1 569V574.9M164.6 568.4V577.1M165.1 567.8V576.1M165.6 567.2V574.2M166.1 565.7V575.5M166.6 566V575M167.1 568.9V575.8M167.6 567.4V576.2M168.1 562.5V571.8M168.6 563V572M169.1 563.1V571.5M169.6 562.5V573M170.1 562.7V573.2M170.6 563.4V570.8M171.1 561.4V569.6M171.6 563V571.1M172.1 563.6V569.4M172.6 562.8V569.1M173.1 561.7V571.3M173.6 564.2V568.7M174.1 562.8V571.1M174.6 562.4V570.2M175.1 563.7V570.8M175.6 563V570.7M176.1 563.2V570.7M176.6 563.5V570.5M177.1 563.7V573.6M177.6 564.1V571.5M178.1 563V569.1M178.6 563.4V570.6M179.1 564.3V571.7M179.6 563.2V570.5M180.1 563.3V570.4M180.6 564.7V569.6M181.1 566.5V577.3M181.6 565.6V576M182.1 566.2V576M182.6 567.5V578.1M183.1 567.5V578.7M183.6 566.1V577.1M184.1 569.3V577.3M184.6 564.2V578.2M185.1 567V576.7M185.6 567.8V577.1M186.1 567.6V577.9M186.6 567.4V577.4M187.1 567.2V576.4M187.6 567.8V577.4M188.1 568.2V576.3M188.6 568.8V578.2M189.1 566.9V580.2M189.6 568.5V577.8M190.1 568.1V575.5M190.6 567.5V576.2M191.1 566.3V579.3M191.6 567.3V577.8M192.1 566.1V575.7M192.6 570.5V576.7M193.1 566.2V577.6M193.6 566.1V577.1M194.1 565.7V577.5M194.6 567.6V576.7M195.1 564.7V575.4M195.6 568.6V578M196.1 572V587.1M196.6 580.4V588M197.1 579V586.3M197.6 580.5V589.6M198.1 582.4V588.6M198.6 581.8V589.7M199.1 580.2V587.8M199.6 580.6V587.7M200.1 580.1V588.7M200.6 581.2V588.4M201.1 580.5V587.8M201.6 578.1V588.8M202.1 580.7V589.2M202.6 581.4V587.4M203.1 581.5V588.1M203.6 580.7V589.8M204.1 579.6V588.6M204.6 581.3V588M205.1 580.5V587.5M205.6 579.6V587.6M206.1 579V589.5M206.6 578.1V587.6M207.1 580.9V586.3M207.6 581.3V588.9M208.1 580.2V589M208.6 579.2V587.7M209.1 581.3V587.6M209.6 581.8V589.8M210.1 566.9V584M210.6 565.3V575.8M211.1 567.7V576.6M211.6 565.8V574.1M212.1 566.7V577.4M212.6 566.3V577.6M213.1 565.8V573.6M213.6 565.1V577M214.1 566.5V576.4M214.6 566V575.3M215.1 566.1V578.9M215.6 564.8V576M216.1 566.9V576.8M216.6 562.5V575.6M217.1 571V589.2M217.6 581.8V589.6M218.1 581.3V587.5M218.6 583.2V588.8M219.1 579.6V588.1M219.6 581.6V589.2M220.1 581.5V588.6M220.6 580.9V588.8M221.1 581V588.5M221.6 580.2V589.3M222.1 582.2V588.2M222.6 581.8V589.2M223.1 580.4V586.8M223.6 580.4V588.3M224.1 580.4V588.9M224.6 582.3V588.1M225.1 581.3V588.2M225.6 582.9V588.9M226.1 581.6V588.4M226.6 581V587M227.1 580.6V588.3M227.6 580.8V588.4M228.1 564.8V584.5M228.6 564.9V576.8M229.1 561.5V577.7M229.6 563.4V581.6M230.1 564.4V577.3M230.6 566.2V576.8M231.1 567.2V579.7M231.6 564.4V578.8M232.1 566V579.8M232.6 564.4V578.2M233.1 566V576.9M233.6 565.1V577.1M234.1 561.2V580.9M234.6 565.1V578.4M235.1 568.6V579.7M235.6 565.3V579.5M236.1 564.9V579.1M236.6 562.6V580.4M237.1 565.5V577.3M237.6 562.8V576.3M238.1 565.9V576.2M238.6 567.9V581.8" fill="none" stroke="#a2042e" stroke-width="1.0"/>
<path d="M183.7 572V566.4M184.2 572V566.3M185 572V567.1M185.4 572V569M185.9 572V569.2M186.4 572V565.2M187.7 572V565.7M188.7 572V565.2M189.5 572V569.3M191.9 572V568.8M192.8 572V569.5M193.2 572V568.9M195.4 572V566.4M211.8 571V565.4M212.2 571V565.3M212.7 571V566.9M213.2 571V566.6M216 571V563.6M230.2 571V566.3M231.8 571V566.4M232.3 571V568.1M232.7 571V566.2M233.2 571V567.2M235.2 571V567.3M236.9 571V567M238.7 571V566.4M65.5 567V571.4M87.7 567V571.4M93 567V574.5M93.6 567V570.7M122.5 567V571.2M129.7 567V572.5M234 571V574.9" fill="none" stroke="#a2042e" stroke-width="0.75" stroke-opacity="0.8"/>
<path d="M54.6 602V616.4M55.1 600.3V617.3M55.6 601V620M56.1 606.5V621.1M56.6 606.8V617.2M57.1 606.8V620.6M57.6 608V618.8M58.1 612V625.9M58.6 606.4V621.8M59.1 609.5V624.3M59.6 616.5V624.1M60.1 624.5V632.7M60.6 630V637.7M61.1 636.5V641.2M61.6 631.1V637.2M62.1 628.2V635M62.6 625V633.7M63.1 617.1V623.5M63.6 614.8V626.2M64.1 616.5V628.2M64.6 609V627.5M65.1 609.8V626.3M65.6 609.8V624.2M66.1 606.5V621.2M66.6 613.3V624.5M67.1 611.5V625.9M67.6 609.7V624.2M68.1 606.5V621.6M68.6 604.6V628.6M69.1 610.1V622.7M69.6 610.9V621.3M70.1 602.2V629.3M70.6 610.9V620M71.1 611V628.3M71.6 613.5V624.3M72.1 614.4V628.7M72.6 611V627.7M73.1 616.2V629.9M73.6 613V628.7M74.1 605.8V621.6M74.6 612.7V622.4M75.1 610.8V621.5M75.6 609.8V624.6M76.1 609.9V624.6M76.6 609.8V624.8M77.1 607.5V619.4M77.6 605.1V623.7M78.1 603.9V625M78.6 610.6V622.7M79.1 613.5V624.6M79.6 611.8V626.2M80.1 613.3V624.2M80.6 607.1V624.6M81.1 604.6V617M81.6 607.8V622.5M82.1 605.7V622.6M82.6 607.3V623M83.1 610.7V619.5M83.6 607.6V621.8M84.1 610V619.3M84.6 609.8V618.7M85.1 604.3V623.2M85.6 606.9V621.6M86.1 606.1V623.1M86.6 609.4V619.1M87.1 611.3V622.9M87.6 612.1V622.3M88.1 612.7V629M88.6 607.9V629.2M89.1 613.9V626.4M89.6 609.8V623M90.1 611.7V624.3M90.6 604.8V627.2M91.1 610.5V620.9M91.6 610.5V621.7M92.1 610.5V625.7M92.6 609.5V625.4M93.1 613.2V631.2M93.6 615.6V629.7M94.1 611V624.7M94.6 607.5V626.9M95.1 611.8V625.3M95.6 606.5V623.9M96.1 609.1V626.7M96.6 606.4V625.3M97.1 610.6V624.4M97.6 612.9V622M98.1 612.2V626.3M98.6 612.8V624.5M99.1 609.7V625M99.6 609.2V622.1M100.1 610.2V622M100.6 609.2V620.8M101.1 608.5V625.5M101.6 611.3V626.9M102.1 613.6V626M102.6 608.6V623.1M103.1 610.1V622.3M103.6 610V623.6M104.1 609.2V623.9M104.6 612.1V627.1M105.1 610.6V621.1M105.6 605.8V627.5M106.1 606.5V627.1M106.6 606.4V621.2M107.1 610V624.6M107.6 607.6V627.7M108.1 609.6V625.9M108.6 609.6V623.5M109.1 612.4V627.6M109.6 612.4V628.5M110.1 611.7V627.7M110.6 614.1V626.4M111.1 611.7V623.4M111.6 616.2V626M112.1 616.1V626.6M112.6 616.1V627.2M113.1 615.5V629.5M113.6 614.8V624.9M114.1 612.5V626M114.6 613.7V633M115.1 616.8V626M115.6 615.8V625.1M116.1 613V626.8M116.6 612.4V624.5M117.1 613.4V626.1M117.6 612.5V622.6M118.1 610.5V620.2M118.6 611.1V624.4M119.1 609.4V625.4M119.6 614.6V629.3M120.1 610.6V623.3M120.6 613.3V626.1M121.1 612.8V625M121.6 613.7V628.7M122.1 613.4V629.4M122.6 612.6V623.6M123.1 615.4V623M123.6 610.1V629.6M124.1 607.3V627.5M124.6 614.5V624.7M125.1 614.1V626.7M125.6 606.4V624.9M126.1 611.2V626.2M126.6 612.1V625M127.1 609.7V621.3M127.6 606.9V621M128.1 614.6V622.5M128.6 608.1V622.3M129.1 612.7V628.3M129.6 607.3V618.8M130.1 609V626.3M130.6 607.8V624.3M131.1 608.2V621.9M131.6 609.1V624.7M132.1 611.8V624.9M132.6 611.8V624.7M133.1 613V627.6M133.6 611.4V625.4M134.1 615V627.4M134.6 613.2V622.5M135.1 612V624.3M135.6 608V627.5M136.1 613.4V628M136.6 610.6V625.1M137.1 610.4V631.7M137.6 610.4V625.1M138.1 614V630.5M138.6 610.8V623.6M139.1 608.6V624.4M139.6 607.9V623.4M140.1 609.9V619.7M140.6 609.9V624.1M141.1 609.7V624.3M141.6 609.4V627.7M142.1 608.8V623.1M142.6 609V622.6M143.1 608.4V624.7M143.6 614.1V625.7M144.1 609.8V625M144.6 612V621.7M145.1 610.2V620.6M145.6 606.8V619.8M146.1 606.9V626.4M146.6 612.2V623.7M147.1 610.2V625.6M147.6 611.7V627.1M148.1 610.9V624.3M148.6 610.1V622.4M149.1 611.2V624.6M149.6 612.8V621.2M150.1 610.9V627.8M150.6 610.3V620.7M151.1 608.6V622.1M151.6 608V618.7M152.1 606.8V618.9M152.6 608.5V626.7M153.1 612.4V627.5M153.6 607.7V620.9M154.1 608.3V625.1M154.6 603.3V619.4M155.1 607V622.2M155.6 611.3V626.3M156.1 606V626.3M156.6 606.5V618.2M157.1 607.7V625.3M157.6 610.6V625.4M158.1 607.9V623.9M158.6 611.2V619.4M159.1 609.9V623.1M159.6 612.4V624.1M160.1 609.9V626.6M160.6 611.7V631.9M161.1 611.8V625.6M161.6 613.3V627.9M162.1 614.6V624.5M162.6 614.3V628.8M163.1 615.2V633.5M163.6 612.8V623.7M164.1 610.9V626M164.6 610.2V626.3M165.1 610.7V627.3M165.6 609.4V629.2M166.1 609V627.2M166.6 609.7V623.2M167.1 609.2V625.3M167.6 610V623.9M168.1 609V624.2M168.6 610.9V621.7M169.1 609.2V616.8M169.6 609.7V622.3M170.1 606V618.9M170.6 610.2V622.8M171.1 610.9V621.6M171.6 610.5V620.3M172.1 608.3V624.7M172.6 609.3V624.2M173.1 609.6V621.4M173.6 609.3V622.2M174.1 613.9V622.7M174.6 614.7V625.7M175.1 610.2V625.2M175.6 607.3V619.3M176.1 608.7V625.1M176.6 609.3V627.6M177.1 605.3V622.1M177.6 608.2V626.7M178.1 614.9V627.7M178.6 610.7V627.8M179.1 608.3V627.5M179.6 615.4V627.2M180.1 610.7V625.9M180.6 608.3V627.1M181.1 613.1V626.4M181.6 609.1V629.2M182.1 609.5V624.9M182.6 614.1V631.1M183.1 613.1V623.8M183.6 607.1V626.5M184.1 611.2V625.2M184.6 610.7V622M185.1 611.9V623.5M185.6 605.9V625.9M186.1 605.5V618.7M186.6 606.2V618.7M187.1 607.9V622.7M187.6 609.1V620.8M188.1 609.9V625M188.6 609.4V622.1M189.1 609.8V623.3M189.6 608V624.8M190.1 609.1V622.1M190.6 606.9V625.1M191.1 610.1V624.1M191.6 606.1V623.4M192.1 607.9V620.3M192.6 611.6V619.3M193.1 605.5V623.4M193.6 603.5V620.5M194.1 602.7V618.1M194.6 604.6V622.2M195.1 606.9V624.2M195.6 611.6V624.8M196.1 601.8V624M196.6 608.1V620.4M197.1 606.8V622.3M197.6 609.6V621.8M198.1 611.4V621.2M198.6 609.2V623.9M199.1 608.2V623.5M199.6 610.6V623.9M200.1 608.8V631.6M200.6 607.6V622.8M201.1 608.7V620.1M201.6 609.3V624.9M202.1 608.2V623.6M202.6 608.9V623.6M203.1 609.7V623.4M203.6 605V623.5M204.1 606.1V619.1M204.6 602.7V618.7M205.1 603.2V619.5M205.6 607.7V618.3M206.1 607.9V622.5M206.6 602.8V621M207.1 605.6V619.4M207.6 605.3V616.4M208.1 608.5V620.6M208.6 609.4V623.8M209.1 605.8V622.2M209.6 606.5V619.2M210.1 606V626.5M210.6 610.1V622M211.1 609.7V625.6M211.6 608.7V621.6M212.1 610.5V623M212.6 611.9V626.6M213.1 607.7V626.5M213.6 605.7V613.8M214.1 605.4V612.5M214.6 604.7V611.4M215.1 603.2V611.3M215.6 607.3V614.4M216.1 607.9V615.4M216.6 606.7V612.7M217.1 603.5V613.8M217.6 601.4V610.4M218.1 602.5V610.4M218.6 602.3V611.7M219.1 606.4V612.7M219.6 604.6V613M220.1 601.3V612.6M220.6 603.4V609.3M221.1 604.3V623.2M221.6 610V623.7M222.1 610V629M222.6 613.2V625.3M223.1 614.7V624M223.6 601.9V629.2M224.1 610V624.8M224.6 612.4V623.6M225.1 606.1V623.4M225.6 607.3V620.3M226.1 606.2V620.7M226.6 607.6V621.5M227.1 605.2V620.4M227.6 600.9V622.3M228.1 603.2V620M228.6 607.4V621.6M229.1 608V623M229.6 606.3V621M230.1 606.3V615.7M230.6 605.7V617.4M231.1 606.7V619.1M231.6 608.5V623.2M232.1 606.4V620.7M232.6 608.5V615.5M233.1 611.4V619.2M233.6 606V619.1M234.1 611.9V621.6M234.6 614V625.6M235.1 608.9V623.8M235.6 612V623.2M236.1 611.3V623.8M236.6 608.8V622.7M237.1 612.9V633.3M237.6 605.2V629.2M238.1 612.8V622.2M238.6 609.6V627" fill="none" stroke="#a2042e" stroke-width="1.0"/>
<path d="M54.7 609.7V602.3M55.5 612.4V608.6M56.9 612.3V607M57.7 612.2V607.1M58.3 613.7V605.9M58.6 613.2V605.8M59.3 613V605.3M63.4 620.9V613.9M64 620.8V615.3M65.3 617.3V612.4M65.7 616.9V609M65.9 617.8V610.6M66.1 617.8V623M67.3 617.1V609.7M67.4 617.4V622.1M68.2 615.9V605.2M69.4 614.6V608.1M71.2 617.9V610.8M70.9 617.9V621.6M71.5 619.4V611.7M72.1 619.4V610.8M72.5 618.6V610.2M73.2 619.1V610.5M73.4 617.3V608.5M74 617.6V610.3M74.8 618.3V610.2M75.7 617.6V607.7M76.2 616.6V606.5M76.8 615V609.5M76.4 615V620.8M77.3 614.8V608.3M77.6 616.3V605.9M78.8 616.6V620.1M79.2 616.8V610.5M79 616.8V621.2M79.5 616.8V609.7M79.9 614.9V609M81.8 613.1V608.5M82.2 613.7V607.5M82.8 615.2V608.4M83.2 615.4V610.8M83.6 615.4V607.4M84.3 615V604.3M84.7 614.3V604M84.4 614.3V617.3M84.9 613.4V608.9M85.6 614.4V605.7M86.8 613.3V620M86.9 616.5V605.3M87.6 616.4V610.6M88 619.6V611.1M88.4 619.3V607.8M89.3 619.5V614M89.8 617.4V606.6M90 618.7V612.7M90.4 617.7V610.7M91.2 616.5V605.1M92.6 618.4V611.4M93 621.1V609M93.6 620.5V612.5M94.2 619.8V613.9M94.2 619.8V626.3M94.6 618.2V606.4M95.8 617.1V609.1M96.1 617.2V609.3M97.2 616.3V610.4M97.6 616.9V610.7M97.5 616.9V622.5M98.2 617.2V611.6M98.5 616V608.7M98.4 616V620.5M99 615.6V606.9M99.6 615.8V603.4M100.1 615.4V622.3M100.9 618.7V623.1M103.3 615.6V603.7M103.4 615.7V609.7M103.8 615.7V619.1M104.7 616.5V621.7M105.3 616.2V611.6M106 617.3V606M106.7 615.7V609.6M107.9 616.9V609.7M108.4 616.3V608.9M109.7 618.2V610.8M110 619.4V613.8M110.9 619.1V613.8M111.5 620.6V614.5M111.8 620.6V623.7M112.3 620.4V612.3M112.6 620.9V610.1M115.3 620.9V608.5M116 619.4V614.4M116.4 618.2V623.6M116.9 618.5V606.2M117.8 617.3V611.3M118.1 617.9V610.3M117.9 617.9V624.8M118.7 618.1V612.9M119.2 620V607.9M119.4 619V609.2M120.9 618.3V608.5M122.2 619.5V612.6M123 616.6V611.7M123.7 618.5V612.3M124.7 617.4V622.6M125.2 617.5V605.1M125.4 616.8V608.8M126.2 616.1V606.4M127.3 615.3V608.1M127.2 615.3V619.8M127.9 615.3V603.5M128.7 614.5V618.7M128.9 616.1V608.8M129.6 615.6V610.4M130.3 616.9V607.3M130.6 617V606.3M131.1 616.7V604.9M131.7 616.2V604M131.9 618.4V625M132.5 617.3V605.3M133.2 618.6V607.7M133.6 619.1V608.4M134 618.5V613.8M136.5 618.5V609.4M137.4 618.6V611.9M138.2 616.9V610M138.7 615.7V605.1M138.9 616V610.5M139.5 616.3V611M139.8 616.3V622.3M140.4 615.7V605.2M141.3 615.8V609.6M141.8 616.6V610.3M142 615.9V609.5M142.4 615.3V609.5M142.5 615.3V619.5M143.4 617.5V606.2M144.4 615.7V605.6M145.3 615.3V620.1M146.2 615.7V606.4M146.7 615.8V609.2M146.9 617.9V609.6M147.3 617.9V623.5M147.8 618V611.1M148.2 617.2V609.6M148.8 617.2V611.5M149 617.6V606.4M149.8 616.2V609.1M150.1 614.9V603.2M150.5 615.4V605.7M151.4 614.6V610.2M152.2 614.7V607.3M152.5 615V609.9M152.9 616.5V606.7M153.7 615.1V609.1M154.2 614.9V610.1M154.3 614.9V620.5M154.5 614.4V609.7M155.8 616.8V612.4M155.9 615.2V622.1M156.7 613.4V606.1M157.4 615.6V608.1M157.4 615.6V620.1M158.2 617V606.7M158.5 616.4V604.3M159.3 616.7V608.7M159.9 619.2V612.7M160.7 620.8V614.5M161.2 620V612.2M161.8 619V607M162.2 618.8V609.4M162.7 620.2V612.8M162.5 620.2V623.8M162.9 620.7V615.7M164.7 619.1V614.7M164.9 617.6V608.6M165.4 619.2V608.2M165.7 619.2V623.4M166.2 617V621.5M166.4 615.9V604.8M167.3 616.7V605.3M167.4 615.5V618.4M168.1 614.3V607.6M168.7 614.4V606.2M169.3 614V605M169.7 613.3V608.6M170.1 614.7V607.8M170.5 616.1V609.1M171.6 613.9V605.6M172 614.2V619.1M172.8 615.3V618.8M173.3 615.1V610.1M174.2 616.9V609.4M174.4 616.3V610.8M175.2 615.6V606.9M174.9 615.6V619.6M175.4 615.5V618.8M176 615.4V608.5M177.2 614.1V608M177.4 616.4V605M178 618.8V607.4M178.5 621.4V614M178.5 621.4V627.5M178.9 617.6V607.3M179.9 618.2V609M181.2 620V615M181.6 618.2V609.2M181.9 619.3V612.3M181.9 619.3V626.1M184.2 616.5V605.2M184.8 615.4V603.9M185.1 614.8V605.2M185.7 614.1V606.6M186.1 614.8V608.4M186.7 613.2V605.3M187.3 614.4V607.7M188.2 615.3V607.4M188.6 613.9V604.8M188.7 613.9V619.5M189.4 614.6V607M190.2 615.1V604.2M190.5 616V607.5M191.3 615.3V604.2M191 615.3V618M191.4 614.7V603.3M192.3 613.8V609.1M193.2 613.9V602.3M193.4 613.4V602.2M194.2 612.7V603.8M194.9 612.6V607.5M196.7 614V606.6M197.3 616.4V604.5M197.5 615.8V609M198.3 615.9V605.6M198.7 615.3V608.1M199.4 616.3V608.3M200.3 614.4V607.7M200.4 615.1V607.8M201.2 614.8V602.5M201.8 615.7V607.3M202.2 616.2V611.1M202.4 614.2V606.6M202.9 612.9V605M203.7 612.3V615.6M204.7 610.7V599.8M204.8 610.7V614.6M205 611.5V603.7M205.5 612.1V601.2M206.5 612.7V617.1M207.2 612.6V603.5M206.9 612.6V618.1M207.8 611.7V601.2M208.4 614.8V608.9M209.2 614.6V609.6M210.1 615.6V609.7M210.7 615.1V610.7M211.1 616.2V605.3M211.7 616.1V610.8M211.9 616.9V605.9M212.6 618.3V613.7M221.3 615.7V609.3M221.7 618.2V621.8M222.1 618.9V607.1M223.3 618.2V613.4M223.6 618.3V607.2M223.9 616.7V607.3M224.5 616.8V609.7M225.6 615.4V622.2M226.2 613.6V602.7M226.7 613.9V608M226.9 612.9V616.2M227.4 612.5V602.4M228.1 613.2V607M228.6 613.8V608.1M228.9 613.4V604.9M229.4 613.6V608.1M230.1 611.7V604.8M230.8 611.5V599.9M231.1 611.1V614.2M231.8 612.7V605.3M231.9 612.6V601.4M232.4 612V603.4M232.9 613.3V602.2M234.2 614V601.8M234.8 615V604.4M235.1 615.6V607.3M236.3 615.3V607.6M236.4 614.8V606.7M237 616.8V610.3M238.1 616.4V608.5M238.5 616.9V608.9" fill="none" stroke="#a2042e" stroke-width="0.75" stroke-opacity="0.8"/>
<path d="M54.6 648.7V663.3M55.1 644.3V664.8M55.6 647V666.7M56.1 642.9V656.6M56.6 645.7V661.5M57.1 645.9V659.9M57.6 649.9V664.2M58.1 648.3V663.6M58.6 645.1V663.7M59.1 641.9V655.7M59.6 654.5V662.4M60.1 662.1V671.3M60.6 669.3V676.7M61.1 669.8V678.4M61.6 670.9V677.6M62.1 663.7V672M62.6 659.8V668M63.1 649.5V657.4M63.6 651.4V664.8M64.1 651.5V667.6M64.6 651.3V667.4M65.1 651.2V660.8M65.6 650.4V663.5M66.1 645V664.1M66.6 650.8V666.3M67.1 648.7V664.2M67.6 652.7V670.2M68.1 648.1V673.8M68.6 651.7V667M69.1 652.9V669.6M69.6 651.2V667.7M70.1 652.8V666.3M70.6 656.3V668.1M71.1 653.6V671.2M71.6 651.6V665.8M72.1 657.9V671.4M72.6 653.6V672.2M73.1 658.2V674.3M73.6 651.7V679.8M74.1 653.4V666.1M74.6 652.7V670.2M75.1 654.5V671.6M75.6 645.6V669.9M76.1 648.3V664.5M76.6 649.9V669.3M77.1 650.2V668.6M77.6 652.1V670.7M78.1 652.6V668.9M78.6 655.9V667.8M79.1 653V665.4M79.6 653.2V664.3M80.1 651V669M80.6 653.1V665.7M81.1 648.7V661.5M81.6 650.2V674.4M82.1 652.1V671.1M82.6 650.5V670.1M83.1 647.2V663M83.6 649.7V667.3M84.1 650.7V664.8M84.6 643.8V664.4M85.1 652.9V665.2M85.6 652.4V666.2M86.1 653.3V668M86.6 650V666.6M87.1 652.7V663.2M87.6 646.3V663.3M88.1 644.9V665.9M88.6 651.8V662.5M89.1 648.5V660.4M89.6 646.2V661.6M90.1 649.3V663M90.6 648.8V661.6M91.1 651V668M91.6 646.6V661.1M92.1 649.9V666.1M92.6 644.9V660.6M93.1 649.1V669.9M93.6 652.9V667.3M94.1 652V664.2M94.6 651V667.8M95.1 653.1V665M95.6 650.2V670.3M96.1 653.8V669.7M96.6 651.5V662.8M97.1 652.1V670.7M97.6 647.5V664.7M98.1 647.2V673.1M98.6 651.7V666.3M99.1 656.8V665.3M99.6 654V670.7M100.1 651V664.1M100.6 650.3V669.8M101.1 652V666M101.6 653.3V667.9M102.1 654.5V666M102.6 646.4V668.9M103.1 647.9V667.3M103.6 652.2V664.9M104.1 647.3V667.8M104.6 653.5V664.2M105.1 648.1V668.4M105.6 649.9V667.8M106.1 647.2V668M106.6 654V669.2M107.1 651.2V666.1M107.6 652.2V669M108.1 656.3V670.5M108.6 654V669.9M109.1 646.2V666.4M109.6 654.4V667.7M110.1 654.6V669.8M110.6 653.3V666.5M111.1 654.2V670.2M111.6 651.4V662.8M112.1 652.3V669.6M112.6 652.3V662.4M113.1 648.6V662.1M113.6 649.6V666.5M114.1 649.7V665.2M114.6 654.8V667.1M115.1 648.7V668M115.6 653.9V669.3M116.1 654.7V664.8M116.6 649.2V665.7M117.1 653.5V670.7M117.6 648V667.4M118.1 649.8V664.6M118.6 646.8V663.1M119.1 652.9V671.6M119.6 652.4V663.6M120.1 649.7V664.7M120.6 651.9V669.8M121.1 651.1V663.6M121.6 648.5V664.9M122.1 652.4V669M122.6 652.7V664M123.1 652.3V671.2M123.6 650.5V663.7M124.1 653.3V666.6M124.6 655V670.7M125.1 654.2V669.3M125.6 653.4V667.2M126.1 647.1V669M126.6 651.4V672.1M127.1 649.9V662.2M127.6 654.2V666.9M128.1 647.9V662.8M128.6 651V668M129.1 646.1V664.3M129.6 656.3V671.2M130.1 655.3V665.8M130.6 650.4V666.2M131.1 649.4V664M131.6 645.9V664.1M132.1 648.2V662.7M132.6 649.6V663.2M133.1 647.7V658.7M133.6 646.8V665.4M134.1 646.1V663.3M134.6 651.3V664M135.1 652.5V668M135.6 653.7V662.8M136.1 650.4V664.3M136.6 645.4V663.7M137.1 650.1V664.7M137.6 647.6V664.1M138.1 651.8V670M138.6 652.8V665.6M139.1 650.7V668.4M139.6 653.5V671M140.1 649.7V666.1M140.6 646.4V665.6M141.1 655.6V670.5M141.6 644.8V669.7M142.1 650.4V662.4M142.6 648.1V672.2M143.1 651.1V665.4M143.6 649.5V665.9M144.1 652.4V662.4M144.6 648.4V669.1M145.1 649.4V662.8M145.6 655.6V671.6M146.1 650.6V670.9M146.6 646.4V669.1M147.1 653.4V667.7M147.6 648.8V669.5M148.1 650.6V665M148.6 648.4V665M149.1 651.6V668.1M149.6 656.7V674M150.1 650.3V670.9M150.6 650.8V668.9M151.1 651.9V667.6M151.6 650.1V665.9M152.1 646V665M152.6 644.3V661.1M153.1 650.2V662.3M153.6 642.2V663.1M154.1 646.2V655.5M154.6 646.8V662.4M155.1 648.9V661.7M155.6 652.5V660.7M156.1 645.9V662.6M156.6 642.1V658.9M157.1 647.8V659.6M157.6 646V659.6M158.1 647.8V663.2M158.6 644.7V660.5M159.1 647.9V660.7M159.6 645.7V661.3M160.1 648V664.4M160.6 648.8V662.3M161.1 642.4V663.8M161.6 648.1V660.2M162.1 648.4V663.5M162.6 646.8V662.7M163.1 648.2V665M163.6 646.1V669.2M164.1 644.3V660.3M164.6 638V663.4M165.1 644.9V659.2M165.6 646.8V666.6M166.1 651.7V665.1M166.6 646.5V667.7M167.1 648.2V663.7M167.6 641.2V665.2M168.1 645.7V663.3M168.6 644.1V664.6M169.1 648.7V670.7M169.6 647V668.2M170.1 649.5V664.1M170.6 648.7V666.9M171.1 646.1V659.9M171.6 645V669M172.1 649.6V660.2M172.6 649.6V664.6M173.1 650.1V661.3M173.6 647.8V662.3M174.1 648.7V665.1M174.6 652.4V664.9M175.1 647.3V665.2M175.6 650.8V662.1M176.1 653.1V665.1M176.6 648.5V663.9M177.1 647.4V669.5M177.6 644.5V661.7M178.1 653.9V664.4M178.6 650.9V666.8M179.1 654.2V666.9M179.6 652.2V668.9M180.1 649V663.5M180.6 651.2V664.2M181.1 646.2V666M181.6 645.3V664.3M182.1 655.9V662.2M182.6 654.5V670.6M183.1 654.4V666.1M183.6 651V665.8M184.1 650.9V664.5M184.6 646.7V661.3M185.1 646.9V666.9M185.6 649.8V663.1M186.1 643.8V663.7M186.6 646.5V665.1M187.1 642.8V659.5M187.6 645.6V663.3M188.1 645.5V662.8M188.6 650.1V664.9M189.1 646.6V665.4M189.6 649V663M190.1 650.3V660.2M190.6 649.8V658.9M191.1 650V665.9M191.6 645.4V660M192.1 642.7V662.8M192.6 637.7V661.1M193.1 643.8V659.8M193.6 647V660.8M194.1 647V661.7M194.6 644V661.2M195.1 642V654.8M195.6 640.5V654.5M196.1 643.7V658M196.6 649.7V656.2M197.1 647.1V655.9M197.6 651.2V660M198.1 648.5V662.6M198.6 645.4V662.8M199.1 647.8V657.6M199.6 650.4V663.2M200.1 649.6V655.8M200.6 649.9V659.8M201.1 651.1V662M201.6 647.8V660.5M202.1 648.5V660.7M202.6 648.7V660.6M203.1 649.4V662M203.6 648.3V658M204.1 648.6V662.7M204.6 650.5V663.1M205.1 648.2V659.1M205.6 648V658.7M206.1 649.3V659.3M206.6 645.2V656.7M207.1 646.9V659M207.6 647.4V659.3M208.1 646.8V661.4M208.6 644.9V653M209.1 643.5V657.5M209.6 646.9V654.5M210.1 642.3V658.6M210.6 644.1V658.1M211.1 642.6V655.8M211.6 645.8V653.8M212.1 643.5V656.4M212.6 643.4V655.4M213.1 642.6V655.7M213.6 644.2V657.4M214.1 643.5V652M214.6 642.1V652.6M215.1 647.8V655.5M215.6 641.7V655.1M216.1 645.8V658.3M216.6 645.1V655.5M217.1 642.4V655.2M217.6 641.7V654.2M218.1 642.8V656.2M218.6 647.1V657.2M219.1 643.7V656.8M219.6 649.8V658.8M220.1 645.2V656.4M220.6 641.9V663.1M221.1 645.2V658.9M221.6 644.1V655.6M222.1 647V655.8M222.6 645.6V660.6M223.1 647.9V658.3M223.6 645V658.9M224.1 645.2V656.8M224.6 647V659.9M225.1 648V663M225.6 647.5V658.6M226.1 648V656.7M226.6 644.3V660.4M227.1 645V658.6M227.6 644.3V656.9M228.1 646.3V657.1M228.6 644.9V656.4M229.1 639.2V653.2M229.6 640.8V654M230.1 642.2V650.3M230.6 643V655.4M231.1 644.4V656.3M231.6 643V655.7M232.1 642.1V651.9M232.6 645.7V655.5M233.1 646.2V656.2M233.6 644.6V657M234.1 643.3V655.1M234.6 641.9V656.1M235.1 640.3V652.2M235.6 639.6V651.8M236.1 641.7V655M236.6 641.5V648.5M237.1 640.4V651.2M237.6 640.8V656.8M238.1 640.7V650.8M238.6 641.1V651.7" fill="none" stroke="#a2042e" stroke-width="1.0"/>
<path d="M54.8 651.7V645.7M56.2 653.4V645.5M56.6 653.1V648.4M57.2 652.8V645.7M58.6 652.3V646.1M59.1 650.9V646.2M63.8 656.6V647.6M63.5 656.6V662.3M64.2 655.7V646.5M65 656.9V650.1M65.7 656.6V651.2M66.2 656.3V645.9M66.6 657V648.8M66.9 657.7V646.1M67.7 658.8V651M68.2 659.6V654.5M68.5 659.9V653.4M69.5 659.8V652.4M70.2 659.3V653.2M72.1 662.1V650.9M72.6 663.5V651.5M73.2 663.1V653.8M74.2 660.3V650.5M74.8 660V653.5M74.9 659.9V652.2M75.8 659.7V654.7M76.6 658.5V647.3M77.4 659.9V648M78.2 659.2V651.8M79 659.2V649.1M79.5 658.4V650.6M79.6 658.4V664.2M80 658V647.9M80.7 658.4V651.3M81 658.8V648.1M81.8 658.9V662.9M82.1 658.9V649.8M82.2 658.9V666.8M82.5 658.6V649.5M82.6 658.6V662.2M82.9 657V652.6M83 657V662.3M83.6 656.7V647.3M84.3 657.3V650M84.5 657.7V646.6M85 659.4V653.2M85.8 660.1V648.2M85.9 658.6V649.9M85.9 658.6V661.5M86.7 659.2V653.1M86.9 657V646.5M87.6 655V647.5M87.4 655V658.7M87.9 656.7V645.3M89 654.7V647.8M89.5 653.8V648.3M90.3 654.6V647.5M92 655.4V662.7M92.6 656.2V645.5M93.4 656.3V647.9M94.6 657.2V652.1M95.4 660.1V648.1M97 659.2V664.8M97.7 659.2V648.8M98.1 658.1V650.5M99 658.8V653.8M99.6 659V650.9M99.8 659V664.6M101.1 659.7V649.6M102.7 658.4V648.6M103.1 658.3V653.7M102.9 658.3V663M103.7 658.7V650.6M104.6 659.7V666.6M105.7 658.8V650.7M106.1 657.2V645.3M107.7 659V650M108.8 661.4V649.4M109.2 661V648.6M110.2 660.4V648.1M110.3 660.4V664.3M110.4 659.3V663.2M111.6 657.9V645.9M112.1 657.1V651.4M112.6 655.8V645.2M114.3 657.2V645.9M114.8 658.7V652.1M115.8 659.1V650.2M116.3 658.8V646.6M116.8 660.3V655.6M116.7 660.3V663.2M117.6 657.6V652.8M118 656.7V650.6M118.8 655.9V647.9M119.2 658.4V646.5M120 657.9V662.2M120.4 658.3V652.5M121 659.2V649.2M121.8 659V653.8M121.8 659V662.5M121.9 657.9V650.2M122 657.9V663.7M123.4 660.5V649.8M123.5 660.5V666M124 660.9V654.3M124.8 663.3V670.3M125 661.5V650.3M126.3 660.7V648.4M125.9 660.7V666.2M126.7 660.1V655.2M127.3 658.3V647.3M127.7 658.3V646.7M128.3 658.7V653.8M129.6 658V651.9M129.8 658V662M130.2 657V647.8M130.5 655.5V644.1M130.9 657.2V650.4M132.5 656V644.5M133.1 654.7V649.4M133.6 656.1V643.9M134 656.4V645.5M134.8 656.8V662M135.8 657.9V645.6M136.3 657.7V661M136.7 657.7V651.7M137.3 657.1V647.6M137.5 658.2V646.8M138.1 659.9V650.8M138.2 659.9V664.8M138.5 658.6V653.9M138.7 658.6V665.8M139.4 658.8V653.3M139.9 658.9V648.8M140.7 658.2V650.5M142.1 654.8V648.1M142.1 654.8V658.7M142.9 657.4V650.9M143.6 657.3V645.4M144.3 656.9V652.1M145.4 659.3V654.7M146.1 658.7V663.6M146.6 659.4V651.2M147.2 659.7V651.4M148.2 657.8V652M148.5 658V652.3M150 656.8V651.2M150.1 656.8V663.8M150.7 658V654.1M150.6 658V662.5M151.1 657.3V648.4M151.5 655.8V651.6M151.7 655.8V660.5M151.9 654.5V650.8M152.6 654V646.3M153 653.7V644.7M153.6 653V644.1M154 652.8V647.1M154 652.8V656.2M154.8 653.7V649.9M156.8 653.6V645.5M157.2 652.9V648.5M160 654.8V648.2M161 654.9V649.7M161.3 654.9V658.1M162.6 653.6V650.3M162.4 653.6V659.4M163.4 653.2V644.7M164.2 653V647.2M164.4 653.2V646.7M165.2 653.3V646.3M165.5 654.8V647.3M166.1 654.3V645.4M166 654.3V659.3M166.5 654.9V651.7M167.2 654.2V649.6M167.4 652.9V649.5M168.4 653.9V649.2M170.2 654V647.8M170.5 653.5V647.6M171.1 653.4V646.5M170.9 653.4V656.2M171.4 653.8V649.6M171.9 653.8V645.8M172.7 653.8V648.9M173.9 656V650M173.9 656V662.4M175.1 656V662.6M175.7 656.6V648.8M177.7 656.9V652.4M178.2 656.7V664.2M180.3 657.5V652.6M180.4 657.2V652M182 659.5V650.9M183.3 659.4V665.8M183.4 657.9V665.7M184.2 656.9V651.5M184.6 655.7V663.2M185.3 654.7V659.5M186.3 653.1V658.8M186.5 653V647.8M186.9 652.4V646.1M187.7 653.4V644.6M187.9 654V646.2M187.9 654V658.8M190.3 656.5V650.5M189.9 656.5V663.4M190.8 656.2V647.3M191 655.7V650.4M191.8 655V650.3M192.1 653.9V647.5M192.5 653V648.1M193.8 652V647.7M193.9 652.5V649.1M194.6 651.9V646.8M195.1 650.2V648.7M195.2 650.2V657M196.3 652.2V660.3M196.4 651.7V649.2M199 654.7V665.6M199.7 654.1V652.3M200 654.3V663.2M201.4 654.1V666.3M202.1 653.8V661M202.7 652.5V664.7M203.2 653.6V652.2M203.2 653.6V661.5M206.1 654.3V652.6M207.5 651.8V661.9M208.7 649.8V655.9M208.9 649.8V654.8M210.4 650.8V648.4M211.1 649.6V646.9M212 650.2V656M213 648.7V656.8M214 648.2V657.6M214.4 648.7V647.6M215.2 650.2V647.5M216.2 650.9V660.4M216.5 649.5V659.9M217.8 648.4V660.3M217.9 649.6V647.6M219.3 652.4V665.9M219.7 653V659.2M220.7 652.2V661.6M221.3 650.4V656.5M222.3 651.2V648.9M222.1 651.2V662.2M222.7 652.3V659.5M224.1 651.8V664.4M224.4 652V660.1M225.1 652.9V651M225.5 651.8V658.3M225.9 652V650.6M226.1 652V665.4M226.7 651.2V661.8M227.3 651.5V663.7M227.4 650.4V660.6M228.5 648.3V646.4M229.3 648.3V646M229.1 648.3V654.4M230.7 649.8V647.2M230.9 649V657.9M231.4 648.2V659.4M232 649.4V659M233.8 649.6V657.4M234.1 648.3V645.6M233.9 648.3V657.8M235.1 645.7V657.7M237.2 645.7V644.7M238 644.5V642.7" fill="none" stroke="#a2042e" stroke-width="0.75" stroke-opacity="0.8"/>
<rect x="59.2" y="558" width="3.3" height="133.5" fill="rgba(218,218,222,0.62)"/>
<line x1="55.1" y1="566" x2="240.5" y2="566" stroke="rgba(205,205,205,0.58)" stroke-width="0.9" stroke-dasharray="3.1 2.67"/>
<text x="243.6" y="568.4" font-size="7.0" fill="#222" stroke="#222" stroke-width="0.05">c</text>
<line x1="55.1" y1="572.4" x2="240.5" y2="572.4" stroke="rgba(205,205,205,0.58)" stroke-width="0.9" stroke-dasharray="3.1 2.67"/>
<text x="243.6" y="574.8" font-size="7.0" fill="#222" stroke="#222" stroke-width="0.05">o1</text>
<line x1="55.1" y1="578.8" x2="240.5" y2="578.8" stroke="rgba(205,205,205,0.58)" stroke-width="0.9" stroke-dasharray="3.1 2.67"/>
<text x="243.6" y="581.2" font-size="7.0" fill="#222" stroke="#222" stroke-width="0.05">o2</text>
<line x1="55.1" y1="585.2" x2="240.5" y2="585.2" stroke="rgba(205,205,205,0.58)" stroke-width="0.9" stroke-dasharray="3.1 2.67"/>
<text x="243.6" y="587.6" font-size="7.0" fill="#222" stroke="#222" stroke-width="0.05">o3</text>
<line x1="55.1" y1="605" x2="240.5" y2="605" stroke="rgba(205,205,205,0.58)" stroke-width="0.9" stroke-dasharray="3.1 2.67"/>
<text x="243.6" y="607.4" font-size="7.0" fill="#222" stroke="#222" stroke-width="0.05">c</text>
<line x1="55.1" y1="611.4" x2="240.5" y2="611.4" stroke="rgba(205,205,205,0.58)" stroke-width="0.9" stroke-dasharray="3.1 2.67"/>
<text x="243.6" y="613.8" font-size="7.0" fill="#222" stroke="#222" stroke-width="0.05">o1</text>
<line x1="55.1" y1="617.8" x2="240.5" y2="617.8" stroke="rgba(205,205,205,0.58)" stroke-width="0.9" stroke-dasharray="3.1 2.67"/>
<text x="243.6" y="620.2" font-size="7.0" fill="#222" stroke="#222" stroke-width="0.05">o2</text>
<line x1="55.1" y1="624.2" x2="240.5" y2="624.2" stroke="rgba(205,205,205,0.58)" stroke-width="0.9" stroke-dasharray="3.1 2.67"/>
<text x="243.6" y="626.6" font-size="7.0" fill="#222" stroke="#222" stroke-width="0.05">o3</text>
<line x1="55.1" y1="630.6" x2="240.5" y2="630.6" stroke="rgba(205,205,205,0.58)" stroke-width="0.9" stroke-dasharray="3.1 2.67"/>
<text x="243.6" y="633" font-size="7.0" fill="#222" stroke="#222" stroke-width="0.05">o4</text>
<line x1="55.1" y1="645.2" x2="240.5" y2="645.2" stroke="rgba(205,205,205,0.58)" stroke-width="0.9" stroke-dasharray="3.1 2.67"/>
<text x="243.6" y="647.6" font-size="7.0" fill="#222" stroke="#222" stroke-width="0.05">c</text>
<line x1="55.1" y1="651.6" x2="240.5" y2="651.6" stroke="rgba(205,205,205,0.58)" stroke-width="0.9" stroke-dasharray="3.1 2.67"/>
<text x="243.6" y="654" font-size="7.0" fill="#222" stroke="#222" stroke-width="0.05">o1</text>
<line x1="55.1" y1="658" x2="240.5" y2="658" stroke="rgba(205,205,205,0.58)" stroke-width="0.9" stroke-dasharray="3.1 2.67"/>
<text x="243.6" y="660.4" font-size="7.0" fill="#222" stroke="#222" stroke-width="0.05">o2</text>
<line x1="55.1" y1="664.4" x2="240.5" y2="664.4" stroke="rgba(205,205,205,0.58)" stroke-width="0.9" stroke-dasharray="3.1 2.67"/>
<text x="243.6" y="666.8" font-size="7.0" fill="#222" stroke="#222" stroke-width="0.05">o3</text>
<line x1="55.1" y1="670.8" x2="240.5" y2="670.8" stroke="rgba(205,205,205,0.58)" stroke-width="0.9" stroke-dasharray="3.1 2.67"/>
<text x="243.6" y="673.2" font-size="7.0" fill="#222" stroke="#222" stroke-width="0.05">o4</text>
<path d="M216.3 674.8V681.5H231.5" fill="none" stroke="#2a2a2a" stroke-width="1"/>
<text x="212.7" y="680.4" font-size="7" fill="#222" stroke="#222" stroke-width="0.16" text-anchor="end" textLength="12.4" lengthAdjust="spacingAndGlyphs">2pA</text>
<text x="221.4" y="689.9" font-size="7" fill="#222" stroke="#222" stroke-width="0.16" textLength="6.0" lengthAdjust="spacingAndGlyphs">1s</text>
<path d="M55 691.6H59.2V704.5H62.7V691.6H239.8" fill="none" stroke="#2a2a2a" stroke-width="1"/>
<line x1="59.2" y1="698.5" x2="62.7" y2="698.5" stroke="#555" stroke-width="0.6"/>
<line x1="59.2" y1="700.7" x2="62.7" y2="700.7" stroke="#555" stroke-width="0.6"/>
<line x1="59.2" y1="702.7" x2="62.7" y2="702.7" stroke="#555" stroke-width="0.6"/>
<text x="51.2" y="694" font-size="7" fill="#222" stroke="#222" stroke-width="0.16" text-anchor="end">0</text>
<text x="68.7" y="704.2" font-size="7.4" fill="#222" stroke="#222" stroke-width="0.16" textLength="76.1" lengthAdjust="spacingAndGlyphs">Pressure (-70, -80 or -90)</text>
<text x="311" y="569.8" font-size="7.6" fill="#222" stroke="#222" stroke-width="0.16" text-anchor="end" textLength="31.0" lengthAdjust="spacingAndGlyphs">-70mmHg</text>
<text x="311" y="604.8" font-size="7.6" fill="#222" stroke="#222" stroke-width="0.16" text-anchor="end" textLength="31.0" lengthAdjust="spacingAndGlyphs">-80mmHg</text>
<text x="311" y="639.8" font-size="7.6" fill="#222" stroke="#222" stroke-width="0.16" text-anchor="end" textLength="31.0" lengthAdjust="spacingAndGlyphs">-90mmHg</text>
<path d="M314.8 562.9V571.3M315.3 563.4V571.6M315.8 564V571.3M316.3 564.4V571.2M316.8 564.4V570.9M317.3 563.4V571.6M317.8 563V571.7M318.3 563.4V571.4M318.8 563.3V570.6M319.3 563.7V570.2M319.8 565.6V570.8M320.3 568.3V572.8M320.8 569.4V574.2M321.3 570.4V574.8M321.8 570.7V574.5M322.3 569.5V573.8M322.8 566.9V573.3M323.3 562.9V571.1M323.8 562.5V571.4M324.3 563V570.9M324.8 563.5V571M325.3 563.7V571.5M325.8 564.3V572M326.3 564.7V571.9M326.8 564.7V571.8M327.3 564.3V572M327.8 563.7V572.1M328.3 563.5V571.6M328.8 563.6V571.4M329.3 564.2V571.9M329.8 563.1V572.3M330.3 562.8V572.6M330.8 562.7V572.9M331.3 563.9V572.6M331.8 563.6V571.7M332.3 563.4V571.3M332.8 563.6V571.8M333.3 564.3V571.6M333.8 564.6V571.8M334.3 564.4V571.4M334.8 563.4V571.3M335.3 563V570.5M335.8 562.6V571.2M336.3 563.2V571.8M336.8 563V571.6M337.3 563.8V570.6M337.8 563.9V570.3M338.3 563.8V570.6M338.8 563V570.4M339.3 563.1V570M339.8 563.6V570.4M340.3 564.4V571.3M340.8 563.7V571.6M341.3 563.2V571.1M341.8 563.2V570.7M342.3 564.1V571.2M342.8 564.3V571.8M343.3 564V571.7M343.8 563.5V571.4M344.3 563.4V571.7M344.8 563.6V571.9M345.3 564V571.7M345.8 563.6V571.6M346.3 563.6V571.9M346.8 564V571.6M347.3 564.5V571.6M347.8 564.2V571.4M348.3 563.7V571.2M348.8 562.4V570.8M349.3 562.9V570.8M349.8 563.5V570.8M350.3 564.2V570.9M350.8 563.5V571M351.3 563.5V571.6M351.8 563.1V570.9M352.3 562.9V570.4M352.8 563.2V571.2M353.3 563.9V572.8M353.8 564.1V572.5M354.3 563.9V571.3M354.8 563.9V570.9M355.3 564.3V571.1M355.8 564V571.3M356.3 563.6V570.8M356.8 563.3V570.4M357.3 564V570.2M357.8 563.8V571.5M358.3 563.9V572.5M358.8 563.6V573M359.3 563.8V572.2M359.8 563.6V571.7M360.3 564V571.2M360.8 563.9V570.8M361.3 563.8V570.4M361.8 563.2V570.1M362.3 563V570.6M362.8 562.6V571.2M363.3 563.2V571.3M363.8 563.6V570.7M364.3 563.3V570.2M364.8 562.8V570.5M365.3 563.2V570.7M365.8 563.6V571.2M366.3 563.4V570.9M366.8 563.3V570.8M367.3 563.9V570.6M367.8 564.6V571.3M368.3 564.7V571.6M368.8 564.4V572M369.3 564.4V571.3M369.8 564.3V570.8M370.3 564.1V570M370.8 563.8V570.3M371.3 564V570.6M371.8 564V571.3M372.3 563.3V571.4M372.8 563.2V571.4M373.3 563.5V571.4M373.8 564.3V571.1M374.3 564.4V570.7M374.8 564.5V570.7M375.3 563.5V570.8M375.8 563.2V570.7M376.3 562.8V570.9M376.8 563V571.4M377.3 563.2V571.6M377.8 564.1V571.5M378.3 564.4V571.3M378.8 564V571.1M379.3 563.7V570.7M379.8 563.7V571M380.3 564.3V571.1M380.8 564.5V571.2M381.3 564.3V571.7M381.8 563.3V572.1M382.3 562.4V571.9M382.8 562.2V571M383.3 562.8V570.7M383.8 563.5V570.9M384.3 563.9V571.2M384.8 564.2V571M385.3 564V571M385.8 564V571.6M386.3 564V571.6M386.8 564.5V571.2M387.3 563.8V571.7M387.8 563.6V571.7M388.3 563.9V571.3M388.8 563.7V570.7M389.3 563.3V571.1M389.8 563.6V571.7M390.3 563.9V571.6M390.8 563.8V571.6M391.3 563.6V571.7M391.8 563.8V572.6M392.3 563.4V572.2M392.8 563.4V571.8M393.3 563.2V571.3M393.8 563.6V571.5M394.3 563.2V571M394.8 562.3V571.6M395.3 562.2V571.6M395.8 563.2V572.8M396.3 564.1V573.2M396.8 563.9V573.1M397.3 563.8V572.3M397.8 563.8V572.5M398.3 563.8V572.3M398.8 563.9V571.2M399.3 564.3V570.6M399.8 564.6V570.2M400.3 564.8V570.5M400.8 564.5V570.6M401.3 564.6V570.9M401.8 564.6V571.1M402.3 564.7V570.8M402.8 564.3V570.5M403.3 563.8V570.3M403.8 563.7V571M404.3 563.8V571.8M404.8 564.2V572.5M405.3 564.2V572.5M405.8 563.7V571.9M406.3 563.5V571.3M406.8 563.7V571.5M407.3 563.6V571.4M407.8 563.3V571.4M408.3 563.1V570.8M408.8 563.3V571.1M409.3 563.5V570.7M409.8 564.2V571M410.3 564.2V570.8M410.8 564.1V571M411.3 562.8V571M411.8 562.9V571.5M412.3 563V571.4M412.8 564.2V571.1M413.3 564.3V570.6M413.8 564.2V571M414.3 563.8V571.2M414.8 563.7V571.6M415.3 564.2V571.5M415.8 564V571.5M416.3 563.5V571.5M416.8 563.5V571.5M417.3 563.2V571.6M417.8 563V571.1M418.3 562.6V570.9M418.8 563V570.4M419.3 562.3V571M419.8 562.1V571.3M420.3 562.6V571.8M420.8 563.8V571.1M421.3 564.6V570.3M421.8 564.4V569.9M422.3 563.8V570.4M422.8 563.5V571.2M423.3 563.4V572M423.8 563.3V572.1M424.3 563.1V572M424.8 563.1V572.1M425.3 563.5V572.5M425.8 564V572.4M426.3 564.4V572M426.8 564.2V571.8M427.3 564.4V572M427.8 564.5V572.1M428.3 564.7V572M428.8 564V571.4M429.3 563.6V571.3M429.8 563.6V571.4M430.3 563.5V571.6M430.8 562.5V571.5M431.3 562.8V571.3M431.8 563.5V571.1M432.3 564.2V571.5M432.8 563.2V572.2M433.3 562.7V572.5M433.8 562.7V572.1M434.3 562.9V572.3M434.8 562.9V572.2M435.3 563V571.7M435.8 563.1V570.5M436.3 562.1V570.5M436.8 562V570.2M437.3 563.2V570.4M437.8 564.6V570.6M438.3 564.7V570.7M438.8 564.3V571.1M439.3 564.2V571.2M439.8 564.3V571.1M440.3 564.5V570.7M440.8 564.3V571.1M441.3 564.2V571.5M441.8 564.1V571.5M442.3 563.2V571.7M442.8 562.9V572.2M443.3 562.7V572.6M443.8 563.1V572.7M444.3 562.9V572M444.8 563.3V571.4M445.3 563.4V570.8M445.8 564.1V571.5M446.3 564.4V571.6M446.8 563.6V571.5M447.3 563V570.8M447.8 563.2V570.9M448.3 564.2V571.3M448.8 563.9V571.6M449.3 563.4V571.3M449.8 563.3V571.2M450.3 564V571.6M450.8 564.4V572.9M451.3 563.8V573.1M451.8 563.8V572.6M452.3 564V572M452.8 564.2V571.9M453.3 564V571.6M453.8 564.2V570.7M454.3 564.3V570.6M454.8 564.1V571.5M455.3 563.9V571.7M455.8 563.6V571.2M456.3 563.7V570.1M456.8 563.6V570M457.3 563.8V571.2M457.8 563.7V572.1M458.3 564.2V572M458.8 563.5V571M459.3 563.4V570.9M459.8 563.3V571.3M460.3 563.6V571.3M460.8 563.8V571.8M461.3 563.9V572M461.8 563.2V572.5M462.3 562.3V571.7M462.8 562.8V570.9M463.3 563.7V570.4M463.8 562.9V571M464.3 562.2V571.7M464.8 562.4V571.9M465.3 563.7V571.4M465.8 563.4V571.2M466.3 563.2V571.2M466.8 563.3V571.1M467.3 564.4V571M467.8 563.8V571.8M468.3 563.2V571.8M468.8 561.6V572.1M469.3 562.4V571.6M469.8 563.8V571.8M470.3 565.3V571.3M470.8 564.4V570.8M471.3 563.8V570.2M471.8 564.1V570.7M472.3 564.8V571.7M472.8 565.1V572.2M473.3 564.6V572M473.8 564.2V572M474.3 563.8V572M474.8 563.6V571.4M475.3 564.1V570.9M475.8 564.1V571M476.3 564.1V571.5M476.8 563.9V571.7M477.3 563.5V571.8M477.8 562.5V571.5M478.3 562.8V570.9M478.8 562.7V570.3M479.3 563.1V570.5M479.8 563.5V570.9M480.3 564.7V571.5M480.8 564.5V571.5M481.3 564.1V571.2M481.8 564.3V570.5M482.3 564.6V571M482.8 564.9V571.5M483.3 564V571.9M483.8 563.9V571.3M484.3 563.6V571.7M484.8 563.2V571.8M485.3 562.9V572M485.8 563.1V571.7M486.3 563.5V572.1M486.8 563.2V572.2M487.3 563V572.2M487.8 563.2V571.7M488.3 563.5V571.4M488.8 562.5V570.6M489.3 561.5V570.5M489.8 562V570.5M490.3 563.1V570.9M490.8 563V571.5M491.3 563.1V571.9M491.8 563.7V572M492.3 563.6V572M492.8 563.5V571.8M493.3 563.1V571M493.8 563.2V570.5M494.3 563.6V570.8M494.8 564.6V571.2M495.3 564.5V571.8M495.8 563.6V571.9M496.3 563.2V571.9M496.8 562.1V571.4M497.3 562.2V570.9M497.8 562.6V570.3M498.3 563.4V570.4M498.8 562.5V570.9M499.3 562.7V571.4M499.8 563.3V571.6" fill="none" stroke="#a2042e" stroke-width="1.0"/>
<path d="M314.8 599.4V605.9M315.3 599.1V607.1M315.8 599.1V607.6M316.3 599.1V607.1M316.8 599.6V607.1M317.3 600V607.7M317.8 600.3V607.7M318.3 600.1V607.3M318.8 599.8V606.6M319.3 599.8V606.1M319.8 601.1V606.4M320.3 604V608.4M320.8 606.1V609.9M321.3 607.2V611.1M321.8 606.8V611M322.3 605.6V609.9M322.8 603.6V608.3M323.3 600.2V606.4M323.8 599.3V607.2M324.3 599.5V607.5M324.8 598.8V606.8M325.3 598.6V606.7M325.8 598.6V606.3M326.3 599.4V606.7M326.8 599.4V606.4M327.3 599V606.4M327.8 599.2V606.5M328.3 598.6V606.5M328.8 598.8V606.7M329.3 598.4V606.3M329.8 598.9V606.2M330.3 599.1V605.6M330.8 599.8V606M331.3 599.8V606.1M331.8 599.9V605.9M332.3 599.3V606.2M332.8 598.7V606.6M333.3 598.2V607.2M333.8 598.5V606.9M334.3 598.7V606.5M334.8 599.3V607.3M335.3 599.2V607.6M335.8 599.1V607.9M336.3 599.4V607M336.8 600.2V607.1M337.3 600.4V606.6M337.8 599.9V606.6M338.3 599.7V606.9M338.8 599.4V607.1M339.3 598.4V607.1M339.8 597.8V606.7M340.3 598.1V606.9M340.8 598.3V608.2M341.3 598.8V609M341.8 598.5V608.5M342.3 598.5V607.3M342.8 598.3V607M343.3 599.3V607.1M343.8 599.5V606.6M344.3 599.3V606.2M344.8 598.6V605.9M345.3 598.3V606.2M345.8 598.6V606.3M346.3 598.5V606.5M346.8 598.5V606.8M347.3 599.3V607.2M347.8 599.7V607.1M348.3 599.2V606.5M348.8 598.8V607.1M349.3 598.8V607.5M349.8 598.9V607.7M350.3 598.6V607M350.8 598.2V606.4M351.3 597.7V605.9M351.8 598.5V606.2M352.3 599V607.1M352.8 599.4V607.5M353.3 598.5V606.7M353.8 598.5V606.4M354.3 599.2V606.3M354.8 599.9V606.2M355.3 599.3V605.9M355.8 598.3V606.8M356.3 598.8V607.6M356.8 599.6V607.8M357.3 599.6V606.8M357.8 599.1V606.6M358.3 598V606.9M358.8 598.1V607.1M359.3 598.8V606.9M359.8 600V606.8M360.3 599.4V606.8M360.8 598.8V606.5M361.3 598.7V606.6M361.8 599.5V607.4M362.3 599.6V607.5M362.8 600.2V607.1M363.3 600.4V606.3M363.8 600.8V606.5M364.3 599.9V607.2M364.8 599.6V607.4M365.3 599.5V606.9M365.8 600.2V606.2M366.3 600.4V606.2M366.8 600V606.4M367.3 599.4V606.2M367.8 599.3V606.2M368.3 599.3V606.4M368.8 598.9V606.2M369.3 599.2V605.8M369.8 599.4V605.6M370.3 599.7V606.6M370.8 599.2V607.1M371.3 599.2V607.5M371.8 599V607.1M372.3 599.5V606.8M372.8 599.8V606.9M373.3 599.5V606.8M373.8 599.8V606.8M374.3 600.3V606.9M374.8 599.7V607.4M375.3 598.4V607.9M375.8 598.1V607.1M376.3 598.6V607.3M376.8 598.3V606.9M377.3 598.4V607.6M377.8 598.8V606.9M378.3 599V606.5M378.8 598.3V605.3M379.3 598.5V605.7M379.8 599.8V607M380.3 600.6V607.8M380.8 600.5V607.5M381.3 599.7V607M381.8 599.3V606.9M382.3 599.4V607.1M382.8 599.8V607.6M383.3 599.5V607.2M383.8 598.7V606.2M384.3 598.8V605.3M384.8 599.2V606.4M385.3 600.1V606.6M385.8 600.4V606.5M386.3 600.7V605.9M386.8 600.4V606.5M387.3 599.7V606.7M387.8 598.2V606.4M388.3 597.9V606.2M388.8 598.5V606.8M389.3 599.4V607.5M389.8 599.8V607.5M390.3 600.2V606.6M390.8 599.5V606.1M391.3 598.8V606.2M391.8 598.9V606.4M392.3 599.6V606.2M392.8 599.5V606.1M393.3 599.5V606.1M393.8 599.6V606.4M394.3 600.1V606.7M394.8 599.7V607M395.3 598.6V606.5M395.8 598.8V606.7M396.3 600.2V606.7M396.8 600.9V606.9M397.3 600V607.3M397.8 598.9V607.4M398.3 599.1V607.2M398.8 599.4V607M399.3 599.2V607.5M399.8 598.9V607.4M400.3 599.1V607.1M400.8 599.4V606.2M401.3 598.6V605.8M401.8 598.4V606.5M402.3 599.1V607.7M402.8 598.6V607.7M403.3 598.1V607.1M403.8 598V606.7M404.3 599.2V606.8M404.8 599.3V607.5M405.3 599.4V607.2M405.8 599V606.8M406.3 599.1V606.4M406.8 599.1V606.5M407.3 599.5V605.8M407.8 599V605.4M408.3 599V605.8M408.8 598.8V606.4M409.3 599.5V606.9M409.8 599.9V607M410.3 599.6V606.5M410.8 598.5V605.9M411.3 598.6V606M411.8 598.8V606.6M412.3 598.9V606.7M412.8 598.5V606.3M413.3 598.7V606.3M413.8 598.2V607.4M414.3 598.3V608.1M414.8 598.3V607.6M415.3 598.5V606.7M415.8 598.4V606.6M416.3 598.7V606.6M416.8 599.7V606.5M417.3 599.9V606.3M417.8 599.5V606.5M418.3 599V606.8M418.8 599.1V606.9M419.3 599.2V607.5M419.8 599.5V608.1M420.3 599.8V607.8M420.8 599.3V607M421.3 598.9V606.7M421.8 598.5V606.6M422.3 598.2V606.5M422.8 598.5V607M423.3 599.3V607.2M423.8 599.8V606.9M424.3 600V606.4M424.8 599.8V606.2M425.3 598.9V607M425.8 598.5V608M426.3 599V608.5M426.8 599.5V607.4M427.3 599.4V607M427.8 599.3V606.8M428.3 599.5V607.4M428.8 598.6V606.3M429.3 598.2V606.5M429.8 598.8V606.9M430.3 600.2V607.6M430.8 600.2V606.6M431.3 599.6V606.2M431.8 598.9V606.1M432.3 598.7V606.8M432.8 599.1V606.9M433.3 599.1V606.8M433.8 598.7V606.4M434.3 598.5V607.3M434.8 599.3V607.7M435.3 598.8V607.4M435.8 598.1V607.2M436.3 597.7V607.1M436.8 598.5V607.6M437.3 599.3V607.5M437.8 598.9V607.2M438.3 598.6V606.6M438.8 599V606.6M439.3 599.5V606.9M439.8 599.4V606.8M440.3 599.2V607.2M440.8 599.3V607.1M441.3 599.3V606.7M441.8 599.3V606.9M442.3 599.5V607.2M442.8 599.3V607.1M443.3 599.5V607.1M443.8 599.3V606.9M444.3 599.6V607.1M444.8 599.7V607.4M445.3 599.3V609.3M445.8 598.7V609M446.3 597.6V608.1M446.8 598.3V607.1M447.3 599V607M447.8 600V607.1M448.3 599V607.3M448.8 598.2V607.6M449.3 598.3V607.8M449.8 599.4V607.7M450.3 600.4V607M450.8 599.9V606.3M451.3 599.7V606.6M451.8 599.4V606.5M452.3 599V606.5M452.8 598.7V606.6M453.3 599.1V607.4M453.8 599.4V607.8M454.3 599V607.8M454.8 598.8V606.9M455.3 599.2V606.1M455.8 599.3V606.3M456.3 599.4V606.5M456.8 599.6V606M457.3 599.9V605.9M457.8 599.3V606.4M458.3 598.9V607.2M458.8 598.9V607M459.3 599.4V607.2M459.8 599.4V606.9M460.3 599.7V607M460.8 599.7V606.9M461.3 599.5V606.9M461.8 599.5V606.7M462.3 599.6V606.6M462.8 599.7V607.1M463.3 599.4V607.8M463.8 599.4V608.1M464.3 598.5V607.3M464.8 598.4V606.7M465.3 598.6V606.5M465.8 599V606.4M466.3 599.1V606.4M466.8 599.4V606.4M467.3 599.8V606.7M467.8 600V606.7M468.3 600.3V607.3M468.8 600V606.7M469.3 599.3V606.1M469.8 599.3V606.2M470.3 599.6V607.4M470.8 599.7V607.6M471.3 598.7V606.9M471.8 598.4V606.6M472.3 599V607.4M472.8 600.1V607.7M473.3 599.8V606.9M473.8 599.6V605.8M474.3 599.3V605.8M474.8 599.2V606.2M475.3 598.8V606.3M475.8 598.6V606.4M476.3 598.5V606.9M476.8 598.9V607.5M477.3 598.7V608.5M477.8 598.6V608.2M478.3 598.4V607.1M478.8 599.1V606.1M479.3 599.1V607M479.8 599.5V607.4M480.3 599.6V607M480.8 599.8V606.8M481.3 599.7V606.9M481.8 599.7V607.1M482.3 599.6V606.5M482.8 599.6V606.7M483.3 599.3V606.8M483.8 599V607.1M484.3 598.8V606.6M484.8 598.7V606.7M485.3 598.8V607.1M485.8 598.9V606.9M486.3 599.1V606.2M486.8 598.7V605.5M487.3 599.1V606.1M487.8 599.8V607M488.3 600.7V607.6M488.8 600.7V606.9M489.3 600.5V606M489.8 599.6V605.6M490.3 599.1V605.9M490.8 599V606.4M491.3 599.7V606.7M491.8 599.7V606.4M492.3 599.5V605.8M492.8 598.7V606.3M493.3 598V607.4M493.8 598.5V608.1M494.3 599V607.8M494.8 599.8V607.8M495.3 600V608M495.8 600.1V607.5M496.3 598.3V607.2M496.8 597.5V607.4M497.3 598.4V607.5M497.8 599.9V606.7M498.3 599.5V606.3M498.8 599.1V606.7M499.3 598.9V607M499.8 598.7V607" fill="none" stroke="#a2042e" stroke-width="1.0"/>
<path d="M314.8 634V641.9M315.3 633.5V641.5M315.8 633.7V641.4M316.3 634.5V642.2M316.8 634.9V643.4M317.3 634.5V643.6M317.8 634.5V642.3M318.3 634.6V641.5M318.8 634.5V642.8M319.3 634.7V642.8M319.8 636.3V642.7M320.3 639.3V644M320.8 641.5V646.7M321.3 642.8V648.1M321.8 642.5V647.7M322.3 641.3V646M322.8 639V644.3M323.3 635V642.3M323.8 634.7V643.1M324.3 634.9V642.2M324.8 635.3V641.3M325.3 635.2V641.8M325.8 634.8V642.9M326.3 634.7V643.2M326.8 635.1V642.9M327.3 634.9V642.2M327.8 634.6V642M328.3 635V641.9M328.8 635V641.8M329.3 634.8V641.9M329.8 635V642.7M330.3 635.2V643.2M330.8 634.7V642.2M331.3 634.4V641.1M331.8 634.7V640.9M332.3 635.1V641.9M332.8 634.9V641.9M333.3 634.5V641M333.8 634.6V641.3M334.3 634.7V642.6M334.8 634.9V642.9M335.3 634.2V642.2M335.8 634.2V641.6M336.3 634.6V642.3M336.8 634.9V642.4M337.3 634.4V642.5M337.8 633.8V641.7M338.3 634.3V641.7M338.8 634.2V641.6M339.3 634.1V641.6M339.8 633.4V641.6M340.3 634.1V641.6M340.8 634.7V641.8M341.3 634.7V642.1M341.8 634V641.9M342.3 633.6V641.7M342.8 633.8V641.5M343.3 633.7V641.6M343.8 634.4V641.9M344.3 634.2V642.6M344.8 634.2V642.5M345.3 634.2V642M345.8 634.9V641.8M346.3 634.8V642.6M346.8 634.4V643.2M347.3 634.3V642.9M347.8 634.5V641.9M348.3 634.6V641.1M348.8 633.6V640.8M349.3 633.6V640.7M349.8 633.8V641M350.3 634V641.3M350.8 634.3V641.8M351.3 634.4V641.8M351.8 634.3V641.3M352.3 633.6V641M352.8 633.4V641.4M353.3 632.7V641.5M353.8 632.6V641.6M354.3 633.1V642.4M354.8 633.8V643.3M355.3 633.9V643.4M355.8 633.7V643.1M356.3 633.6V643.3M356.8 634.3V642.9M357.3 634.9V642.8M357.8 635V643.3M358.3 634.5V644.1M358.8 634.3V643.3M359.3 634.9V641.8M359.8 634.9V641.1M360.3 634.6V641.6M360.8 633.9V641.8M361.3 633.9V642.1M361.8 633.9V642M362.3 633.6V641.6M362.8 633.8V641.3M363.3 633.9V641.7M363.8 634.4V642.5M364.3 634.7V642.4M364.8 634.9V641.7M365.3 634.9V641.4M365.8 634.8V642.3M366.3 634.6V643.1M366.8 633.6V642.5M367.3 633.5V642.8M367.8 633.8V642.9M368.3 633.6V643.4M368.8 632.5V642.6M369.3 633.1V642.2M369.8 634.3V641.5M370.3 635V641.8M370.8 634.8V641.8M371.3 635.1V641.9M371.8 634.9V641.4M372.3 635.3V641.5M372.8 635.3V641.7M373.3 635.6V642.3M373.8 635.3V641.8M374.3 635V641.8M374.8 634.9V641.8M375.3 635V642.1M375.8 635V642.1M376.3 634.4V642.1M376.8 634.2V642.1M377.3 634.1V641.9M377.8 634.2V642M378.3 634.3V641.5M378.8 634.4V641.8M379.3 634.1V642.2M379.8 634.1V642.3M380.3 634.7V641.8M380.8 634.9V641.7M381.3 635V641.9M381.8 634.7V641.3M382.3 634.2V642.3M382.8 633.4V643.2M383.3 632.9V643M383.8 633.2V641.9M384.3 634V641.4M384.8 635V641.8M385.3 635.2V641.4M385.8 635.3V641.2M386.3 635.3V641.8M386.8 635.1V642.4M387.3 634.5V643M387.8 634.5V642.9M388.3 634.5V643.1M388.8 634.6V642.8M389.3 634.2V642M389.8 634.4V641.3M390.3 634.4V641.2M390.8 634.1V642M391.3 634V642.1M391.8 634.5V642.5M392.3 634.6V642.3M392.8 634.7V641.8M393.3 634.4V641.6M393.8 634.4V641.5M394.3 634V641.3M394.8 634.2V640.9M395.3 634.5V641.5M395.8 633.9V641.6M396.3 633.3V641.4M396.8 633.1V641.7M397.3 633.5V642.4M397.8 633.9V643M398.3 634.4V642.4M398.8 634.9V642.2M399.3 635V641.9M399.8 635.2V641.9M400.3 635.1V641.5M400.8 634.5V641.4M401.3 634V641.8M401.8 634.8V641.7M402.3 635.1V641.2M402.8 634.5V641.1M403.3 634V641.4M403.8 634V641.8M404.3 634V641.8M404.8 634V641.6M405.3 634V642M405.8 634V641.9M406.3 633.1V642.3M406.8 633V642.3M407.3 633.2V642.3M407.8 633.9V641.8M408.3 634.5V641.9M408.8 634.3V642.4M409.3 634.5V641.9M409.8 634.5V640.9M410.3 635V640.6M410.8 635V641.3M411.3 635V642M411.8 634.9V642.1M412.3 634.6V642.1M412.8 634.7V642M413.3 634.9V641.5M413.8 634.4V640.9M414.3 634.4V640.9M414.8 634.3V640.7M415.3 634.4V641.9M415.8 634.5V642.7M416.3 634.3V643.1M416.8 634.1V642.2M417.3 634.3V642.6M417.8 634.8V643.2M418.3 634.7V642.7M418.8 633.8V641.6M419.3 633.7V641.2M419.8 634.1V641.4M420.3 635V641.3M420.8 634.4V641.6M421.3 633.7V641.5M421.8 633.4V641.6M422.3 633.3V640.9M422.8 633.3V641.4M423.3 633.8V641.6M423.8 634.3V642M424.3 634.5V641.6M424.8 634.6V642M425.3 635V642M425.8 634.3V642M426.3 634.5V641.9M426.8 634.3V642.5M427.3 634.4V642.7M427.8 634.6V642.8M428.3 635V642.7M428.8 634.2V642.4M429.3 634.1V642.3M429.8 635.1V642.1M430.3 635.3V642.1M430.8 634.6V641.9M431.3 633.9V641.8M431.8 634.1V641.9M432.3 633.6V642M432.8 633.8V642.4M433.3 633.8V642.4M433.8 634.4V642.1M434.3 634.9V641.3M434.8 635.3V641.5M435.3 634.9V642.2M435.8 635V642.9M436.3 635.1V642.5M436.8 635.1V642M437.3 634.5V641.6M437.8 634.4V641.6M438.3 634.7V641.9M438.8 635.2V641.9M439.3 635V641.6M439.8 634.7V641.6M440.3 634.6V642.6M440.8 634.1V642.9M441.3 634.1V642.7M441.8 633.8V641.9M442.3 634.3V641.3M442.8 634.2V640.9M443.3 634.7V641.3M443.8 634.4V641.7M444.3 634.4V642.2M444.8 633.9V642.4M445.3 634.1V642M445.8 633.6V641.5M446.3 633.4V641.6M446.8 633.6V642.3M447.3 634.5V641.9M447.8 634.5V642.2M448.3 634.4V642M448.8 633.9V642.1M449.3 633.8V641.5M449.8 633.8V641.5M450.3 634.4V642.3M450.8 634.3V642.2M451.3 634V642.5M451.8 634V642M452.3 634.2V642.3M452.8 634.3V642M453.3 634.2V642M453.8 633.8V641.8M454.3 633.3V641.8M454.8 633.6V642.3M455.3 634.1V642.5M455.8 634.7V642M456.3 635.3V641.5M456.8 635.9V641.9M457.3 636V642.5M457.8 634.6V642M458.3 633.6V641M458.8 633.9V641.1M459.3 634.4V641.8M459.8 634.7V642.2M460.3 634.5V641.9M460.8 634.7V641.7M461.3 634.7V642.7M461.8 634.7V643M462.3 634.3V643.1M462.8 633.9V641.9M463.3 634V641.7M463.8 634V641M464.3 634.2V641.4M464.8 634.5V641.7M465.3 634.9V642.1M465.8 635V641.8M466.3 634.7V641.9M466.8 634.7V642M467.3 634.2V641.7M467.8 633.9V641.3M468.3 633.5V641.4M468.8 634.2V642.1M469.3 634.7V642.2M469.8 635V642.2M470.3 634.3V641.8M470.8 634.7V641.9M471.3 635.2V641.7M471.8 635.4V641.9M472.3 634.2V642.4M472.8 633.7V642.8M473.3 634V642.9M473.8 634.2V641.9M474.3 633.7V641.3M474.8 633.7V641M475.3 634.4V641.7M475.8 634.9V642.1M476.3 634.5V641.7M476.8 634.5V641.5M477.3 634.2V641.2M477.8 633.4V642M478.3 632.9V642.2M478.8 633.6V642.4M479.3 634.2V642.3M479.8 633.7V642.5M480.3 633.7V642.7M480.8 634.1V642.4M481.3 634.6V642.7M481.8 634.4V642.6M482.3 633.9V642.7M482.8 633.5V641.8M483.3 634.1V641.3M483.8 634.7V640.9M484.3 634.9V641.5M484.8 635V641.6M485.3 635V641.9M485.8 634.8V642.1M486.3 634.4V642M486.8 634.3V642M487.3 634.3V641.6M487.8 633.5V641.3M488.3 632.4V640.9M488.8 632.5V641.3M489.3 634V641.4M489.8 635.1V641.1M490.3 635.3V641M490.8 635.2V641M491.3 634.8V640.9M491.8 634.4V640.8M492.3 634.7V641.6M492.8 635.4V642M493.3 634.6V642M493.8 633.6V641.9M494.3 633.5V642M494.8 634V641.8M495.3 634.1V642M495.8 634V642.5M496.3 634.1V642.6M496.8 634V642.5M497.3 633.8V641.9M497.8 634V641.8M498.3 634.3V641.5M498.8 634.3V641.4M499.3 634.5V641.6M499.8 634.9V642" fill="none" stroke="#a2042e" stroke-width="1.0"/>
<rect x="320" y="560" width="2.8" height="119.8" fill="rgba(218,218,222,0.62)"/>
<line x1="315.3" y1="567.5" x2="506" y2="567.5" stroke="rgba(205,205,205,0.58)" stroke-width="0.9" stroke-dasharray="3.1 2.67"/>
<text x="509.3" y="569.9" font-size="7.0" fill="#222" stroke="#222" stroke-width="0.05">c</text>
<line x1="315.3" y1="603" x2="506" y2="603" stroke="rgba(205,205,205,0.58)" stroke-width="0.9" stroke-dasharray="3.1 2.67"/>
<text x="509.3" y="605.4" font-size="7.0" fill="#222" stroke="#222" stroke-width="0.05">c</text>
<line x1="315.3" y1="638.1" x2="506" y2="638.1" stroke="rgba(205,205,205,0.58)" stroke-width="0.9" stroke-dasharray="3.1 2.67"/>
<text x="509.3" y="640.5" font-size="7.0" fill="#222" stroke="#222" stroke-width="0.05">c</text>
<path d="M476.6 660.1V669.6H491.7" fill="none" stroke="#2a2a2a" stroke-width="1"/>
<text x="473" y="667.3" font-size="7" fill="#222" stroke="#222" stroke-width="0.16" text-anchor="end" textLength="12.4" lengthAdjust="spacingAndGlyphs">2pA</text>
<text x="481.7" y="678.1" font-size="7" fill="#222" stroke="#222" stroke-width="0.16" textLength="6.0" lengthAdjust="spacingAndGlyphs">1s</text>
<path d="M315 679.8H319.6V694.4H322.5V679.8H505.9" fill="none" stroke="#2a2a2a" stroke-width="1"/>
<line x1="319.6" y1="688.4" x2="322.5" y2="688.4" stroke="#555" stroke-width="0.6"/>
<line x1="319.6" y1="690.6" x2="322.5" y2="690.6" stroke="#555" stroke-width="0.6"/>
<line x1="319.6" y1="692.6" x2="322.5" y2="692.6" stroke="#555" stroke-width="0.6"/>
<text x="311.5" y="682.2" font-size="7" fill="#222" stroke="#222" stroke-width="0.16" text-anchor="end">0</text>
<text x="331.6" y="693.8" font-size="7.4" fill="#222" stroke="#222" stroke-width="0.16" textLength="74.7" lengthAdjust="spacingAndGlyphs">Pressure (-70, -80 or -90)</text>
<line x1="320.8" y1="9.5" x2="320.8" y2="161.6" stroke="#3a3a3a" stroke-width="1.25"/>
<line x1="317.8" y1="161.1" x2="320.8" y2="161.1" stroke="#2a2a2a" stroke-width="0.9"/>
<text x="313.6" y="163.7" font-size="7.4" fill="#222" stroke="#222" stroke-width="0.16" text-anchor="end" textLength="3.9" lengthAdjust="spacingAndGlyphs">0</text>
<line x1="319.3" y1="149.6" x2="320.8" y2="149.6" stroke="#2a2a2a" stroke-width="0.8"/>
<line x1="317.8" y1="138.2" x2="320.8" y2="138.2" stroke="#2a2a2a" stroke-width="0.9"/>
<text x="313.6" y="140.7" font-size="7.4" fill="#222" stroke="#222" stroke-width="0.16" text-anchor="end" textLength="14.8" lengthAdjust="spacingAndGlyphs">1000</text>
<line x1="319.3" y1="126.7" x2="320.8" y2="126.7" stroke="#2a2a2a" stroke-width="0.8"/>
<line x1="317.8" y1="115.2" x2="320.8" y2="115.2" stroke="#2a2a2a" stroke-width="0.9"/>
<text x="313.6" y="117.8" font-size="7.4" fill="#222" stroke="#222" stroke-width="0.16" text-anchor="end" textLength="14.8" lengthAdjust="spacingAndGlyphs">2000</text>
<line x1="319.3" y1="103.7" x2="320.8" y2="103.7" stroke="#2a2a2a" stroke-width="0.8"/>
<line x1="317.8" y1="92.2" x2="320.8" y2="92.2" stroke="#2a2a2a" stroke-width="0.9"/>
<text x="313.6" y="94.8" font-size="7.4" fill="#222" stroke="#222" stroke-width="0.16" text-anchor="end" textLength="14.8" lengthAdjust="spacingAndGlyphs">3000</text>
<line x1="319.3" y1="80.8" x2="320.8" y2="80.8" stroke="#2a2a2a" stroke-width="0.8"/>
<line x1="317.8" y1="69.3" x2="320.8" y2="69.3" stroke="#2a2a2a" stroke-width="0.9"/>
<text x="313.6" y="71.9" font-size="7.4" fill="#222" stroke="#222" stroke-width="0.16" text-anchor="end" textLength="14.8" lengthAdjust="spacingAndGlyphs">4000</text>
<line x1="319.3" y1="57.8" x2="320.8" y2="57.8" stroke="#2a2a2a" stroke-width="0.8"/>
<line x1="317.8" y1="46.3" x2="320.8" y2="46.3" stroke="#2a2a2a" stroke-width="0.9"/>
<text x="313.6" y="48.9" font-size="7.4" fill="#222" stroke="#222" stroke-width="0.16" text-anchor="end" textLength="14.8" lengthAdjust="spacingAndGlyphs">5000</text>
<line x1="319.3" y1="34.9" x2="320.8" y2="34.9" stroke="#2a2a2a" stroke-width="0.8"/>
<line x1="317.8" y1="23.4" x2="320.8" y2="23.4" stroke="#2a2a2a" stroke-width="0.9"/>
<text x="313.6" y="26" font-size="7.4" fill="#222" stroke="#222" stroke-width="0.16" text-anchor="end" textLength="14.8" lengthAdjust="spacingAndGlyphs">6000</text>
<line x1="319.3" y1="11.9" x2="320.8" y2="11.9" stroke="#2a2a2a" stroke-width="0.8"/>
<text x="315.8" y="14.5" font-size="7.2" fill="#222" stroke="#222" stroke-width="0.16" text-anchor="end">N</text>
<line x1="318.3" y1="161.1" x2="509.2" y2="161.1" stroke="#111" stroke-width="1.3"/>
<line x1="337.7" y1="161.1" x2="337.7" y2="163.7" stroke="#2a2a2a" stroke-width="0.9"/>
<text x="337.6" y="173.5" font-size="6.8" fill="#222" stroke="#222" stroke-width="0.16" text-anchor="middle">-4</text>
<line x1="354.5" y1="161.1" x2="354.5" y2="162.7" stroke="#2a2a2a" stroke-width="0.8"/>
<line x1="371.3" y1="161.1" x2="371.3" y2="163.7" stroke="#2a2a2a" stroke-width="0.9"/>
<text x="371.2" y="173.5" font-size="6.8" fill="#222" stroke="#222" stroke-width="0.16" text-anchor="middle">-3</text>
<line x1="388.1" y1="161.1" x2="388.1" y2="162.7" stroke="#2a2a2a" stroke-width="0.8"/>
<line x1="404.9" y1="161.1" x2="404.9" y2="163.7" stroke="#2a2a2a" stroke-width="0.9"/>
<text x="404.8" y="173.5" font-size="6.8" fill="#222" stroke="#222" stroke-width="0.16" text-anchor="middle">-2</text>
<line x1="421.7" y1="161.1" x2="421.7" y2="162.7" stroke="#2a2a2a" stroke-width="0.8"/>
<line x1="438.5" y1="161.1" x2="438.5" y2="163.7" stroke="#2a2a2a" stroke-width="0.9"/>
<text x="438.4" y="173.5" font-size="6.8" fill="#222" stroke="#222" stroke-width="0.16" text-anchor="middle">-1</text>
<line x1="455.3" y1="161.1" x2="455.3" y2="162.7" stroke="#2a2a2a" stroke-width="0.8"/>
<line x1="472.1" y1="161.1" x2="472.1" y2="163.7" stroke="#2a2a2a" stroke-width="0.9"/>
<text x="472.1" y="173.5" font-size="6.8" fill="#222" stroke="#222" stroke-width="0.16" text-anchor="middle">0</text>
<line x1="488.9" y1="161.1" x2="488.9" y2="162.7" stroke="#2a2a2a" stroke-width="0.8"/>
<line x1="505.7" y1="161.1" x2="505.7" y2="163.7" stroke="#2a2a2a" stroke-width="0.9"/>
<text x="505.7" y="173.5" font-size="6.8" fill="#222" stroke="#222" stroke-width="0.16" text-anchor="middle">1</text>
<text x="491" y="156.5" font-size="6.0" fill="#222" stroke="#222" stroke-width="0.16" textLength="12.0" lengthAdjust="spacingAndGlyphs">I(pA)</text>
<path d="M324 161.1 324.5 161 325 161.1 325.5 161 326 161.1 326.5 161.1 327 161 327.5 161.1 328 161.1 328.5 161.1 329 161 329.5 161.1 330 161.1 330.5 161.1 331 161.1 331.5 161.1 332 161.2 332.5 161.2 333 161.2 333.5 161.1 334 161.1 334.5 161.1 335 161.1 335.5 161.1 336 161.1 336.5 161.1 337 161 337.5 161.1 338 161.1 338.5 161.2 339 161.1 339.5 161.2 340 161.1 340.5 161 341 161.1 341.5 161 342 161 342.5 161 343 161 343.5 161 344 160.9 344.5 161 345 161 345.5 161 346 161 346.5 160.9 347 160.9 347.5 160.8 348 161 348.5 160.9 349 160.9 349.5 160.9 350 160.7 350.5 160.9 351 160.8 351.5 160.7 352 160.6 352.5 160.8 353 160.6 353.5 160.6 354 160.6 354.5 160.6 355 160.5 355.5 160.5 356 160.4 356.5 160.4 357 160.3 357.5 160.4 358 160.2 358.5 160.2 359 160.2 359.5 160.1 360 160.1 360.5 160 361 160 361.5 159.9 362 159.9 362.5 159.8 363 159.8 363.5 159.7 364 159.5 364.5 159.7 365 159.7 365.5 159.5 366 159.4 366.5 159.3 367 159.3 367.5 159.2 368 159.1 368.5 159 369 159 369.5 158.9 370 158.8 370.5 158.8 371 158.8 371.5 158.5 372 158.5 372.5 158.5 373 158.5 373.5 158.4 374 158.4 374.5 158.3 375 158.3 375.5 158.2 376 157.8 376.5 158.1 377 158.3 377.5 157.8 378 157.9 378.5 157.6 379 157.5 379.5 157.8 380 157.7 380.5 157.7 381 157.9 381.5 157.4 382 157.2 382.5 157.5 383 157.6 383.5 157.6 384 157.7 384.5 157.7 385 157.6 385.5 157.7 386 157.6 386.5 157.9 387 157.4 387.5 157.5 388 157.8 388.5 158.1 389 157.6 389.5 157.3 390 157.8 390.5 157.8 391 157.8 391.5 157.6 392 158 392.5 157.6 393 158 393.5 157.7 394 158 394.5 158.1 395 158.5 395.5 158.2 396 158.2 396.5 158.2 397 158.3 397.5 158.4 398 158.4 398.5 158.5 399 158.6 399.5 158.7 400 158.7 400.5 158.7 401 158.8 401.5 159 402 159 402.5 159.1 403 159.2 403.5 159.1 404 159.2 404.5 159.4 405 159.4 405.5 159.4 406 159.5 406.5 159.6 407 159.6 407.5 159.8 408 159.7 408.5 159.8 409 159.8 409.5 160 410 159.9 410.5 160 411 160 411.5 160 412 160.1 412.5 160.2 413 160.2 413.5 160.1 414 160.2 414.5 160.1 415 160.1 415.5 160.1 416 159.9 416.5 159.9 417 159.7 417.5 159.8 418 159.7 418.5 159.4 419 159.2 419.5 159.1 420 158.8 420.5 158.7 421 158.4 421.5 158.3 422 157.8 422.5 157.2 423 157 423.5 156.5 424 156.4 424.5 155.9 425 155.3 425.5 154.9 426 154 426.5 154 427 152.6 427.5 152.7 428 151.5 428.5 151.1 429 149.6 429.5 149.1 430 147.9 430.5 146.7 431 145.7 431.5 144.4 432 143.1 432.5 140.6 433 139.3 433.5 137.3 434 135 434.5 132.2 435 130.6 435.5 127.5 436 124.8 436.5 121.6 437 119 437.5 115.4 438 111.6 438.5 107.8 439 104.1 439.5 100.8 440 96.6 440.5 92.6 441 88.7 441.5 84.5 442 79.7 442.5 75.5 443 71.3 443.5 66.7 444 63 444.5 58.4 445 54.4 445.5 50.4 446 46.3 446.5 42.7 447 39.1 447.5 35.7 448 32.2 448.5 29.8 449 26.9 449.5 24.6 450 22.8 450.5 20.8 451 19.8 451.5 18.2 452 18 452.5 17.5 453 17.2 453.5 17.4 454 18.1 454.5 19.1 455 20.7 455.5 22.6 456 24.2 456.5 26.6 457 29.4 457.5 31.8 458 35.1 458.5 38.7 459 41.9 459.5 46 460 49.8 460.5 53.5 461 58.1 461.5 61.9 462 66.5 462.5 70.2 463 74.9 463.5 79 464 83.7 464.5 87.7 465 91.5 465.5 95.8 466 100.3 466.5 103.6 467 107.4 467.5 111.3 468 114.4 468.5 118.4 469 121.4 469.5 124.2 470 127 470.5 129.8 471 133 471.5 135.6 472 137.4 472.5 140 473 141.7 473.5 143.8 474 144.9 474.5 146.6 475 148.1 475.5 149.6 476 150.8 476.5 152 477 152.9 477.5 153.8 478 154.6 478.5 155.6 479 155.7 479.5 156.7 480 156.9 480.5 157.4 481 158.2 481.5 158.6 482 158.8 482.5 159.2 483 159.5 483.5 159.7 484 159.9 484.5 160.1 485 160.2 485.5 160.4 486 160.5 486.5 160.7 487 160.6 487.5 160.7 488 160.9 488.5 160.9 489 160.9 489.5 160.9 490 160.9 490.5 160.9 491 161 491.5 161.1 492 161.1" fill="none" stroke="#4e2a86" stroke-width="1.0" stroke-linejoin="round"/>
<path d="M324 161.1 324.5 161.1 325 161.1 325.5 161.1 326 161.1 326.5 161.1 327 161.1 327.5 161.1 328 161.1 328.5 161.1 329 161.1 329.5 161.1 330 161.1 330.5 161.1 331 161.1 331.5 161.1 332 161.1 332.5 161.1 333 161.1 333.5 161.1 334 161.1 334.5 161.1 335 161.1 335.5 161.1 336 161.1 336.5 161.1 337 161.1 337.5 161.1 338 161.1 338.5 161.1 339 161.1 339.5 161.1 340 161.1 340.5 161.1 341 161.1 341.5 161.1 342 161.1 342.5 161.1 343 161.1 343.5 161.1 344 161.1 344.5 161.1 345 161.1 345.5 161.1 346 161.1 346.5 161.1 347 161.1 347.5 161.1 348 161.1 348.5 161.1 349 161.1 349.5 161.1 350 161.1 350.5 161.1 351 161.1 351.5 161.1 352 161.1 352.5 161.1 353 161.1 353.5 161.1 354 161.1 354.5 161.1 355 161.1 355.5 161.1 356 161.1 356.5 161.1 357 161.1 357.5 161.1 358 161.1 358.5 161.1 359 161.1 359.5 161.1 360 161.1 360.5 161.1 361 161.1 361.5 161.1 362 161.1 362.5 161.1 363 161.1 363.5 161.1 364 161.1 364.5 161.1 365 161.1 365.5 161.1 366 161.1 366.5 161.1 367 161.1 367.5 161.1 368 161.1 368.5 161.1 369 161.1 369.5 161.1 370 161.1 370.5 161.1 371 161.1 371.5 161.1 372 161.1 372.5 161.1 373 161.1 373.5 161.1 374 161.1 374.5 161.1 375 161.1 375.5 161.1 376 161.1 376.5 161.1 377 161.1 377.5 161.1 378 161.1 378.5 161.1 379 161.1 379.5 161.1 380 161.1 380.5 161.1 381 161.1 381.5 161.1 382 161.1 382.5 161.1 383 161.1 383.5 161.1 384 161.1 384.5 161.1 385 161.1 385.5 161.1 386 161.1 386.5 161.1 387 161.1 387.5 161.1 388 161.1 388.5 161.1 389 161.1 389.5 161.1 390 161.1 390.5 161.1 391 161.1 391.5 161.1 392 161.1 392.5 161.1 393 161.1 393.5 161.1 394 161.1 394.5 161.1 395 161.1 395.5 161.1 396 161.1 396.5 161.1 397 161.1 397.5 161.1 398 161.1 398.5 161.1 399 161.1 399.5 161.1 400 161.1 400.5 161.1 401 161.1 401.5 161.1 402 161.1 402.5 161.1 403 161.1 403.5 161.1 404 161.1 404.5 161.1 405 161.1 405.5 161.1 406 161.1 406.5 161.1 407 161.1 407.5 161.1 408 161.1 408.5 161.1 409 161.1 409.5 161.1 410 161.1 410.5 161.1 411 161.1 411.5 161.1 412 161.1 412.5 161 413 161 413.5 161 414 161 414.5 161 415 161 415.5 160.9 416 160.9 416.5 160.9 417 160.8 417.5 160.8 418 160.7 418.5 160.6 419 160.6 419.5 160.5 420 160.4 420.5 160.2 421 160.1 421.5 159.9 422 159.7 422.5 159.5 423 159.2 423.5 159 424 158.6 424.5 158.3 425 157.8 425.5 157.4 426 156.8 426.5 156.3 427 155.6 427.5 154.9 428 154 428.5 153.1 429 152.1 429.5 151.1 430 149.8 430.5 148.5 431 147.1 431.5 145.5 432 143.8 432.5 142 433 140.1 433.5 137.9 434 135.7 434.5 133.2 435 130.7 435.5 127.9 436 125 436.5 122 437 118.8 437.5 115.4 438 112 438.5 108.3 439 104.6 439.5 100.7 440 96.7 440.5 92.6 441 88.4 441.5 84.2 442 79.9 442.5 75.6 443 71.3 443.5 67 444 62.7 444.5 58.5 445 54.4 445.5 50.4 446 46.5 446.5 42.7 447 39.2 447.5 35.8 448 32.7 448.5 29.8 449 27.1 449.5 24.8 450 22.7 450.5 21 451 19.6 451.5 18.5 452 17.8 452.5 17.4 453 17.3 453.5 17.6 454 18.3 454.5 19.3 455 20.7 455.5 22.3 456 24.3 456.5 26.6 457 29.2 457.5 32.1 458 35.1 458.5 38.5 459 42 459.5 45.7 460 49.6 460.5 53.6 461 57.7 461.5 61.9 462 66.1 462.5 70.4 463 74.7 463.5 79.1 464 83.3 464.5 87.6 465 91.8 465.5 95.9 466 99.9 466.5 103.8 467 107.6 467.5 111.2 468 114.8 468.5 118.1 469 121.4 469.5 124.4 470 127.4 470.5 130.1 471 132.7 471.5 135.2 472 137.5 472.5 139.6 473 141.6 473.5 143.5 474 145.2 474.5 146.8 475 148.3 475.5 149.6 476 150.8 476.5 151.9 477 153 477.5 153.9 478 154.7 478.5 155.5 479 156.1 479.5 156.7 480 157.3 480.5 157.8 481 158.2 481.5 158.6 482 158.9 482.5 159.2 483 159.5 483.5 159.7 484 159.9 484.5 160.1 485 160.2 485.5 160.3 486 160.5 486.5 160.6 487 160.6 487.5 160.7 488 160.8 488.5 160.8 489 160.9 489.5 160.9 490 160.9 490.5 161 491 161 491.5 161 492 161" fill="none" stroke="#72b24a" stroke-width="1.0" stroke-linejoin="round"/>
<path d="M324 161.1 324.5 161.1 325 161.1 325.5 161.1 326 161.1 326.5 161.1 327 161.1 327.5 161.1 328 161.1 328.5 161.1 329 161.1 329.5 161.1 330 161.1 330.5 161.1 331 161.1 331.5 161.1 332 161.1 332.5 161.1 333 161.1 333.5 161.1 334 161.1 334.5 161.1 335 161.1 335.5 161.1 336 161.1 336.5 161.1 337 161.1 337.5 161.1 338 161.1 338.5 161.1 339 161 339.5 161 340 161 340.5 161 341 161 341.5 161 342 161 342.5 161 343 161 343.5 161 344 161 344.5 161 345 161 345.5 160.9 346 160.9 346.5 160.9 347 160.9 347.5 160.9 348 160.9 348.5 160.9 349 160.8 349.5 160.8 350 160.8 350.5 160.8 351 160.7 351.5 160.7 352 160.7 352.5 160.7 353 160.6 353.5 160.6 354 160.6 354.5 160.5 355 160.5 355.5 160.5 356 160.4 356.5 160.4 357 160.4 357.5 160.3 358 160.3 358.5 160.2 359 160.2 359.5 160.1 360 160.1 360.5 160 361 160 361.5 159.9 362 159.9 362.5 159.8 363 159.8 363.5 159.7 364 159.6 364.5 159.6 365 159.5 365.5 159.5 366 159.4 366.5 159.3 367 159.3 367.5 159.2 368 159.1 368.5 159.1 369 159 369.5 158.9 370 158.8 370.5 158.8 371 158.7 371.5 158.6 372 158.6 372.5 158.5 373 158.4 373.5 158.4 374 158.3 374.5 158.3 375 158.2 375.5 158.1 376 158.1 376.5 158 377 158 377.5 157.9 378 157.9 378.5 157.8 379 157.8 379.5 157.7 380 157.7 380.5 157.7 381 157.6 381.5 157.6 382 157.6 382.5 157.6 383 157.5 383.5 157.5 384 157.5 384.5 157.5 385 157.5 385.5 157.5 386 157.5 386.5 157.5 387 157.5 387.5 157.5 388 157.5 388.5 157.6 389 157.6 389.5 157.6 390 157.6 390.5 157.7 391 157.7 391.5 157.7 392 157.8 392.5 157.8 393 157.9 393.5 157.9 394 158 394.5 158 395 158.1 395.5 158.1 396 158.2 396.5 158.3 397 158.3 397.5 158.4 398 158.4 398.5 158.5 399 158.6 399.5 158.6 400 158.7 400.5 158.8 401 158.8 401.5 158.9 402 159 402.5 159.1 403 159.1 403.5 159.2 404 159.3 404.5 159.3 405 159.4 405.5 159.5 406 159.5 406.5 159.6 407 159.6 407.5 159.7 408 159.8 408.5 159.8 409 159.9 409.5 159.9 410 160 410.5 160 411 160.1 411.5 160.1 412 160.2 412.5 160.2 413 160.3 413.5 160.3 414 160.4 414.5 160.4 415 160.4 415.5 160.5 416 160.5 416.5 160.5 417 160.6 417.5 160.6 418 160.6 418.5 160.7 419 160.7 419.5 160.7 420 160.7 420.5 160.8 421 160.8 421.5 160.8 422 160.8 422.5 160.9 423 160.9 423.5 160.9 424 160.9 424.5 160.9 425 160.9 425.5 160.9 426 161 426.5 161 427 161 427.5 161 428 161 428.5 161 429 161 429.5 161 430 161 430.5 161 431 161 431.5 161 432 161 432.5 161.1 433 161.1 433.5 161.1 434 161.1 434.5 161.1 435 161.1 435.5 161.1 436 161.1 436.5 161.1 437 161.1 437.5 161.1 438 161.1 438.5 161.1 439 161.1 439.5 161.1 440 161.1 440.5 161.1 441 161.1 441.5 161.1 442 161.1 442.5 161.1 443 161.1 443.5 161.1 444 161.1 444.5 161.1 445 161.1 445.5 161.1 446 161.1 446.5 161.1 447 161.1 447.5 161.1 448 161.1 448.5 161.1 449 161.1 449.5 161.1 450 161.1 450.5 161.1 451 161.1 451.5 161.1 452 161.1 452.5 161.1 453 161.1 453.5 161.1 454 161.1 454.5 161.1 455 161.1 455.5 161.1 456 161.1 456.5 161.1 457 161.1 457.5 161.1 458 161.1 458.5 161.1 459 161.1 459.5 161.1 460 161.1 460.5 161.1 461 161.1 461.5 161.1 462 161.1 462.5 161.1 463 161.1 463.5 161.1 464 161.1 464.5 161.1 465 161.1 465.5 161.1 466 161.1 466.5 161.1 467 161.1 467.5 161.1 468 161.1 468.5 161.1 469 161.1 469.5 161.1 470 161.1 470.5 161.1 471 161.1 471.5 161.1 472 161.1 472.5 161.1 473 161.1 473.5 161.1 474 161.1 474.5 161.1 475 161.1 475.5 161.1 476 161.1 476.5 161.1 477 161.1 477.5 161.1 478 161.1 478.5 161.1 479 161.1 479.5 161.1 480 161.1 480.5 161.1 481 161.1 481.5 161.1 482 161.1 482.5 161.1 483 161.1 483.5 161.1 484 161.1 484.5 161.1 485 161.1 485.5 161.1 486 161.1 486.5 161.1 487 161.1 487.5 161.1 488 161.1 488.5 161.1 489 161.1 489.5 161.1 490 161.1 490.5 161.1 491 161.1 491.5 161.1 492 161.1" fill="none" stroke="#72b24a" stroke-width="1.0" stroke-linejoin="round"/>
<path d="M324 161.1 324.5 161.1 325 161.1 325.5 161.1 326 161.1 326.5 161.1 327 161.1 327.5 161.1 328 161.1 328.5 161.1 329 161.1 329.5 161.1 330 161.1 330.5 161.1 331 161.1 331.5 161.1 332 161.1 332.5 161.1 333 161.1 333.5 161.1 334 161.1 334.5 161.1 335 161.1 335.5 161.1 336 161.1 336.5 161.1 337 161.1 337.5 161.1 338 161.1 338.5 161.1 339 161 339.5 161 340 161 340.5 161 341 161 341.5 161 342 161 342.5 161 343 161 343.5 161 344 161 344.5 161 345 161 345.5 160.9 346 160.9 346.5 160.9 347 160.9 347.5 160.9 348 160.9 348.5 160.9 349 160.8 349.5 160.8 350 160.8 350.5 160.8 351 160.7 351.5 160.7 352 160.7 352.5 160.7 353 160.6 353.5 160.6 354 160.6 354.5 160.5 355 160.5 355.5 160.5 356 160.4 356.5 160.4 357 160.4 357.5 160.3 358 160.3 358.5 160.2 359 160.2 359.5 160.1 360 160.1 360.5 160 361 160 361.5 159.9 362 159.9 362.5 159.8 363 159.8 363.5 159.7 364 159.6 364.5 159.6 365 159.5 365.5 159.5 366 159.4 366.5 159.3 367 159.3 367.5 159.2 368 159.1 368.5 159.1 369 159 369.5 158.9 370 158.8 370.5 158.8 371 158.7 371.5 158.6 372 158.6 372.5 158.5 373 158.4 373.5 158.4 374 158.3 374.5 158.3 375 158.2 375.5 158.1 376 158.1 376.5 158 377 158 377.5 157.9 378 157.9 378.5 157.8 379 157.8 379.5 157.7 380 157.7 380.5 157.7 381 157.6 381.5 157.6 382 157.6 382.5 157.6 383 157.5 383.5 157.5 384 157.5 384.5 157.5 385 157.5 385.5 157.5 386 157.5 386.5 157.5 387 157.5 387.5 157.5 388 157.5 388.5 157.6 389 157.6 389.5 157.6 390 157.6 390.5 157.7 391 157.7 391.5 157.7 392 157.8 392.5 157.8 393 157.9 393.5 157.9 394 158 394.5 158 395 158.1 395.5 158.1 396 158.2 396.5 158.3 397 158.3 397.5 158.4 398 158.4 398.5 158.5 399 158.6 399.5 158.6 400 158.7 400.5 158.8 401 158.8 401.5 158.9 402 159 402.5 159.1 403 159.1 403.5 159.2 404 159.3 404.5 159.3 405 159.4 405.5 159.4 406 159.5 406.5 159.6 407 159.6 407.5 159.7 408 159.8 408.5 159.8 409 159.9 409.5 159.9 410 160 410.5 160 411 160.1 411.5 160.1 412 160.1 412.5 160.2 413 160.2 413.5 160.2 414 160.3 414.5 160.3 415 160.3 415.5 160.3 416 160.3 416.5 160.3 417 160.3 417.5 160.3 418 160.3 418.5 160.2 419 160.2 419.5 160.1 420 160 420.5 159.9 421 159.8 421.5 159.6 422 159.5 422.5 159.3 423 159 423.5 158.7 424 158.4 424.5 158.1 425 157.7 425.5 157.2 426 156.7 426.5 156.1 427 155.5 427.5 154.7 428 153.9 428.5 153 429 152.1 429.5 151 430 149.8 430.5 148.5 431 147 431.5 145.5 432 143.8 432.5 142 433 140 433.5 137.9 434 135.6 434.5 133.2 435 130.6 435.5 127.9 436 125 436.5 122 437 118.8 437.5 115.4 438 111.9 438.5 108.3 439 104.5 439.5 100.7 440 96.7 440.5 92.6 441 88.4 441.5 84.2 442 79.9 442.5 75.6 443 71.3 443.5 67 444 62.7 444.5 58.5 445 54.4 445.5 50.4 446 46.5 446.5 42.7 447 39.2 447.5 35.8 448 32.7 448.5 29.8 449 27.1 449.5 24.8 450 22.7 450.5 21 451 19.6 451.5 18.5 452 17.7 452.5 17.4 453 17.3 453.5 17.6 454 18.3 454.5 19.3 455 20.7 455.5 22.3 456 24.3 456.5 26.6 457 29.2 457.5 32.1 458 35.1 458.5 38.5 459 42 459.5 45.7 460 49.6 460.5 53.6 461 57.7 461.5 61.9 462 66.1 462.5 70.4 463 74.7 463.5 79.1 464 83.3 464.5 87.6 465 91.8 465.5 95.9 466 99.9 466.5 103.8 467 107.6 467.5 111.2 468 114.8 468.5 118.1 469 121.4 469.5 124.4 470 127.4 470.5 130.1 471 132.7 471.5 135.2 472 137.5 472.5 139.6 473 141.6 473.5 143.5 474 145.2 474.5 146.8 475 148.3 475.5 149.6 476 150.8 476.5 151.9 477 153 477.5 153.9 478 154.7 478.5 155.5 479 156.1 479.5 156.7 480 157.3 480.5 157.8 481 158.2 481.5 158.6 482 158.9 482.5 159.2 483 159.5 483.5 159.7 484 159.9 484.5 160.1 485 160.2 485.5 160.3 486 160.5 486.5 160.6 487 160.6 487.5 160.7 488 160.8 488.5 160.8 489 160.9 489.5 160.9 490 160.9 490.5 161 491 161 491.5 161 492 161" fill="none" stroke="#72b24a" stroke-width="1.0" stroke-linejoin="round"/>
<text x="444" y="14.2" font-size="6.0" fill="#222" stroke="#222" stroke-width="0.16" textLength="17.7" lengthAdjust="spacingAndGlyphs">-0.5pA</text>
<text x="378.5" y="150.2" font-size="6.0" fill="#222" stroke="#222" stroke-width="0.16" textLength="17.7" lengthAdjust="spacingAndGlyphs">-2.5pA</text>
<rect x="343.3" y="66.9" width="71.6" height="53.7" fill="#fff" stroke="#222" stroke-width="1"/>
<text x="346.6" y="76" font-size="5.6" fill="#222" stroke="#222" stroke-width="0.16" textLength="8.6" lengthAdjust="spacingAndGlyphs">B (i)</text>
<path d="M349 115.7 349.8 116.2 350.6 116 351.4 115.7 352.2 115.3 353 115.7 353.8 115.5 354.6 115 355.4 114.7 356.2 114.2 357 113.6 357.8 113.6 358.6 113.4 359.4 112.3 360.2 112.6 361 111.4 361.8 110.7 362.6 109.7 363.4 110.2 364.2 109 365 108.3 365.8 106.9 366.6 104.7 367.4 104.1 368.2 103.3 369 101 369.8 102.2 370.6 99 371.4 96.6 372.2 98.1 373 93.3 373.8 96.2 374.6 92 375.4 91.3 376.2 88.3 377 88 377.8 84 378.6 78.5 379.4 85.5 380.2 77.9 381 82.9 381.8 75.6 382.6 83.7 383.4 82.4 384.2 80.3 385 80.1 385.8 77.8 386.6 79.5 387.4 73 388.2 77.2 389 81.2 389.8 75.8 390.6 85.3 391.4 85.7 392.2 82.9 393 83.7 393.8 85.5 394.6 86.5 395.4 90.8 396.2 89.3 397 89.4 397.8 91.2 398.6 94.7 399.4 96.8 400.2 96.9 401.3 102.5 402.1 103.2 402.9 99.5 403.7 100.4 404.5 97 405.3 96.2 406.1 93.2 406.9 92.4 407.6 89 408.3 86.2" fill="none" stroke="#4e1f80" stroke-width="1.0" stroke-linejoin="round"/>
<path d="M349 114.9 349.5 114.8 350 114.8 350.5 114.7 351 114.6 351.5 114.5 352 114.4 352.5 114.3 353 114.2 353.5 114.1 354 114 354.5 113.8 355 113.7 355.5 113.5 356 113.3 356.5 113.1 357 112.9 357.5 112.7 358 112.4 358.5 112.1 359 111.9 359.5 111.5 360 111.2 360.5 110.8 361 110.5 361.5 110.1 362 109.6 362.5 109.2 363 108.7 363.5 108.2 364 107.7 364.5 107.1 365 106.5 365.5 105.9 366 105.3 366.5 104.6 367 103.9 367.5 103.2 368 102.4 368.5 101.7 369 100.9 369.5 100.1 370 99.2 370.5 98.4 371 97.5 371.5 96.7 372 95.8 372.5 94.9 373 94 373.5 93.1 374 92.2 374.5 91.3 375 90.4 375.5 89.5 376 88.6 376.5 87.8 377 86.9 377.5 86.1 378 85.3 378.5 84.6 379 83.8 379.5 83.1 380 82.5 380.5 81.9 381 81.3 381.5 80.8 382 80.3 382.5 79.8 383 79.5 383.5 79.1 384 78.9 384.5 78.7 385 78.5 385.5 78.4 386 78.4 386.5 78.4 387 78.5 387.5 78.7 388 78.9 388.5 79.1 389 79.5 389.5 79.8 390 80.3 390.5 80.8 391 81.3 391.5 81.9 392 82.5 392.5 83.1 393 83.8 393.5 84.6 394 85.3 394.5 86.1 395 86.9 395.5 87.8 396 88.6 396.5 89.5 397 90.4 397.5 91.3 398 92.2 398.5 93.1 399 94 399.5 94.9 400 95.8 400.5 96.7 401 97.5 401.5 98.4 402 99.2 402.5 100.1 403 100.9 403.5 101.7 404 102.4 404.5 103.2 405 103.9 405.5 104.6 406 105.3 406.5 105.9 407 106.5 407.5 107.1 408 107.7 408.5 108.2" fill="none" stroke="#72b24a" stroke-width="1.0" stroke-linejoin="round"/>
<path d="M386.9 98.4V109.3H397.3" fill="none" stroke="#222" stroke-width="1"/>
<text x="385" y="105.2" font-size="5.6" fill="#222" stroke="#222" stroke-width="0.16" text-anchor="end">50</text>
<text x="385.4" y="117.6" font-size="5.6" fill="#222" stroke="#222" stroke-width="0.16" textLength="16.2" lengthAdjust="spacingAndGlyphs">0.5pA</text>
<line x1="321" y1="188" x2="321" y2="340.1" stroke="#3a3a3a" stroke-width="1.25"/>
<line x1="318" y1="339.6" x2="321" y2="339.6" stroke="#2a2a2a" stroke-width="0.9"/>
<text x="313.8" y="342.2" font-size="7.4" fill="#222" stroke="#222" stroke-width="0.16" text-anchor="end" textLength="3.9" lengthAdjust="spacingAndGlyphs">0</text>
<line x1="319.5" y1="328.1" x2="321" y2="328.1" stroke="#2a2a2a" stroke-width="0.8"/>
<line x1="318" y1="316.6" x2="321" y2="316.6" stroke="#2a2a2a" stroke-width="0.9"/>
<text x="313.8" y="319.2" font-size="7.4" fill="#222" stroke="#222" stroke-width="0.16" text-anchor="end" textLength="14.8" lengthAdjust="spacingAndGlyphs">1000</text>
<line x1="319.5" y1="305.1" x2="321" y2="305.1" stroke="#2a2a2a" stroke-width="0.8"/>
<line x1="318" y1="293.6" x2="321" y2="293.6" stroke="#2a2a2a" stroke-width="0.9"/>
<text x="313.8" y="296.2" font-size="7.4" fill="#222" stroke="#222" stroke-width="0.16" text-anchor="end" textLength="14.8" lengthAdjust="spacingAndGlyphs">2000</text>
<line x1="319.5" y1="282.1" x2="321" y2="282.1" stroke="#2a2a2a" stroke-width="0.8"/>
<line x1="318" y1="270.6" x2="321" y2="270.6" stroke="#2a2a2a" stroke-width="0.9"/>
<text x="313.8" y="273.2" font-size="7.4" fill="#222" stroke="#222" stroke-width="0.16" text-anchor="end" textLength="14.8" lengthAdjust="spacingAndGlyphs">3000</text>
<line x1="319.5" y1="259.1" x2="321" y2="259.1" stroke="#2a2a2a" stroke-width="0.8"/>
<line x1="318" y1="247.6" x2="321" y2="247.6" stroke="#2a2a2a" stroke-width="0.9"/>
<text x="313.8" y="250.2" font-size="7.4" fill="#222" stroke="#222" stroke-width="0.16" text-anchor="end" textLength="14.8" lengthAdjust="spacingAndGlyphs">4000</text>
<line x1="319.5" y1="236.1" x2="321" y2="236.1" stroke="#2a2a2a" stroke-width="0.8"/>
<line x1="318" y1="224.6" x2="321" y2="224.6" stroke="#2a2a2a" stroke-width="0.9"/>
<text x="313.8" y="227.2" font-size="7.4" fill="#222" stroke="#222" stroke-width="0.16" text-anchor="end" textLength="14.8" lengthAdjust="spacingAndGlyphs">5000</text>
<line x1="319.5" y1="213.1" x2="321" y2="213.1" stroke="#2a2a2a" stroke-width="0.8"/>
<line x1="318" y1="201.6" x2="321" y2="201.6" stroke="#2a2a2a" stroke-width="0.9"/>
<text x="313.8" y="204.2" font-size="7.4" fill="#222" stroke="#222" stroke-width="0.16" text-anchor="end" textLength="14.8" lengthAdjust="spacingAndGlyphs">6000</text>
<line x1="319.5" y1="190.1" x2="321" y2="190.1" stroke="#2a2a2a" stroke-width="0.8"/>
<text x="316" y="193" font-size="7.2" fill="#222" stroke="#222" stroke-width="0.16" text-anchor="end">N</text>
<line x1="318.5" y1="339.6" x2="508.4" y2="339.6" stroke="#111" stroke-width="1.3"/>
<line x1="335.1" y1="339.6" x2="335.1" y2="342.2" stroke="#2a2a2a" stroke-width="0.9"/>
<text x="335" y="352.3" font-size="6.8" fill="#222" stroke="#222" stroke-width="0.16" text-anchor="middle">-6</text>
<line x1="347.3" y1="339.6" x2="347.3" y2="341.2" stroke="#2a2a2a" stroke-width="0.8"/>
<line x1="359.5" y1="339.6" x2="359.5" y2="342.2" stroke="#2a2a2a" stroke-width="0.9"/>
<text x="359.4" y="352.3" font-size="6.8" fill="#222" stroke="#222" stroke-width="0.16" text-anchor="middle">-5</text>
<line x1="371.7" y1="339.6" x2="371.7" y2="341.2" stroke="#2a2a2a" stroke-width="0.8"/>
<line x1="383.9" y1="339.6" x2="383.9" y2="342.2" stroke="#2a2a2a" stroke-width="0.9"/>
<text x="383.8" y="352.3" font-size="6.8" fill="#222" stroke="#222" stroke-width="0.16" text-anchor="middle">-4</text>
<line x1="396.1" y1="339.6" x2="396.1" y2="341.2" stroke="#2a2a2a" stroke-width="0.8"/>
<line x1="408.3" y1="339.6" x2="408.3" y2="342.2" stroke="#2a2a2a" stroke-width="0.9"/>
<text x="408.2" y="352.3" font-size="6.8" fill="#222" stroke="#222" stroke-width="0.16" text-anchor="middle">-3</text>
<line x1="420.5" y1="339.6" x2="420.5" y2="341.2" stroke="#2a2a2a" stroke-width="0.8"/>
<line x1="432.7" y1="339.6" x2="432.7" y2="342.2" stroke="#2a2a2a" stroke-width="0.9"/>
<text x="432.6" y="352.3" font-size="6.8" fill="#222" stroke="#222" stroke-width="0.16" text-anchor="middle">-2</text>
<line x1="444.9" y1="339.6" x2="444.9" y2="341.2" stroke="#2a2a2a" stroke-width="0.8"/>
<line x1="457.1" y1="339.6" x2="457.1" y2="342.2" stroke="#2a2a2a" stroke-width="0.9"/>
<text x="457" y="352.3" font-size="6.8" fill="#222" stroke="#222" stroke-width="0.16" text-anchor="middle">-1</text>
<line x1="469.3" y1="339.6" x2="469.3" y2="341.2" stroke="#2a2a2a" stroke-width="0.8"/>
<line x1="481.5" y1="339.6" x2="481.5" y2="342.2" stroke="#2a2a2a" stroke-width="0.9"/>
<text x="481.5" y="352.3" font-size="6.8" fill="#222" stroke="#222" stroke-width="0.16" text-anchor="middle">0</text>
<line x1="493.7" y1="339.6" x2="493.7" y2="341.2" stroke="#2a2a2a" stroke-width="0.8"/>
<line x1="505.9" y1="339.6" x2="505.9" y2="342.2" stroke="#2a2a2a" stroke-width="0.9"/>
<text x="505.9" y="352.3" font-size="6.8" fill="#222" stroke="#222" stroke-width="0.16" text-anchor="middle">1</text>
<text x="494.6" y="334.4" font-size="6.0" fill="#222" stroke="#222" stroke-width="0.16" textLength="13.0" lengthAdjust="spacingAndGlyphs">I(pA)</text>
<path d="M324 339.7 324.5 339.7 325 339.5 325.5 339.8 326 339.6 326.5 339.8 327 339.5 327.5 339.5 328 339.4 328.5 339.6 329 339.5 329.5 339.6 330 339.6 330.5 339.5 331 339.6 331.5 339.5 332 339.4 332.5 339.5 333 339.5 333.5 339.2 334 339.4 334.5 339.5 335 339.4 335.5 339.4 336 339.4 336.5 339.4 337 339.1 337.5 339.3 338 339.2 338.5 339.1 339 339 339.5 339.2 340 339.2 340.5 338.8 341 339.1 341.5 339 342 338.8 342.5 338.6 343 338.9 343.5 339 344 338.6 344.5 338.7 345 338.6 345.5 338.4 346 338.4 346.5 338.3 347 338.3 347.5 338.1 348 338 348.5 338.1 349 338 349.5 337.8 350 337.8 350.5 337.8 351 337.7 351.5 337.5 352 337.5 352.5 337.4 353 337.3 353.5 337.3 354 337.2 354.5 337.3 355 336.8 355.5 336.9 356 337 356.5 336.7 357 336.7 357.5 336.7 358 336.5 358.5 335.4 359 336.2 359.5 335.7 360 335.4 360.5 336.9 361 336.6 361.5 335.9 362 337.2 362.5 336.4 363 335.6 363.5 335.7 364 336 364.5 337.2 365 335.1 365.5 336 366 335.8 366.5 336 367 337.1 367.5 336.9 368 336.8 368.5 335.3 369 336.7 369.5 336.4 370 336.4 370.5 335.9 371 336 371.5 336.1 372 336.8 372.5 337.7 373 336 373.5 335.9 374 335.4 374.5 336 375 336.1 375.5 335.5 376 336.4 376.5 336 377 335.9 377.5 335 378 334 378.5 334.4 379 334 379.5 334.2 380 333.9 380.5 333.9 381 333.5 381.5 334.2 382 333.2 382.5 332.9 383 331.3 383.5 330.9 384 330.2 384.5 329.4 385 329.8 385.5 328.4 386 327.3 386.5 327.6 387 326.3 387.5 326.1 388 326 388.5 324.3 389 323.9 389.5 322.5 390 321.8 390.5 320.4 391 320.5 391.5 317.3 392 316.5 392.5 316.2 393 315.3 393.5 313.6 394 312 394.5 310.8 395 309.5 395.5 309.3 396 307.5 396.5 304.9 397 304 397.5 303.4 398 301.7 398.5 300.5 399 298.8 399.5 296.2 400 295.5 400.5 293.3 401 292.3 401.5 291.8 402 289.9 402.5 287 403 287.2 403.5 286 404 283.5 404.5 282.8 405 281.6 405.5 279.6 406 280.1 406.5 277.9 407 277.7 407.5 276.9 408 275.6 408.5 273.8 409 273.7 409.5 273.8 410 272.8 410.5 270.9 411 270.7 411.5 271.4 412 269.3 412.5 270.5 413 270.8 413.5 270.2 414 269.6 414.5 269.4 415 269.9 415.5 270.9 416 271.3 416.5 272.2 417 272 417.5 272.9 418 273.1 418.5 274.6 419 275 419.5 276.1 420 277.2 420.5 278.1 421 279.1 421.5 280.3 422 280.5 422.5 281.9 423 283.8 423.5 284.1 424 285.5 424.5 286.2 425 288.3 425.5 289.6 426 291.1 426.5 292 427 293.1 427.5 294.6 428 296 428.5 296.9 429 298.3 429.5 299.4 430 301.2 430.5 301.8 431 303.5 431.5 304.4 432 304.9 432.5 304.9 433 306.4 433.5 307.7 434 308.7 434.5 308.8 435 309.4 435.5 310.1 436 311.5 436.5 311.8 437 312.6 437.5 313.1 438 313.8 438.5 313.9 439 315.2 439.5 315 440 314.4 440.5 315.3 441 314.7 441.5 315.7 442 315.3 442.5 314.9 443 315.5 443.5 315.3 444 313.5 444.5 314.8 445 314.6 445.5 314.2 446 313.4 446.5 313 447 312 447.5 311.5 448 311.4 448.5 310.7 449 310.5 449.5 309.7 450 308.4 450.5 306.7 451 306 451.5 304.6 452 303.5 452.5 302.9 453 300.6 453.5 300.7 454 299.6 454.5 298.3 455 296.2 455.5 295.7 456 294.7 456.5 292.9 457 291.4 457.5 290.9 458 289.8 458.5 288.1 459 287.1 459.5 286.2 460 286.1 460.5 284.8 461 284 461.5 284.4 462 282.3 462.5 282.4 463 282.2 463.5 280.6 464 281.5 464.5 281.8 465 281.5 465.5 281.3 466 281.4 466.5 282.2 467 283 467.5 283.5 468 284.2 468.5 285 469 285.3 469.5 286.5 470 287.3 470.5 288.8 471 290 471.5 291 472 292.4 472.5 293.1 473 295.6 473.5 296.6 474 298.3 474.5 300.6 475 301.3 475.5 303.3 476 306.2 476.5 306.5 477 308.1 477.5 310.7 478 311.2 478.5 313.6 479 315.9 479.5 316.6 480 318.6 480.5 320.6 481 322.3 481.5 322.4 482 324.1 482.5 324.5 483 325.6 483.5 327 484 327.9 484.5 327.6 485 328.4 485.5 329.5 486 330.8 486.5 331.7 487 331.9 487.5 331.4 488 332.6 488.5 333.4 489 334.4 489.5 334.1 490 335 490.5 335 491 335 491.5 335.2 492 336 492.5 336.6 493 336.7 493.5 336.8 494 337.2 494.5 337.6 495 337.5 495.5 337.8 496 337.7 496.5 338.3 497 338.4 497.5 338.5 498 338.6 498.5 338.8 499 339 499.5 339.1 500 339 500.5 339.1 501 339.2 501.5 339 502 339.2 502.5 339.2 503 339.4 503.5 339.3 504 339.4 504.5 339.5 505 339.4 505.5 339.4 506 339.5" fill="none" stroke="#5a1a5c" stroke-width="1.15" stroke-linejoin="round"/>
<path d="M324 339.6 324.5 339.6 325 339.6 325.5 339.6 326 339.6 326.5 339.6 327 339.6 327.5 339.6 328 339.6 328.5 339.6 329 339.6 329.5 339.6 330 339.6 330.5 339.6 331 339.6 331.5 339.6 332 339.6 332.5 339.6 333 339.6 333.5 339.6 334 339.6 334.5 339.6 335 339.6 335.5 339.6 336 339.6 336.5 339.6 337 339.6 337.5 339.6 338 339.6 338.5 339.6 339 339.6 339.5 339.6 340 339.6 340.5 339.6 341 339.6 341.5 339.6 342 339.6 342.5 339.6 343 339.6 343.5 339.6 344 339.6 344.5 339.6 345 339.6 345.5 339.6 346 339.6 346.5 339.6 347 339.6 347.5 339.6 348 339.6 348.5 339.6 349 339.6 349.5 339.6 350 339.6 350.5 339.6 351 339.6 351.5 339.6 352 339.6 352.5 339.6 353 339.6 353.5 339.6 354 339.6 354.5 339.6 355 339.6 355.5 339.6 356 339.6 356.5 339.6 357 339.6 357.5 339.6 358 339.6 358.5 339.6 359 339.6 359.5 339.5 360 339.5 360.5 339.5 361 339.5 361.5 339.5 362 339.5 362.5 339.5 363 339.5 363.5 339.5 364 339.4 364.5 339.4 365 339.4 365.5 339.4 366 339.3 366.5 339.3 367 339.3 367.5 339.2 368 339.2 368.5 339.1 369 339.1 369.5 339 370 339 370.5 338.9 371 338.8 371.5 338.7 372 338.6 372.5 338.5 373 338.4 373.5 338.3 374 338.2 374.5 338 375 337.9 375.5 337.7 376 337.5 376.5 337.3 377 337.1 377.5 336.9 378 336.6 378.5 336.3 379 336.1 379.5 335.7 380 335.4 380.5 335 381 334.7 381.5 334.3 382 333.8 382.5 333.4 383 332.9 383.5 332.3 384 331.8 384.5 331.2 385 330.6 385.5 329.9 386 329.2 386.5 328.5 387 327.8 387.5 327 388 326.1 388.5 325.3 389 324.4 389.5 323.4 390 322.5 390.5 321.4 391 320.4 391.5 319.3 392 318.2 392.5 317 393 315.8 393.5 314.6 394 313.3 394.5 312 395 310.7 395.5 309.4 396 308 396.5 306.6 397 305.2 397.5 303.8 398 302.4 398.5 301 399 299.5 399.5 298.1 400 296.6 400.5 295.2 401 293.7 401.5 292.3 402 290.9 402.5 289.5 403 288.1 403.5 286.8 404 285.4 404.5 284.2 405 282.9 405.5 281.7 406 280.6 406.5 279.5 407 278.4 407.5 277.4 408 276.5 408.5 275.6 409 274.9 409.5 274.1 410 273.5 410.5 272.9 411 272.4 411.5 272 412 271.6 412.5 271.4 413 271.2 413.5 271.1 414 271.1 414.5 271.2 415 271.3 415.5 271.6 416 271.9 416.5 272.3 417 272.8 417.5 273.4 418 274 418.5 274.7 419 275.5 419.5 276.3 420 277.2 420.5 278.2 421 279.3 421.5 280.3 422 281.5 422.5 282.7 423 283.9 423.5 285.2 424 286.5 424.5 287.8 425 289.2 425.5 290.6 426 292 426.5 293.4 427 294.9 427.5 296.3 428 297.8 428.5 299.2 429 300.7 429.5 302.1 430 303.5 430.5 305 431 306.4 431.5 307.8 432 309.1 432.5 310.5 433 311.8 433.5 313.1 434 314.3 434.5 315.6 435 316.8 435.5 317.9 436 319.1 436.5 320.2 437 321.2 437.5 322.3 438 323.2 438.5 324.2 439 325.1 439.5 326 440 326.8 440.5 327.6 441 328.4 441.5 329.1 442 329.8 442.5 330.5 443 331.1 443.5 331.7 444 332.2 444.5 332.8 445 333.3 445.5 333.7 446 334.2 446.5 334.6 447 335 447.5 335.3 448 335.7 448.5 336 449 336.3 449.5 336.6 450 336.8 450.5 337.1 451 337.3 451.5 337.5 452 337.7 452.5 337.8 453 338 453.5 338.1 454 338.3 454.5 338.4 455 338.5 455.5 338.6 456 338.7 456.5 338.8 457 338.9 457.5 339 458 339 458.5 339.1 459 339.1 459.5 339.2 460 339.2 460.5 339.3 461 339.3 461.5 339.3 462 339.4 462.5 339.4 463 339.4 463.5 339.4 464 339.5 464.5 339.5 465 339.5 465.5 339.5 466 339.5 466.5 339.5 467 339.5 467.5 339.5 468 339.5 468.5 339.6 469 339.6 469.5 339.6 470 339.6 470.5 339.6 471 339.6 471.5 339.6 472 339.6 472.5 339.6 473 339.6 473.5 339.6 474 339.6 474.5 339.6 475 339.6 475.5 339.6 476 339.6 476.5 339.6 477 339.6 477.5 339.6 478 339.6 478.5 339.6 479 339.6 479.5 339.6 480 339.6 480.5 339.6 481 339.6 481.5 339.6 482 339.6 482.5 339.6 483 339.6 483.5 339.6 484 339.6 484.5 339.6 485 339.6 485.5 339.6 486 339.6 486.5 339.6 487 339.6 487.5 339.6 488 339.6 488.5 339.6 489 339.6 489.5 339.6 490 339.6 490.5 339.6 491 339.6 491.5 339.6 492 339.6 492.5 339.6 493 339.6 493.5 339.6 494 339.6 494.5 339.6 495 339.6 495.5 339.6 496 339.6 496.5 339.6 497 339.6 497.5 339.6 498 339.6 498.5 339.6 499 339.6 499.5 339.6 500 339.6 500.5 339.6 501 339.6 501.5 339.6 502 339.6 502.5 339.6 503 339.6 503.5 339.6 504 339.6 504.5 339.6 505 339.6 505.5 339.6 506 339.6" fill="none" stroke="#2f4f90" stroke-width="1.0" stroke-linejoin="round"/>
<path d="M324 339.6 324.5 339.6 325 339.6 325.5 339.6 326 339.6 326.5 339.6 327 339.6 327.5 339.6 328 339.6 328.5 339.6 329 339.6 329.5 339.6 330 339.6 330.5 339.6 331 339.6 331.5 339.6 332 339.6 332.5 339.6 333 339.6 333.5 339.6 334 339.6 334.5 339.6 335 339.6 335.5 339.6 336 339.6 336.5 339.6 337 339.6 337.5 339.6 338 339.6 338.5 339.6 339 339.6 339.5 339.6 340 339.6 340.5 339.6 341 339.6 341.5 339.6 342 339.6 342.5 339.6 343 339.6 343.5 339.6 344 339.6 344.5 339.6 345 339.6 345.5 339.6 346 339.6 346.5 339.6 347 339.6 347.5 339.6 348 339.6 348.5 339.6 349 339.6 349.5 339.6 350 339.6 350.5 339.6 351 339.6 351.5 339.6 352 339.6 352.5 339.6 353 339.6 353.5 339.6 354 339.6 354.5 339.6 355 339.6 355.5 339.6 356 339.6 356.5 339.6 357 339.6 357.5 339.6 358 339.6 358.5 339.6 359 339.6 359.5 339.6 360 339.6 360.5 339.6 361 339.6 361.5 339.6 362 339.6 362.5 339.6 363 339.6 363.5 339.6 364 339.6 364.5 339.6 365 339.6 365.5 339.6 366 339.6 366.5 339.6 367 339.6 367.5 339.6 368 339.6 368.5 339.6 369 339.6 369.5 339.6 370 339.6 370.5 339.6 371 339.6 371.5 339.6 372 339.6 372.5 339.6 373 339.6 373.5 339.6 374 339.6 374.5 339.6 375 339.6 375.5 339.6 376 339.6 376.5 339.6 377 339.6 377.5 339.6 378 339.6 378.5 339.6 379 339.6 379.5 339.6 380 339.6 380.5 339.6 381 339.6 381.5 339.6 382 339.6 382.5 339.6 383 339.6 383.5 339.6 384 339.6 384.5 339.6 385 339.6 385.5 339.6 386 339.6 386.5 339.6 387 339.6 387.5 339.6 388 339.6 388.5 339.6 389 339.6 389.5 339.6 390 339.6 390.5 339.6 391 339.6 391.5 339.6 392 339.6 392.5 339.6 393 339.6 393.5 339.6 394 339.6 394.5 339.6 395 339.6 395.5 339.6 396 339.6 396.5 339.6 397 339.6 397.5 339.6 398 339.6 398.5 339.6 399 339.6 399.5 339.6 400 339.6 400.5 339.6 401 339.6 401.5 339.6 402 339.6 402.5 339.6 403 339.6 403.5 339.6 404 339.6 404.5 339.6 405 339.6 405.5 339.6 406 339.6 406.5 339.6 407 339.6 407.5 339.6 408 339.6 408.5 339.6 409 339.6 409.5 339.6 410 339.6 410.5 339.6 411 339.6 411.5 339.6 412 339.6 412.5 339.6 413 339.6 413.5 339.6 414 339.6 414.5 339.6 415 339.6 415.5 339.6 416 339.6 416.5 339.6 417 339.6 417.5 339.6 418 339.6 418.5 339.6 419 339.6 419.5 339.6 420 339.6 420.5 339.5 421 339.5 421.5 339.5 422 339.5 422.5 339.5 423 339.5 423.5 339.5 424 339.5 424.5 339.4 425 339.4 425.5 339.4 426 339.3 426.5 339.3 427 339.3 427.5 339.2 428 339.2 428.5 339.1 429 339 429.5 338.9 430 338.9 430.5 338.8 431 338.6 431.5 338.5 432 338.4 432.5 338.2 433 338.1 433.5 337.9 434 337.7 434.5 337.5 435 337.2 435.5 337 436 336.7 436.5 336.4 437 336 437.5 335.6 438 335.2 438.5 334.8 439 334.3 439.5 333.8 440 333.3 440.5 332.7 441 332.1 441.5 331.4 442 330.7 442.5 330 443 329.2 443.5 328.3 444 327.4 444.5 326.5 445 325.5 445.5 324.5 446 323.4 446.5 322.3 447 321.2 447.5 320 448 318.7 448.5 317.5 449 316.1 449.5 314.8 450 313.4 450.5 312 451 310.6 451.5 309.1 452 307.7 452.5 306.2 453 304.7 453.5 303.2 454 301.8 454.5 300.3 455 298.9 455.5 297.5 456 296.1 456.5 294.7 457 293.4 457.5 292.1 458 290.9 458.5 289.7 459 288.6 459.5 287.6 460 286.7 460.5 285.8 461 285 461.5 284.3 462 283.7 462.5 283.2 463 282.8 463.5 282.4 464 282.2 464.5 282.1 465 282.1 465.5 282.2 466 282.4 466.5 282.7 467 283.1 467.5 283.6 468 284.2 468.5 284.9 469 285.6 469.5 286.5 470 287.4 470.5 288.4 471 289.5 471.5 290.7 472 291.9 472.5 293.1 473 294.4 473.5 295.8 474 297.2 474.5 298.6 475 300 475.5 301.5 476 303 476.5 304.4 477 305.9 477.5 307.4 478 308.8 478.5 310.3 479 311.7 479.5 313.1 480 314.5 480.5 315.9 481 317.2 481.5 318.5 482 319.7 482.5 320.9 483 322.1 483.5 323.2 484 324.3 484.5 325.3 485 326.3 485.5 327.3 486 328.2 486.5 329 487 329.8 487.5 330.6 488 331.3 488.5 331.9 489 332.6 489.5 333.2 490 333.7 490.5 334.2 491 334.7 491.5 335.2 492 335.6 492.5 335.9 493 336.3 493.5 336.6 494 336.9 494.5 337.2 495 337.4 495.5 337.7 496 337.9 496.5 338 497 338.2 497.5 338.4 498 338.5 498.5 338.6 499 338.7 499.5 338.8 500 338.9 500.5 339 501 339.1 501.5 339.1 502 339.2 502.5 339.3 503 339.3 503.5 339.3 504 339.4 504.5 339.4 505 339.4 505.5 339.4 506 339.5" fill="none" stroke="#2f4f90" stroke-width="1.0" stroke-linejoin="round"/>
<path d="M324 339.6 324.5 339.6 325 339.6 325.5 339.6 326 339.6 326.5 339.6 327 339.6 327.5 339.6 328 339.6 328.5 339.5 329 339.5 329.5 339.5 330 339.5 330.5 339.5 331 339.5 331.5 339.5 332 339.5 332.5 339.5 333 339.5 333.5 339.4 334 339.4 334.5 339.4 335 339.4 335.5 339.4 336 339.3 336.5 339.3 337 339.3 337.5 339.3 338 339.2 338.5 339.2 339 339.2 339.5 339.1 340 339.1 340.5 339 341 339 341.5 339 342 338.9 342.5 338.9 343 338.8 343.5 338.7 344 338.7 344.5 338.6 345 338.6 345.5 338.5 346 338.4 346.5 338.4 347 338.3 347.5 338.2 348 338.1 348.5 338.1 349 338 349.5 337.9 350 337.8 350.5 337.7 351 337.7 351.5 337.6 352 337.5 352.5 337.4 353 337.3 353.5 337.3 354 337.2 354.5 337.1 355 337 355.5 337 356 336.9 356.5 336.8 357 336.8 357.5 336.7 358 336.7 358.5 336.6 359 336.6 359.5 336.5 360 336.5 360.5 336.5 361 336.4 361.5 336.4 362 336.4 362.5 336.4 363 336.4 363.5 336.4 364 336.4 364.5 336.4 365 336.4 365.5 336.5 366 336.5 366.5 336.5 367 336.6 367.5 336.6 368 336.7 368.5 336.7 369 336.8 369.5 336.8 370 336.9 370.5 337 371 337 371.5 337.1 372 337.2 372.5 337.3 373 337.3 373.5 337.4 374 337.5 374.5 337.6 375 337.7 375.5 337.7 376 337.8 376.5 337.9 377 338 377.5 338.1 378 338.1 378.5 338.2 379 338.3 379.5 338.4 380 338.4 380.5 338.5 381 338.6 381.5 338.6 382 338.7 382.5 338.7 383 338.8 383.5 338.9 384 338.9 384.5 339 385 339 385.5 339 386 339.1 386.5 339.1 387 339.2 387.5 339.2 388 339.2 388.5 339.3 389 339.3 389.5 339.3 390 339.3 390.5 339.4 391 339.4 391.5 339.4 392 339.4 392.5 339.4 393 339.5 393.5 339.5 394 339.5 394.5 339.5 395 339.5 395.5 339.5 396 339.5 396.5 339.5 397 339.5 397.5 339.5 398 339.6 398.5 339.6 399 339.6 399.5 339.6 400 339.6 400.5 339.6 401 339.6 401.5 339.6 402 339.6 402.5 339.6 403 339.6 403.5 339.6 404 339.6 404.5 339.6 405 339.6 405.5 339.6 406 339.6 406.5 339.6 407 339.6 407.5 339.6 408 339.6 408.5 339.6 409 339.6 409.5 339.6 410 339.6 410.5 339.6 411 339.6 411.5 339.6 412 339.6 412.5 339.6 413 339.6 413.5 339.6 414 339.6 414.5 339.6 415 339.6 415.5 339.6 416 339.6 416.5 339.6 417 339.6 417.5 339.6 418 339.6 418.5 339.6 419 339.6 419.5 339.6 420 339.6 420.5 339.6 421 339.6 421.5 339.6 422 339.6 422.5 339.6 423 339.6 423.5 339.6 424 339.6 424.5 339.6 425 339.6 425.5 339.6 426 339.6 426.5 339.6 427 339.6 427.5 339.6 428 339.6 428.5 339.6 429 339.6 429.5 339.6 430 339.6 430.5 339.6 431 339.6 431.5 339.6 432 339.6 432.5 339.6 433 339.6 433.5 339.6 434 339.6 434.5 339.6 435 339.6 435.5 339.6 436 339.6 436.5 339.6 437 339.6 437.5 339.6 438 339.6 438.5 339.6 439 339.6 439.5 339.6 440 339.6 440.5 339.6 441 339.6 441.5 339.6 442 339.6 442.5 339.6 443 339.6 443.5 339.6 444 339.6 444.5 339.6 445 339.6 445.5 339.6 446 339.6 446.5 339.6 447 339.6 447.5 339.6 448 339.6 448.5 339.6 449 339.6 449.5 339.6 450 339.6 450.5 339.6 451 339.6 451.5 339.6 452 339.6 452.5 339.6 453 339.6 453.5 339.6 454 339.6 454.5 339.6 455 339.6 455.5 339.6 456 339.6 456.5 339.6 457 339.6 457.5 339.6 458 339.6 458.5 339.6 459 339.6 459.5 339.6 460 339.6 460.5 339.6 461 339.6 461.5 339.6 462 339.6 462.5 339.6 463 339.6 463.5 339.6 464 339.6 464.5 339.6 465 339.6 465.5 339.6 466 339.6 466.5 339.6 467 339.6 467.5 339.6 468 339.6 468.5 339.6 469 339.6 469.5 339.6 470 339.6 470.5 339.6 471 339.6 471.5 339.6 472 339.6 472.5 339.6 473 339.6 473.5 339.6 474 339.6 474.5 339.6 475 339.6 475.5 339.6 476 339.6 476.5 339.6 477 339.6 477.5 339.6 478 339.6 478.5 339.6 479 339.6 479.5 339.6 480 339.6 480.5 339.6 481 339.6 481.5 339.6 482 339.6 482.5 339.6 483 339.6 483.5 339.6 484 339.6 484.5 339.6 485 339.6 485.5 339.6 486 339.6 486.5 339.6 487 339.6 487.5 339.6 488 339.6 488.5 339.6 489 339.6 489.5 339.6 490 339.6 490.5 339.6 491 339.6 491.5 339.6 492 339.6 492.5 339.6 493 339.6 493.5 339.6 494 339.6 494.5 339.6 495 339.6 495.5 339.6 496 339.6 496.5 339.6 497 339.6 497.5 339.6 498 339.6 498.5 339.6 499 339.6 499.5 339.6 500 339.6 500.5 339.6 501 339.6 501.5 339.6 502 339.6 502.5 339.6 503 339.6 503.5 339.6 504 339.6 504.5 339.6 505 339.6 505.5 339.6 506 339.6" fill="none" stroke="#2f4f90" stroke-width="1.0" stroke-linejoin="round"/>
<text x="404.2" y="265" font-size="6.0" fill="#222" stroke="#222" stroke-width="0.16" textLength="17.7" lengthAdjust="spacingAndGlyphs">-2.7pA</text>
<text x="456.5" y="276.1" font-size="6.0" fill="#222" stroke="#222" stroke-width="0.16" textLength="17.7" lengthAdjust="spacingAndGlyphs">-0.7pA</text>
<text x="354.4" y="331.6" font-size="6.0" fill="#222" stroke="#222" stroke-width="0.16" textLength="18.0" lengthAdjust="spacingAndGlyphs">-4.7pA</text>
<line x1="320.6" y1="367" x2="320.6" y2="520.2" stroke="#3a3a3a" stroke-width="1.25"/>
<line x1="317.6" y1="519.7" x2="320.6" y2="519.7" stroke="#2a2a2a" stroke-width="0.9"/>
<text x="313.4" y="522.3" font-size="7.4" fill="#222" stroke="#222" stroke-width="0.16" text-anchor="end" textLength="3.9" lengthAdjust="spacingAndGlyphs">0</text>
<line x1="319.1" y1="508.2" x2="320.6" y2="508.2" stroke="#2a2a2a" stroke-width="0.8"/>
<line x1="317.6" y1="496.7" x2="320.6" y2="496.7" stroke="#2a2a2a" stroke-width="0.9"/>
<text x="313.4" y="499.3" font-size="7.4" fill="#222" stroke="#222" stroke-width="0.16" text-anchor="end" textLength="14.8" lengthAdjust="spacingAndGlyphs">1000</text>
<line x1="319.1" y1="485.2" x2="320.6" y2="485.2" stroke="#2a2a2a" stroke-width="0.8"/>
<line x1="317.6" y1="473.7" x2="320.6" y2="473.7" stroke="#2a2a2a" stroke-width="0.9"/>
<text x="313.4" y="476.3" font-size="7.4" fill="#222" stroke="#222" stroke-width="0.16" text-anchor="end" textLength="14.8" lengthAdjust="spacingAndGlyphs">2000</text>
<line x1="319.1" y1="462.2" x2="320.6" y2="462.2" stroke="#2a2a2a" stroke-width="0.8"/>
<line x1="317.6" y1="450.7" x2="320.6" y2="450.7" stroke="#2a2a2a" stroke-width="0.9"/>
<text x="313.4" y="453.3" font-size="7.4" fill="#222" stroke="#222" stroke-width="0.16" text-anchor="end" textLength="14.8" lengthAdjust="spacingAndGlyphs">3000</text>
<line x1="319.1" y1="439.2" x2="320.6" y2="439.2" stroke="#2a2a2a" stroke-width="0.8"/>
<line x1="317.6" y1="427.7" x2="320.6" y2="427.7" stroke="#2a2a2a" stroke-width="0.9"/>
<text x="313.4" y="430.3" font-size="7.4" fill="#222" stroke="#222" stroke-width="0.16" text-anchor="end" textLength="14.8" lengthAdjust="spacingAndGlyphs">4000</text>
<line x1="319.1" y1="416.2" x2="320.6" y2="416.2" stroke="#2a2a2a" stroke-width="0.8"/>
<line x1="317.6" y1="404.7" x2="320.6" y2="404.7" stroke="#2a2a2a" stroke-width="0.9"/>
<text x="313.4" y="407.3" font-size="7.4" fill="#222" stroke="#222" stroke-width="0.16" text-anchor="end" textLength="14.8" lengthAdjust="spacingAndGlyphs">5000</text>
<line x1="319.1" y1="393.2" x2="320.6" y2="393.2" stroke="#2a2a2a" stroke-width="0.8"/>
<line x1="317.6" y1="381.7" x2="320.6" y2="381.7" stroke="#2a2a2a" stroke-width="0.9"/>
<text x="313.4" y="384.3" font-size="7.4" fill="#222" stroke="#222" stroke-width="0.16" text-anchor="end" textLength="14.8" lengthAdjust="spacingAndGlyphs">6000</text>
<line x1="319.1" y1="370.2" x2="320.6" y2="370.2" stroke="#2a2a2a" stroke-width="0.8"/>
<text x="315.6" y="372" font-size="7.2" fill="#222" stroke="#222" stroke-width="0.16" text-anchor="end">N</text>
<line x1="318.1" y1="519.7" x2="508.4" y2="519.7" stroke="#111" stroke-width="1.3"/>
<line x1="338" y1="519.7" x2="338" y2="522.3" stroke="#2a2a2a" stroke-width="0.9"/>
<text x="337.9" y="532.3" font-size="6.8" fill="#222" stroke="#222" stroke-width="0.16" text-anchor="middle">-4</text>
<line x1="354.8" y1="519.7" x2="354.8" y2="521.3" stroke="#2a2a2a" stroke-width="0.8"/>
<line x1="371.5" y1="519.7" x2="371.5" y2="522.3" stroke="#2a2a2a" stroke-width="0.9"/>
<text x="371.4" y="532.3" font-size="6.8" fill="#222" stroke="#222" stroke-width="0.16" text-anchor="middle">-3</text>
<line x1="388.2" y1="519.7" x2="388.2" y2="521.3" stroke="#2a2a2a" stroke-width="0.8"/>
<line x1="405" y1="519.7" x2="405" y2="522.3" stroke="#2a2a2a" stroke-width="0.9"/>
<text x="404.9" y="532.3" font-size="6.8" fill="#222" stroke="#222" stroke-width="0.16" text-anchor="middle">-2</text>
<line x1="421.8" y1="519.7" x2="421.8" y2="521.3" stroke="#2a2a2a" stroke-width="0.8"/>
<line x1="438.5" y1="519.7" x2="438.5" y2="522.3" stroke="#2a2a2a" stroke-width="0.9"/>
<text x="438.4" y="532.3" font-size="6.8" fill="#222" stroke="#222" stroke-width="0.16" text-anchor="middle">-1</text>
<line x1="455.2" y1="519.7" x2="455.2" y2="521.3" stroke="#2a2a2a" stroke-width="0.8"/>
<line x1="472" y1="519.7" x2="472" y2="522.3" stroke="#2a2a2a" stroke-width="0.9"/>
<text x="472" y="532.3" font-size="6.8" fill="#222" stroke="#222" stroke-width="0.16" text-anchor="middle">0</text>
<line x1="488.8" y1="519.7" x2="488.8" y2="521.3" stroke="#2a2a2a" stroke-width="0.8"/>
<line x1="505.5" y1="519.7" x2="505.5" y2="522.3" stroke="#2a2a2a" stroke-width="0.9"/>
<text x="505.5" y="532.3" font-size="6.8" fill="#222" stroke="#222" stroke-width="0.16" text-anchor="middle">1</text>
<text x="489.3" y="514.4" font-size="6.0" fill="#222" stroke="#222" stroke-width="0.16" textLength="11.7" lengthAdjust="spacingAndGlyphs">I(pA)</text>
<path d="M345 519.7 345.5 519.6 346 519.7 346.5 519.7 347 519.7 347.5 519.6 348 519.5 348.5 519.5 349 519.5 349.5 519.5 350 519.5 350.5 519.5 351 519.6 351.5 519.4 352 519.4 352.5 519.3 353 519.5 353.5 519.4 354 519.3 354.5 519.2 355 519.1 355.5 519.1 356 518.9 356.5 518.9 357 518.8 357.5 518.7 358 518.6 358.5 518.3 359 518.3 359.5 518.1 360 518.1 360.5 517.9 361 517.7 361.5 517.5 362 517.2 362.5 517 363 516.8 363.5 516.9 364 516.5 364.5 515.4 365 515.9 365.5 515.1 366 514.7 366.5 515.1 367 514 367.5 513 368 514 368.5 512.7 369 512.1 369.5 511.9 370 510.7 370.5 510.3 371 510.3 371.5 508.6 372 507.9 372.5 507.1 373 506.1 373.5 505.8 374 505 374.5 504.8 375 503.1 375.5 502.7 376 501.7 376.5 501.2 377 500.1 377.5 498.9 378 497.1 378.5 497.5 379 496.2 379.5 494.4 380 492.8 380.5 492.2 381 492.2 381.5 491.5 382 489.1 382.5 488.6 383 487.7 383.5 485.7 384 484.7 384.5 484.1 385 483.1 385.5 482.1 386 480.7 386.5 480.3 387 479.5 387.5 478.7 388 478.9 388.5 476.9 389 476.5 389.5 476.1 390 476.7 390.5 475.6 391 474.5 391.5 475.3 392 474.3 392.5 473.5 393 474.4 393.5 473 394 473.4 394.5 473.8 395 473.7 395.5 473.7 396 474.3 396.5 474.1 397 475.4 397.5 475.8 398 475.7 398.5 476.7 399 477.8 399.5 477.8 400 478.3 400.5 480 401 481.3 401.5 481.7 402 482.7 402.5 483.7 403 484 403.5 486.1 404 486.1 404.5 488.3 405 489.2 405.5 489.6 406 490.4 406.5 491.5 407 492.8 407.5 493.8 408 494.8 408.5 495.5 409 496.7 409.5 497.4 410 498 410.5 499 411 499.4 411.5 500.1 412 500.1 412.5 501.4 413 502.3 413.5 502.7 414 502.9 414.5 502.8 415 503.7 415.5 503.6 416 503.2 416.5 505.4 417 504.8 417.5 504.3 418 504.3 418.5 504.4 419 504.7 419.5 504.2 420 504.4 420.5 504.7 421 503.3 421.5 504.1 422 504.4 422.5 504.1 423 504 423.5 503.8 424 504.9 424.5 503.7 425 502.8 425.5 503.6 426 502.8 426.5 502.1 427 501.8 427.5 501.2 428 502.3 428.5 501.2 429 500.8 429.5 499.8 430 499.1 430.5 500.1 431 497.8 431.5 498.2 432 496.4 432.5 496.6 433 494.9 433.5 493.5 434 493 434.5 491.8 435 490.3 435.5 489.4 436 488.2 436.5 486.1 437 484.9 437.5 484.1 438 481.2 438.5 481.5 439 479 439.5 477.9 440 476.1 440.5 474.2 441 472.7 441.5 470.9 442 470.2 442.5 468.5 443 465.9 443.5 464.9 444 463.3 444.5 461.9 445 459.1 445.5 457.8 446 456 446.5 455.6 447 453.8 447.5 453 448 450.9 448.5 449.4 449 449.4 449.5 447.3 450 446.6 450.5 446.3 451 446.4 451.5 444.2 452 444.4 452.5 444.2 453 443.4 453.5 443.2 454 442.5 454.5 443.7 455 442.8 455.5 443 456 443.4 456.5 444.7 457 445.7 457.5 445.7 458 447.1 458.5 448.2 459 448.9 459.5 451 460 453.4 460.5 454.1 461 456.4 461.5 456.9 462 458.9 462.5 461.2 463 462.8 463.5 464.4 464 466.7 464.5 468.2 465 470.9 465.5 472.4 466 474.3 466.5 476.3 467 479.3 467.5 480.6 468 483.9 468.5 485.5 469 487.8 469.5 488.3 470 491.1 470.5 492.3 471 494.1 471.5 495.7 472 497.5 472.5 498.7 473 499.4 473.5 501.6 474 502.7 474.5 503.8 475 505.5 475.5 507.1 476 507.8 476.5 508.1 477 510.3 477.5 510.7 478 510.8 478.5 511.6 479 512.7 479.5 513 480 513.9 480.5 515 481 515.7 481.5 515.8 482 515.5 482.5 516.6 483 517.1 483.5 517.1 484 517.4 484.5 517.6 485 517.9 485.5 518 486 518.4 486.5 518.4 487 518.6 487.5 518.9 488 518.7 488.5 518.9 489 519.2 489.5 519.2 490 519.2 490.5 519.3 491 519.2 491.5 519.3 492 519.3 492.5 519.4 493 519.4 493.5 519.5 494 519.5 494.5 519.8 495 519.5 495.5 519.5 496 519.6 496.5 519.7 497 519.5 497.5 519.8 498 519.6 498.5 519.4 499 519.8 499.5 519.6 500 519.5 500.5 519.7 501 519.6 501.5 519.6 502 519.8 502.5 519.7 503 519.7 503.5 519.6 504 519.7 504.5 519.7 505 519.8" fill="none" stroke="#5346a6" stroke-width="1.05" stroke-linejoin="round"/>
<path d="M340 519.7 340.5 519.7 341 519.7 341.5 519.7 342 519.7 342.5 519.7 343 519.7 343.5 519.7 344 519.6 344.5 519.6 345 519.6 345.5 519.6 346 519.6 346.5 519.6 347 519.6 347.5 519.6 348 519.5 348.5 519.5 349 519.5 349.5 519.5 350 519.5 350.5 519.4 351 519.4 351.5 519.4 352 519.3 352.5 519.3 353 519.2 353.5 519.2 354 519.1 354.5 519 355 519 355.5 518.9 356 518.8 356.5 518.7 357 518.6 357.5 518.5 358 518.4 358.5 518.2 359 518.1 359.5 517.9 360 517.8 360.5 517.6 361 517.4 361.5 517.2 362 516.9 362.5 516.7 363 516.4 363.5 516.2 364 515.9 364.5 515.5 365 515.2 365.5 514.9 366 514.5 366.5 514.1 367 513.7 367.5 513.2 368 512.7 368.5 512.2 369 511.7 369.5 511.2 370 510.6 370.5 510 371 509.4 371.5 508.8 372 508.1 372.5 507.4 373 506.7 373.5 506 374 505.2 374.5 504.4 375 503.6 375.5 502.8 376 501.9 376.5 501.1 377 500.2 377.5 499.3 378 498.4 378.5 497.5 379 496.6 379.5 495.6 380 494.7 380.5 493.7 381 492.8 381.5 491.9 382 490.9 382.5 490 383 489.1 383.5 488.2 384 487.3 384.5 486.4 385 485.6 385.5 484.8 386 484 386.5 483.2 387 482.5 387.5 481.8 388 481.1 388.5 480.5 389 479.9 389.5 479.4 390 478.9 390.5 478.5 391 478.1 391.5 477.8 392 477.5 392.5 477.3 393 477.1 393.5 477 394 476.9 394.5 476.9 395 477 395.5 477.1 396 477.2 396.5 477.4 397 477.7 397.5 478 398 478.4 398.5 478.8 399 479.3 399.5 479.8 400 480.4 400.5 481 401 481.7 401.5 482.3 402 483.1 402.5 483.8 403 484.6 403.5 485.4 404 486.3 404.5 487.1 405 488 405.5 488.9 406 489.8 406.5 490.7 407 491.7 407.5 492.6 408 493.6 408.5 494.5 409 495.4 409.5 496.4 410 497.3 410.5 498.2 411 499.1 411.5 500 412 500.9 412.5 501.8 413 502.6 413.5 503.4 414 504.3 414.5 505 415 505.8 415.5 506.5 416 507.3 416.5 508 417 508.6 417.5 509.3 418 509.9 418.5 510.5 419 511.1 419.5 511.6 420 512.1 420.5 512.6 421 513.1 421.5 513.6 422 514 422.5 514.4 423 514.8 423.5 515.1 424 515.5 424.5 515.8 425 516.1 425.5 516.4 426 516.6 426.5 516.9 427 517.1 427.5 517.3 428 517.5 428.5 517.7 429 517.9 429.5 518 430 518.2 430.5 518.3 431 518.5 431.5 518.6 432 518.7 432.5 518.8 433 518.9 433.5 518.9 434 519 434.5 519.1 435 519.1 435.5 519.2 436 519.3 436.5 519.3 437 519.3 437.5 519.4 438 519.4 438.5 519.4 439 519.5 439.5 519.5 440 519.5 440.5 519.5 441 519.6 441.5 519.6 442 519.6 442.5 519.6 443 519.6 443.5 519.6 444 519.6 444.5 519.6 445 519.6 445.5 519.7 446 519.7 446.5 519.7 447 519.7 447.5 519.7 448 519.7 448.5 519.7 449 519.7 449.5 519.7 450 519.7 450.5 519.7 451 519.7 451.5 519.7 452 519.7 452.5 519.7 453 519.7 453.5 519.7 454 519.7 454.5 519.7 455 519.7 455.5 519.7 456 519.7 456.5 519.7 457 519.7 457.5 519.7 458 519.7 458.5 519.7 459 519.7 459.5 519.7 460 519.7 460.5 519.7 461 519.7 461.5 519.7 462 519.7 462.5 519.7 463 519.7 463.5 519.7 464 519.7 464.5 519.7 465 519.7 465.5 519.7 466 519.7 466.5 519.7 467 519.7 467.5 519.7 468 519.7 468.5 519.7 469 519.7 469.5 519.7 470 519.7 470.5 519.7 471 519.7 471.5 519.7 472 519.7 472.5 519.7 473 519.7 473.5 519.7 474 519.7 474.5 519.7 475 519.7 475.5 519.7 476 519.7 476.5 519.7 477 519.7 477.5 519.7 478 519.7 478.5 519.7 479 519.7 479.5 519.7 480 519.7 480.5 519.7 481 519.7 481.5 519.7 482 519.7 482.5 519.7 483 519.7 483.5 519.7 484 519.7 484.5 519.7 485 519.7 485.5 519.7 486 519.7 486.5 519.7 487 519.7 487.5 519.7 488 519.7 488.5 519.7 489 519.7 489.5 519.7 490 519.7 490.5 519.7 491 519.7 491.5 519.7 492 519.7 492.5 519.7 493 519.7 493.5 519.7 494 519.7 494.5 519.7 495 519.7 495.5 519.7 496 519.7 496.5 519.7 497 519.7 497.5 519.7 498 519.7 498.5 519.7 499 519.7 499.5 519.7 500 519.7 500.5 519.7 501 519.7 501.5 519.7 502 519.7 502.5 519.7 503 519.7 503.5 519.7 504 519.7 504.5 519.7 505 519.7" fill="none" stroke="#c0183c" stroke-width="1.25" stroke-linejoin="round"/>
<path d="M340 519.7 340.5 519.7 341 519.7 341.5 519.7 342 519.7 342.5 519.7 343 519.7 343.5 519.7 344 519.7 344.5 519.7 345 519.7 345.5 519.7 346 519.7 346.5 519.7 347 519.7 347.5 519.7 348 519.7 348.5 519.7 349 519.7 349.5 519.7 350 519.7 350.5 519.7 351 519.7 351.5 519.7 352 519.7 352.5 519.7 353 519.7 353.5 519.7 354 519.7 354.5 519.7 355 519.7 355.5 519.7 356 519.7 356.5 519.7 357 519.7 357.5 519.7 358 519.7 358.5 519.7 359 519.7 359.5 519.7 360 519.7 360.5 519.7 361 519.7 361.5 519.7 362 519.7 362.5 519.7 363 519.7 363.5 519.7 364 519.7 364.5 519.7 365 519.7 365.5 519.7 366 519.7 366.5 519.7 367 519.7 367.5 519.7 368 519.7 368.5 519.7 369 519.7 369.5 519.7 370 519.7 370.5 519.7 371 519.7 371.5 519.7 372 519.7 372.5 519.7 373 519.7 373.5 519.7 374 519.7 374.5 519.7 375 519.7 375.5 519.7 376 519.7 376.5 519.7 377 519.7 377.5 519.7 378 519.7 378.5 519.7 379 519.7 379.5 519.7 380 519.7 380.5 519.7 381 519.7 381.5 519.7 382 519.7 382.5 519.7 383 519.7 383.5 519.7 384 519.7 384.5 519.7 385 519.7 385.5 519.7 386 519.7 386.5 519.7 387 519.7 387.5 519.7 388 519.7 388.5 519.7 389 519.7 389.5 519.7 390 519.7 390.5 519.7 391 519.7 391.5 519.7 392 519.7 392.5 519.7 393 519.7 393.5 519.7 394 519.7 394.5 519.7 395 519.7 395.5 519.7 396 519.7 396.5 519.7 397 519.7 397.5 519.7 398 519.7 398.5 519.7 399 519.7 399.5 519.7 400 519.7 400.5 519.7 401 519.7 401.5 519.7 402 519.7 402.5 519.7 403 519.7 403.5 519.7 404 519.7 404.5 519.7 405 519.7 405.5 519.7 406 519.7 406.5 519.6 407 519.6 407.5 519.6 408 519.6 408.5 519.6 409 519.6 409.5 519.6 410 519.5 410.5 519.5 411 519.5 411.5 519.5 412 519.4 412.5 519.4 413 519.4 413.5 519.3 414 519.2 414.5 519.2 415 519.1 415.5 519 416 519 416.5 518.9 417 518.8 417.5 518.6 418 518.5 418.5 518.4 419 518.2 419.5 518 420 517.9 420.5 517.7 421 517.4 421.5 517.2 422 516.9 422.5 516.6 423 516.3 423.5 515.9 424 515.6 424.5 515.1 425 514.7 425.5 514.2 426 513.7 426.5 513.2 427 512.6 427.5 511.9 428 511.3 428.5 510.5 429 509.8 429.5 509 430 508.1 430.5 507.2 431 506.2 431.5 505.2 432 504.2 432.5 503.1 433 501.9 433.5 500.7 434 499.4 434.5 498.1 435 496.7 435.5 495.3 436 493.9 436.5 492.4 437 490.8 437.5 489.2 438 487.6 438.5 486 439 484.3 439.5 482.6 440 480.9 440.5 479.1 441 477.4 441.5 475.6 442 473.8 442.5 472.1 443 470.3 443.5 468.6 444 466.9 444.5 465.2 445 463.6 445.5 461.9 446 460.4 446.5 458.9 447 457.4 447.5 456.1 448 454.8 448.5 453.5 449 452.4 449.5 451.3 450 450.4 450.5 449.5 451 448.7 451.5 448.1 452 447.5 452.5 447.1 453 446.7 453.5 446.5 454 446.4 454.5 446.4 455 446.5 455.5 446.8 456 447.1 456.5 447.6 457 448.2 457.5 448.9 458 449.7 458.5 450.5 459 451.5 459.5 452.6 460 453.8 460.5 455 461 456.3 461.5 457.7 462 459.2 462.5 460.7 463 462.3 463.5 463.9 464 465.5 464.5 467.2 465 468.9 465.5 470.7 466 472.4 466.5 474.2 467 475.9 467.5 477.7 468 479.5 468.5 481.2 469 482.9 469.5 484.6 470 486.3 470.5 488 471 489.6 471.5 491.1 472 492.7 472.5 494.2 473 495.6 473.5 497 474 498.4 474.5 499.7 475 500.9 475.5 502.1 476 503.3 476.5 504.4 477 505.4 477.5 506.4 478 507.4 478.5 508.3 479 509.1 479.5 509.9 480 510.7 480.5 511.4 481 512.1 481.5 512.7 482 513.3 482.5 513.8 483 514.3 483.5 514.8 484 515.2 484.5 515.6 485 516 485.5 516.3 486 516.7 486.5 517 487 517.2 487.5 517.5 488 517.7 488.5 517.9 489 518.1 489.5 518.3 490 518.4 490.5 518.5 491 518.7 491.5 518.8 492 518.9 492.5 519 493 519.1 493.5 519.1 494 519.2 494.5 519.3 495 519.3 495.5 519.4 496 519.4 496.5 519.4 497 519.5 497.5 519.5 498 519.5 498.5 519.5 499 519.6 499.5 519.6 500 519.6 500.5 519.6 501 519.6 501.5 519.6 502 519.6 502.5 519.7 503 519.7 503.5 519.7 504 519.7 504.5 519.7 505 519.7" fill="none" stroke="#c0183c" stroke-width="1.25" stroke-linejoin="round"/>
<text x="384.6" y="467" font-size="6.0" fill="#222" stroke="#222" stroke-width="0.16" textLength="16.9" lengthAdjust="spacingAndGlyphs">-2.4pA</text>
<text x="444.6" y="437.3" font-size="6.0" fill="#222" stroke="#222" stroke-width="0.16" textLength="18.4" lengthAdjust="spacingAndGlyphs">-0.4pA</text>
</svg>
</body></html>
